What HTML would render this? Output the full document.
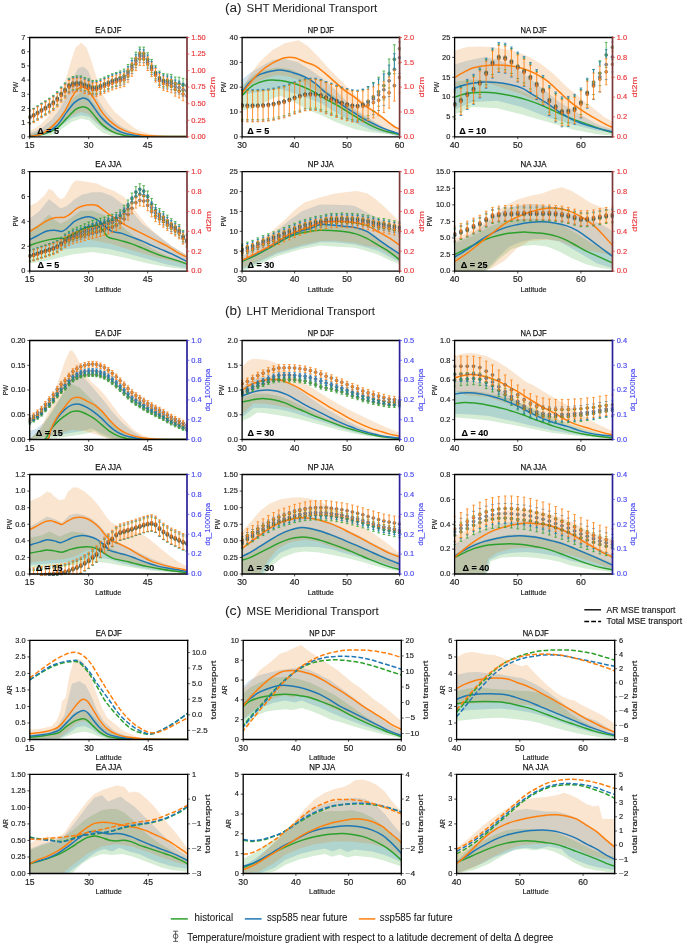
<!DOCTYPE html>
<html><head><meta charset="utf-8"><title>Meridional Transport</title><style>html,body{margin:0;padding:0;background:#fff;}svg{display:block;font-family:"Liberation Sans",sans-serif;will-change:transform;}</style></head><body>
<svg width="685" height="944" viewBox="0 0 685 944" font-family="Liberation Sans, sans-serif">
<rect width="685" height="944" fill="#fff"/>
<clipPath id="c0"><rect x="29.70" y="37.50" width="157.30" height="99.30"/></clipPath>
<g clip-path="url(#c0)">
<path d="M29.74,134.35L46.96,129.36L59.45,118.12L68.18,104.39L75.67,95.66L81.91,91.91L88.15,95.66L95.64,105.64L104.38,118.12L114.36,128.11L126.85,133.85L141.82,136.35L186.76,136.60L186.76,136.60L111.87,136.10L102.63,132.85L96.64,128.11L89.40,120.62L81.41,118.62L71.93,121.87L61.69,129.11L54.70,133.85L49.46,135.85L29.74,136.60Z" fill="#2ca02c" fill-opacity="0.20" stroke="none"/>
<path d="M29.74,133.10L41.97,128.11L51.96,119.37L59.45,109.39L65.69,96.91L71.93,79.43L78.17,68.20L83.16,66.45L88.15,70.69L93.15,83.18L97.39,98.65L106.13,111.88L116.86,123.37L122.10,126.86L131.84,131.85L146.82,135.35L186.76,136.60L186.76,136.60L116.86,134.85L104.38,129.86L96.64,123.37L89.40,116.88L81.41,115.13L71.93,118.12L61.69,125.11L46.96,134.35L29.74,136.60Z" fill="#1f77b4" fill-opacity="0.20" stroke="none"/>
<path d="M29.74,131.35L39.47,125.61L46.96,118.12L54.45,106.89L60.69,94.41L65.69,79.43L70.68,61.96L75.67,47.48L81.16,42.73L86.41,47.48L91.40,60.71L96.39,76.93L101.88,92.66L108.12,103.15L114.86,111.88L121.85,118.12L128.09,123.37L134.34,128.11L140.08,131.11L151.81,134.35L166.79,135.85L186.76,136.35L186.76,136.60L126.85,135.60L111.87,133.10L102.63,127.36L96.64,122.12L89.40,114.38L81.41,111.63L71.93,115.63L61.69,123.37L54.70,128.11L46.96,133.10L29.74,136.60Z" fill="#e67d14" fill-opacity="0.20" stroke="none"/>
<path d="M29.74,136.35C32.19,135.93 39.93,135.22 44.47,133.85C49.00,132.48 53.20,130.73 56.95,128.11C60.69,125.49 63.81,121.24 66.93,118.12C70.05,115.00 73.18,111.26 75.67,109.39C78.17,107.51 79.83,107.02 81.91,106.89C83.99,106.77 86.07,107.18 88.15,108.64C90.23,110.09 92.11,113.01 94.39,115.63C96.68,118.25 98.97,121.74 101.88,124.36C104.80,126.99 108.54,129.61 111.87,131.35C115.20,133.10 118.11,134.02 121.85,134.85C125.60,135.68 123.52,136.06 134.34,136.35C145.15,136.64 178.02,136.56 186.76,136.60" fill="none" stroke="#2ca02c" stroke-width="1.5" stroke-linejoin="round"/>
<path d="M29.74,136.35C32.19,135.81 39.93,134.89 44.47,133.10C49.00,131.31 53.20,129.15 56.95,125.61C60.69,122.08 64.02,115.71 66.93,111.88C69.85,108.06 71.93,104.94 74.42,102.65C76.92,100.36 79.62,98.61 81.91,98.15C84.20,97.70 86.07,98.24 88.15,99.90C90.23,101.56 92.11,105.10 94.39,108.14C96.68,111.18 98.97,115.00 101.88,118.12C104.80,121.24 108.54,124.49 111.87,126.86C115.20,129.23 118.11,130.94 121.85,132.35C125.60,133.77 130.18,134.68 134.34,135.35C138.50,136.01 138.08,136.14 146.82,136.35C155.55,136.56 180.10,136.56 186.76,136.60" fill="none" stroke="#1f77b4" stroke-width="1.5" stroke-linejoin="round"/>
<path d="M29.74,136.35C31.78,135.93 37.85,135.85 41.97,133.85C46.09,131.85 50.71,128.03 54.45,124.36C58.20,120.70 61.53,116.38 64.44,111.88C67.35,107.39 69.76,101.15 71.93,97.40C74.09,93.66 75.75,91.16 77.42,89.42C79.08,87.67 80.33,87.00 81.91,86.92C83.49,86.84 84.82,86.84 86.91,88.92C88.99,91.00 91.90,95.57 94.39,99.40C96.89,103.23 99.39,108.35 101.88,111.88C104.38,115.42 106.46,117.92 109.37,120.62C112.28,123.32 116.03,126.15 119.36,128.11C122.69,130.06 125.60,131.19 129.34,132.35C133.09,133.52 137.25,134.43 141.82,135.10C146.40,135.76 149.31,136.10 156.80,136.35C164.29,136.60 181.77,136.56 186.76,136.60" fill="none" stroke="#ff7f0e" stroke-width="1.5" stroke-linejoin="round"/>
</g>
<g clip-path="url(#c0x)">
<g fill="#2ca02c" fill-opacity="0.75" stroke="#444" stroke-width="0.70" stroke-opacity="0.70"><circle cx="29.70" cy="116.63" r="1.50"/><circle cx="33.63" cy="114.79" r="1.50"/><circle cx="37.56" cy="112.29" r="1.50"/><circle cx="41.50" cy="109.69" r="1.50"/><circle cx="45.43" cy="107.34" r="1.50"/><circle cx="49.36" cy="104.74" r="1.50"/><circle cx="53.30" cy="101.92" r="1.50"/><circle cx="57.23" cy="98.12" r="1.50"/><circle cx="61.16" cy="93.35" r="1.50"/><circle cx="65.09" cy="89.32" r="1.50"/><circle cx="69.03" cy="84.80" r="1.50"/><circle cx="72.96" cy="83.02" r="1.50"/><circle cx="76.89" cy="82.43" r="1.50"/><circle cx="80.82" cy="82.39" r="1.50"/><circle cx="84.75" cy="84.07" r="1.50"/><circle cx="88.69" cy="85.32" r="1.50"/><circle cx="92.62" cy="86.93" r="1.50"/><circle cx="96.55" cy="86.78" r="1.50"/><circle cx="100.49" cy="85.35" r="1.50"/><circle cx="104.42" cy="83.56" r="1.50"/><circle cx="108.35" cy="82.04" r="1.50"/><circle cx="112.28" cy="80.21" r="1.50"/><circle cx="116.22" cy="78.97" r="1.50"/><circle cx="120.15" cy="77.40" r="1.50"/><circle cx="124.08" cy="75.66" r="1.50"/><circle cx="128.01" cy="70.98" r="1.50"/><circle cx="131.94" cy="64.63" r="1.50"/><circle cx="135.88" cy="58.65" r="1.50"/><circle cx="139.81" cy="53.48" r="1.50"/><circle cx="143.74" cy="53.62" r="1.50"/><circle cx="147.68" cy="59.30" r="1.50"/><circle cx="151.61" cy="66.06" r="1.50"/><circle cx="155.54" cy="72.27" r="1.50"/><circle cx="159.47" cy="77.61" r="1.50"/><circle cx="163.41" cy="80.12" r="1.50"/><circle cx="167.34" cy="80.58" r="1.50"/><circle cx="171.27" cy="80.92" r="1.50"/><circle cx="175.20" cy="83.51" r="1.50"/><circle cx="179.13" cy="83.70" r="1.50"/><circle cx="183.07" cy="84.89" r="1.50"/><circle cx="187.00" cy="85.67" r="1.50"/></g>
<g fill="#1f77b4" fill-opacity="0.75" stroke="#444" stroke-width="0.70" stroke-opacity="0.70"><circle cx="29.70" cy="117.13" r="1.50"/><circle cx="33.63" cy="115.36" r="1.50"/><circle cx="37.56" cy="112.94" r="1.50"/><circle cx="41.50" cy="110.41" r="1.50"/><circle cx="45.43" cy="108.12" r="1.50"/><circle cx="49.36" cy="105.60" r="1.50"/><circle cx="53.30" cy="102.84" r="1.50"/><circle cx="57.23" cy="99.12" r="1.50"/><circle cx="61.16" cy="94.39" r="1.50"/><circle cx="65.09" cy="90.41" r="1.50"/><circle cx="69.03" cy="85.95" r="1.50"/><circle cx="72.96" cy="84.21" r="1.50"/><circle cx="76.89" cy="83.68" r="1.50"/><circle cx="80.82" cy="83.68" r="1.50"/><circle cx="84.75" cy="85.39" r="1.50"/><circle cx="88.69" cy="86.68" r="1.50"/><circle cx="92.62" cy="88.32" r="1.50"/><circle cx="96.55" cy="88.21" r="1.50"/><circle cx="100.49" cy="86.81" r="1.50"/><circle cx="104.42" cy="85.04" r="1.50"/><circle cx="108.35" cy="83.38" r="1.50"/><circle cx="112.28" cy="81.41" r="1.50"/><circle cx="116.22" cy="80.02" r="1.50"/><circle cx="120.15" cy="78.90" r="1.50"/><circle cx="124.08" cy="77.62" r="1.50"/><circle cx="128.01" cy="73.12" r="1.50"/><circle cx="131.94" cy="66.92" r="1.50"/><circle cx="135.88" cy="61.09" r="1.50"/><circle cx="139.81" cy="55.73" r="1.50"/><circle cx="143.74" cy="56.21" r="1.50"/><circle cx="147.68" cy="61.52" r="1.50"/><circle cx="151.61" cy="67.91" r="1.50"/><circle cx="155.54" cy="73.76" r="1.50"/><circle cx="159.47" cy="79.05" r="1.50"/><circle cx="163.41" cy="81.51" r="1.50"/><circle cx="167.34" cy="82.47" r="1.50"/><circle cx="171.27" cy="83.34" r="1.50"/><circle cx="175.20" cy="86.46" r="1.50"/><circle cx="179.13" cy="87.57" r="1.50"/><circle cx="183.07" cy="89.70" r="1.50"/><circle cx="187.00" cy="90.66" r="1.50"/></g>
<g fill="#ff7f0e" fill-opacity="0.75" stroke="#444" stroke-width="0.70" stroke-opacity="0.70"><circle cx="29.70" cy="117.62" r="1.50"/><circle cx="33.63" cy="115.93" r="1.50"/><circle cx="37.56" cy="113.58" r="1.50"/><circle cx="41.50" cy="111.12" r="1.50"/><circle cx="45.43" cy="108.91" r="1.50"/><circle cx="49.36" cy="106.46" r="1.50"/><circle cx="53.30" cy="103.77" r="1.50"/><circle cx="57.23" cy="100.12" r="1.50"/><circle cx="61.16" cy="95.44" r="1.50"/><circle cx="65.09" cy="91.51" r="1.50"/><circle cx="69.03" cy="87.10" r="1.50"/><circle cx="72.96" cy="85.41" r="1.50"/><circle cx="76.89" cy="84.92" r="1.50"/><circle cx="80.82" cy="84.96" r="1.50"/><circle cx="84.75" cy="86.71" r="1.50"/><circle cx="88.69" cy="88.03" r="1.50"/><circle cx="92.62" cy="89.71" r="1.50"/><circle cx="96.55" cy="89.64" r="1.50"/><circle cx="100.49" cy="88.28" r="1.50"/><circle cx="104.42" cy="86.55" r="1.50"/><circle cx="108.35" cy="85.04" r="1.50"/><circle cx="112.28" cy="83.21" r="1.50"/><circle cx="116.22" cy="81.97" r="1.50"/><circle cx="120.15" cy="80.99" r="1.50"/><circle cx="124.08" cy="79.86" r="1.50"/><circle cx="128.01" cy="75.55" r="1.50"/><circle cx="131.94" cy="69.54" r="1.50"/><circle cx="135.88" cy="63.89" r="1.50"/><circle cx="139.81" cy="58.72" r="1.50"/><circle cx="143.74" cy="58.83" r="1.50"/><circle cx="147.68" cy="63.76" r="1.50"/><circle cx="151.61" cy="69.76" r="1.50"/><circle cx="155.54" cy="75.28" r="1.50"/><circle cx="159.47" cy="80.86" r="1.50"/><circle cx="163.41" cy="83.60" r="1.50"/><circle cx="167.34" cy="84.86" r="1.50"/><circle cx="171.27" cy="86.02" r="1.50"/><circle cx="175.20" cy="89.44" r="1.50"/><circle cx="179.13" cy="91.21" r="1.50"/><circle cx="183.07" cy="94.04" r="1.50"/><circle cx="187.00" cy="95.66" r="1.50"/></g>
<path d="M29.70,110.14V110.88M33.63,108.30V109.19M37.56,105.80V106.84M41.50,103.20V104.38M45.43,100.85V102.17M49.36,98.25V99.71M53.30,95.43V97.03M57.23,91.63V93.38M61.16,86.86V88.70M65.09,82.83V84.77M69.03,78.31V80.36M72.96,76.53V78.67M76.89,75.94V78.18M80.82,75.90V78.22M84.75,77.58V79.97M88.69,78.83V81.29M92.62,80.44V82.97M96.55,80.29V82.90M100.49,78.86V81.54M104.42,77.07V79.81M108.35,75.55V78.30M112.28,73.72V76.47M116.22,72.48V75.23M120.15,70.91V74.25M124.08,69.17V73.12M128.01,64.49V68.81M131.94,58.14V62.80M135.88,52.16V57.15M139.81,46.99V51.98M143.74,47.13V52.09M147.68,52.81V57.02M151.61,59.57V63.02M155.54,65.78V68.54M159.47,71.12V74.12M163.41,73.63V76.86M167.34,74.09V78.12M171.27,74.43V79.28M175.20,77.02V82.70M179.13,77.21V84.47M183.07,78.39V87.30M187.00,79.18V88.92" stroke="#2ca02c" stroke-width="0.90" stroke-opacity="0.85" fill="none"/>
<path d="M28.40,110.14h2.6M28.40,123.12h2.6M32.33,108.30h2.6M32.33,121.28h2.6M36.27,105.80h2.6M36.27,118.78h2.6M40.20,103.20h2.6M40.20,116.18h2.6M44.13,100.85h2.6M44.13,113.83h2.6M48.06,98.25h2.6M48.06,111.23h2.6M52.00,95.43h2.6M52.00,108.41h2.6M55.93,91.63h2.6M55.93,104.61h2.6M59.86,86.86h2.6M59.86,99.84h2.6M63.79,82.83h2.6M63.79,95.81h2.6M67.73,78.31h2.6M67.73,91.29h2.6M71.66,76.53h2.6M71.66,89.51h2.6M75.59,75.94h2.6M75.59,88.92h2.6M79.52,75.90h2.6M79.52,88.88h2.6M83.45,77.58h2.6M83.45,90.56h2.6M87.39,78.83h2.6M87.39,91.81h2.6M91.32,80.44h2.6M91.32,93.42h2.6M95.25,80.29h2.6M95.25,93.27h2.6M99.19,78.86h2.6M99.19,91.84h2.6M103.12,77.07h2.6M103.12,90.05h2.6M107.05,75.55h2.6M107.05,88.53h2.6M110.98,73.72h2.6M110.98,86.70h2.6M114.92,72.48h2.6M114.92,85.46h2.6M118.85,70.91h2.6M118.85,83.89h2.6M122.78,69.17h2.6M122.78,82.15h2.6M126.71,64.49h2.6M126.71,77.47h2.6M130.64,58.14h2.6M130.64,71.12h2.6M134.58,52.16h2.6M134.58,65.14h2.6M138.51,46.99h2.6M138.51,59.97h2.6M142.44,47.13h2.6M142.44,60.11h2.6M146.38,52.81h2.6M146.38,65.79h2.6M150.31,59.57h2.6M150.31,72.55h2.6M154.24,65.78h2.6M154.24,78.76h2.6M158.17,71.12h2.6M158.17,84.10h2.6M162.10,73.63h2.6M162.10,86.61h2.6M166.04,74.09h2.6M166.04,87.07h2.6M169.97,74.43h2.6M169.97,87.41h2.6M173.90,77.02h2.6M173.90,90.00h2.6M177.83,77.21h2.6M177.83,90.19h2.6M181.77,78.39h2.6M181.77,91.38h2.6M185.70,79.18h2.6M185.70,92.16h2.6" stroke="#2ca02c" stroke-width="0.9" stroke-opacity="0.85" fill="none"/>
<path d="M29.70,110.64V110.88M33.63,108.87V109.19M37.56,106.44V106.84M41.50,103.92V104.38M45.43,101.63V102.17M49.36,99.11V99.71M53.30,96.35V97.03M57.23,92.63V93.38M61.16,87.90V88.70M65.09,83.92V84.77M69.03,79.46V80.36M72.96,77.72V78.67M76.89,77.19V78.18M80.82,77.19V78.22M84.75,78.90V79.97M88.69,80.19V81.29M92.62,81.83V82.97M96.55,81.72V82.90M100.49,80.32V81.54M104.42,78.55V79.81M108.35,76.89V78.30M112.28,74.92V76.47M116.22,73.53V75.23M120.15,72.40V74.25M124.08,71.13V73.12M128.01,66.63V68.81M131.94,60.43V62.80M135.88,54.60V57.15M139.81,49.24V51.98M143.74,49.72V52.09M147.68,55.03V57.02M151.61,61.42V63.02M155.54,67.27V68.54M159.47,72.56V74.12M163.41,75.01V76.86M167.34,75.98V78.12M171.27,76.85V79.28M175.20,79.97V82.70M179.13,81.08V84.47M183.07,83.21V87.30M187.00,84.17V88.92" stroke="#1f77b4" stroke-width="0.90" stroke-opacity="0.85" fill="none"/>
<path d="M28.40,110.64h2.6M28.40,123.62h2.6M32.33,108.87h2.6M32.33,121.85h2.6M36.27,106.44h2.6M36.27,119.43h2.6M40.20,103.92h2.6M40.20,116.90h2.6M44.13,101.63h2.6M44.13,114.61h2.6M48.06,99.11h2.6M48.06,112.09h2.6M52.00,96.35h2.6M52.00,109.34h2.6M55.93,92.63h2.6M55.93,105.61h2.6M59.86,87.90h2.6M59.86,100.88h2.6M63.79,83.92h2.6M63.79,96.91h2.6M67.73,79.46h2.6M67.73,92.44h2.6M71.66,77.72h2.6M71.66,90.71h2.6M75.59,77.19h2.6M75.59,90.17h2.6M79.52,77.19h2.6M79.52,90.17h2.6M83.45,78.90h2.6M83.45,91.88h2.6M87.39,80.19h2.6M87.39,93.17h2.6M91.32,81.83h2.6M91.32,94.81h2.6M95.25,81.72h2.6M95.25,94.70h2.6M99.19,80.32h2.6M99.19,93.30h2.6M103.12,78.55h2.6M103.12,91.54h2.6M107.05,76.89h2.6M107.05,89.87h2.6M110.98,74.92h2.6M110.98,87.90h2.6M114.92,73.53h2.6M114.92,86.51h2.6M118.85,72.40h2.6M118.85,85.39h2.6M122.78,71.13h2.6M122.78,84.11h2.6M126.71,66.63h2.6M126.71,79.61h2.6M130.64,60.43h2.6M130.64,73.41h2.6M134.58,54.60h2.6M134.58,67.58h2.6M138.51,49.24h2.6M138.51,62.22h2.6M142.44,49.72h2.6M142.44,62.70h2.6M146.38,55.03h2.6M146.38,68.01h2.6M150.31,61.42h2.6M150.31,74.40h2.6M154.24,67.27h2.6M154.24,80.25h2.6M158.17,72.56h2.6M158.17,85.54h2.6M162.10,75.01h2.6M162.10,88.00h2.6M166.04,75.98h2.6M166.04,88.96h2.6M169.97,76.85h2.6M169.97,89.84h2.6M173.90,79.97h2.6M173.90,92.95h2.6M177.83,81.08h2.6M177.83,94.06h2.6M181.77,83.21h2.6M181.77,96.19h2.6M185.70,84.17h2.6M185.70,97.15h2.6" stroke="#1f77b4" stroke-width="0.9" stroke-opacity="0.85" fill="none"/>
<path d="M29.70,110.88V124.36M33.63,109.19V122.67M37.56,106.84V120.32M41.50,104.38V117.86M45.43,102.17V115.65M49.36,99.71V113.20M53.30,97.03V110.51M57.23,93.38V106.86M61.16,88.70V102.18M65.09,84.77V98.25M69.03,80.36V93.84M72.96,78.67V92.15M76.89,78.18V91.66M80.82,78.22V91.70M84.75,79.97V93.45M88.69,81.29V94.77M92.62,82.97V96.45M96.55,82.90V96.38M100.49,81.54V95.02M104.42,79.81V93.29M108.35,78.30V91.78M112.28,76.47V89.95M116.22,75.23V88.71M120.15,74.25V87.73M124.08,73.12V86.60M128.01,68.81V82.29M131.94,62.80V76.28M135.88,57.15V70.63M139.81,51.98V65.46M143.74,52.09V65.57M147.68,57.02V70.50M151.61,63.02V76.50M155.54,68.54V82.02M159.47,74.12V87.60M163.41,76.86V90.34M167.34,78.12V91.60M171.27,79.28V92.77M175.20,82.70V96.18M179.13,84.47V97.95M183.07,87.30V100.78M187.00,88.92V102.40" stroke="#ff7f0e" stroke-width="1.00" stroke-opacity="0.85" fill="none"/>
<path d="M28.40,110.88h2.6M28.40,124.36h2.6M32.33,109.19h2.6M32.33,122.67h2.6M36.27,106.84h2.6M36.27,120.32h2.6M40.20,104.38h2.6M40.20,117.86h2.6M44.13,102.17h2.6M44.13,115.65h2.6M48.06,99.71h2.6M48.06,113.20h2.6M52.00,97.03h2.6M52.00,110.51h2.6M55.93,93.38h2.6M55.93,106.86h2.6M59.86,88.70h2.6M59.86,102.18h2.6M63.79,84.77h2.6M63.79,98.25h2.6M67.73,80.36h2.6M67.73,93.84h2.6M71.66,78.67h2.6M71.66,92.15h2.6M75.59,78.18h2.6M75.59,91.66h2.6M79.52,78.22h2.6M79.52,91.70h2.6M83.45,79.97h2.6M83.45,93.45h2.6M87.39,81.29h2.6M87.39,94.77h2.6M91.32,82.97h2.6M91.32,96.45h2.6M95.25,82.90h2.6M95.25,96.38h2.6M99.19,81.54h2.6M99.19,95.02h2.6M103.12,79.81h2.6M103.12,93.29h2.6M107.05,78.30h2.6M107.05,91.78h2.6M110.98,76.47h2.6M110.98,89.95h2.6M114.92,75.23h2.6M114.92,88.71h2.6M118.85,74.25h2.6M118.85,87.73h2.6M122.78,73.12h2.6M122.78,86.60h2.6M126.71,68.81h2.6M126.71,82.29h2.6M130.64,62.80h2.6M130.64,76.28h2.6M134.58,57.15h2.6M134.58,70.63h2.6M138.51,51.98h2.6M138.51,65.46h2.6M142.44,52.09h2.6M142.44,65.57h2.6M146.38,57.02h2.6M146.38,70.50h2.6M150.31,63.02h2.6M150.31,76.50h2.6M154.24,68.54h2.6M154.24,82.02h2.6M158.17,74.12h2.6M158.17,87.60h2.6M162.10,76.86h2.6M162.10,90.34h2.6M166.04,78.12h2.6M166.04,91.60h2.6M169.97,79.28h2.6M169.97,92.77h2.6M173.90,82.70h2.6M173.90,96.18h2.6M177.83,84.47h2.6M177.83,97.95h2.6M181.77,87.30h2.6M181.77,100.78h2.6M185.70,88.92h2.6M185.70,102.40h2.6" stroke="#ff7f0e" stroke-width="0.9" stroke-opacity="0.85" fill="none"/>
</g>
<clipPath id="c0x"><rect x="28.70" y="35.50" width="159.30" height="103.30"/></clipPath>
<path d="M29.70,37.50H187.00M29.70,37.50V136.80M29.70,136.80H187.00" stroke="#000" stroke-width="1.30" fill="none" stroke-linecap="square"/>
<path d="M187.00,37.50V136.80" stroke="#7a3838" stroke-width="1.70" fill="none" stroke-linecap="square"/>
<text x="29.70" y="148.00" font-size="8.20" fill="#222" text-anchor="middle" stroke="#222" stroke-width="0.16" textLength="9.67" lengthAdjust="spacingAndGlyphs">15</text>
<text x="88.69" y="148.00" font-size="8.20" fill="#222" text-anchor="middle" stroke="#222" stroke-width="0.16" textLength="9.67" lengthAdjust="spacingAndGlyphs">30</text>
<text x="147.68" y="148.00" font-size="8.20" fill="#222" text-anchor="middle" stroke="#222" stroke-width="0.16" textLength="9.67" lengthAdjust="spacingAndGlyphs">45</text>
<text x="25.50" y="139.10" font-size="6.50" fill="#222" text-anchor="end" stroke="#222" stroke-width="0.15" textLength="4.13" lengthAdjust="spacingAndGlyphs">0</text>
<text x="25.50" y="124.91" font-size="6.50" fill="#222" text-anchor="end" stroke="#222" stroke-width="0.15" textLength="4.13" lengthAdjust="spacingAndGlyphs">1</text>
<text x="25.50" y="110.73" font-size="6.50" fill="#222" text-anchor="end" stroke="#222" stroke-width="0.15" textLength="4.13" lengthAdjust="spacingAndGlyphs">2</text>
<text x="25.50" y="96.54" font-size="6.50" fill="#222" text-anchor="end" stroke="#222" stroke-width="0.15" textLength="4.13" lengthAdjust="spacingAndGlyphs">3</text>
<text x="25.50" y="82.36" font-size="6.50" fill="#222" text-anchor="end" stroke="#222" stroke-width="0.15" textLength="4.13" lengthAdjust="spacingAndGlyphs">4</text>
<text x="25.50" y="68.17" font-size="6.50" fill="#222" text-anchor="end" stroke="#222" stroke-width="0.15" textLength="4.13" lengthAdjust="spacingAndGlyphs">5</text>
<text x="25.50" y="53.99" font-size="6.50" fill="#222" text-anchor="end" stroke="#222" stroke-width="0.15" textLength="4.13" lengthAdjust="spacingAndGlyphs">6</text>
<text x="25.50" y="39.80" font-size="6.50" fill="#222" text-anchor="end" stroke="#222" stroke-width="0.15" textLength="4.13" lengthAdjust="spacingAndGlyphs">7</text>
<path d="M29.70,136.80v2.4M88.69,136.80v2.4M147.68,136.80v2.4M29.70,136.80h-2.4M29.70,122.61h-2.4M29.70,108.43h-2.4M29.70,94.24h-2.4M29.70,80.06h-2.4M29.70,65.87h-2.4M29.70,51.69h-2.4M29.70,37.50h-2.4" stroke="#000" stroke-width="0.7" fill="none"/>
<text x="191.20" y="139.10" font-size="6.50" fill="#e8383c" text-anchor="start" stroke="#e8383c" stroke-width="0.15" textLength="14.47" lengthAdjust="spacingAndGlyphs">0.00</text>
<text x="191.20" y="122.55" font-size="6.50" fill="#e8383c" text-anchor="start" stroke="#e8383c" stroke-width="0.15" textLength="14.47" lengthAdjust="spacingAndGlyphs">0.25</text>
<text x="191.20" y="106.00" font-size="6.50" fill="#e8383c" text-anchor="start" stroke="#e8383c" stroke-width="0.15" textLength="14.47" lengthAdjust="spacingAndGlyphs">0.50</text>
<text x="191.20" y="89.45" font-size="6.50" fill="#e8383c" text-anchor="start" stroke="#e8383c" stroke-width="0.15" textLength="14.47" lengthAdjust="spacingAndGlyphs">0.75</text>
<text x="191.20" y="72.90" font-size="6.50" fill="#e8383c" text-anchor="start" stroke="#e8383c" stroke-width="0.15" textLength="14.47" lengthAdjust="spacingAndGlyphs">1.00</text>
<text x="191.20" y="56.35" font-size="6.50" fill="#e8383c" text-anchor="start" stroke="#e8383c" stroke-width="0.15" textLength="14.47" lengthAdjust="spacingAndGlyphs">1.25</text>
<text x="191.20" y="39.80" font-size="6.50" fill="#e8383c" text-anchor="start" stroke="#e8383c" stroke-width="0.15" textLength="14.47" lengthAdjust="spacingAndGlyphs">1.50</text>
<path d="M187.00,136.80h2.4M187.00,120.25h2.4M187.00,103.70h2.4M187.00,87.15h2.4M187.00,70.60h2.4M187.00,54.05h2.4M187.00,37.50h2.4" stroke="#e8383c" stroke-width="0.7" fill="none"/>
<text x="108.35" y="33.10" font-size="9.40" fill="#111" text-anchor="middle" stroke="#111" stroke-width="0.25" textLength="26.00" lengthAdjust="spacingAndGlyphs">EA DJF</text>
<text x="17.87" y="87.15" font-size="6.60" fill="#222" text-anchor="middle" stroke="#222" stroke-width="0.15" transform="rotate(-90 17.87 87.15)" textLength="10.40" lengthAdjust="spacingAndGlyphs">PW</text>
<text x="215.27" y="87.15" font-size="7.90" fill="#e8383c" text-anchor="middle" stroke="#e8383c" stroke-width="0.16" transform="rotate(-90 215.27 87.15)" textLength="20.60" lengthAdjust="spacingAndGlyphs">dt2m</text>
<text x="37.20" y="133.60" font-size="9.40" fill="#000" text-anchor="start" stroke="#000" stroke-width="0.10" font-weight="bold" textLength="21.90" lengthAdjust="spacingAndGlyphs">Δ = 5</text>
<clipPath id="c1"><rect x="242.10" y="37.50" width="157.50" height="99.30"/></clipPath>
<g clip-path="url(#c1)">
<path d="M241.99,85.67L253.72,74.94L264.96,69.94L276.94,67.45L289.92,68.95L304.90,75.69L319.88,85.67L334.85,96.41L349.83,106.89L364.81,116.88L379.79,126.36L394.77,133.10L399.51,134.85L399.51,136.60L390.02,134.35L369.80,132.35L355.07,129.36L334.85,121.87L321.87,115.13L311.89,111.38L300.40,105.64L288.67,98.65L280.43,95.91L274.69,97.40L265.46,102.15L253.72,107.89L241.99,110.39Z" fill="#2ca02c" fill-opacity="0.20" stroke="none"/>
<path d="M241.99,79.43L249.98,73.19L259.96,66.95L272.45,59.96L284.93,58.96L297.41,61.96L309.89,69.45L322.37,78.18L334.85,89.42L347.34,101.90L359.82,111.88L374.80,121.87L389.77,130.61L399.51,134.35L399.51,136.60L384.78,133.10L369.80,129.36L352.33,121.87L334.85,111.88L321.87,103.40L300.40,95.16L280.43,88.92L259.46,91.66L241.99,95.16Z" fill="#1f77b4" fill-opacity="0.20" stroke="none"/>
<path d="M241.99,89.42L249.98,74.44L259.96,61.46L272.45,49.97L284.93,43.23L298.66,40.24L307.39,45.73L317.38,55.72L329.86,69.45L342.34,81.93L354.82,94.41L367.31,104.39L379.79,114.38L392.27,124.36L399.51,128.11L399.51,135.60L379.79,130.61L364.81,123.12L349.83,114.38L334.85,104.39L321.87,94.41L311.89,88.17L300.40,80.68L288.67,76.44L276.94,74.94L265.46,78.18L253.72,83.18L241.99,90.66Z" fill="#e67d14" fill-opacity="0.20" stroke="none"/>
<path d="M241.99,95.66C243.74,93.99 248.65,88.17 252.47,85.67C256.30,83.18 261.21,81.59 264.96,80.68C268.70,79.76 271.61,80.10 274.94,80.18C278.27,80.26 281.18,80.47 284.93,81.18C288.67,81.89 293.25,82.97 297.41,84.42C301.57,85.88 306.15,88.04 309.89,89.92C313.64,91.79 316.55,93.74 319.88,95.66C323.20,97.57 326.53,99.53 329.86,101.40C333.19,103.27 336.52,104.94 339.85,106.89C343.18,108.85 346.50,111.05 349.83,113.13C353.16,115.21 356.49,117.42 359.82,119.37C363.15,121.33 366.47,123.20 369.80,124.86C373.13,126.53 376.46,128.11 379.79,129.36C383.12,130.61 386.49,131.52 389.77,132.35C393.06,133.19 397.89,134.02 399.51,134.35" fill="none" stroke="#2ca02c" stroke-width="1.5" stroke-linejoin="round"/>
<path d="M241.99,91.91C243.32,90.25 246.98,84.84 249.98,81.93C252.97,79.01 256.22,76.27 259.96,74.44C263.71,72.61 268.70,71.65 272.45,70.94C276.19,70.24 279.10,69.94 282.43,70.19C285.76,70.44 288.67,71.32 292.42,72.44C296.16,73.56 301.15,75.15 304.90,76.93C308.64,78.72 311.55,80.68 314.88,83.18C318.21,85.67 321.54,89.21 324.87,91.91C328.20,94.62 331.53,96.91 334.85,99.40C338.18,101.90 341.51,104.60 344.84,106.89C348.17,109.18 351.50,111.05 354.82,113.13C358.15,115.21 361.48,117.50 364.81,119.37C368.14,121.24 371.47,122.78 374.80,124.36C378.12,125.95 381.45,127.53 384.78,128.86C388.11,130.19 392.31,131.52 394.77,132.35C397.22,133.19 398.72,133.60 399.51,133.85" fill="none" stroke="#1f77b4" stroke-width="1.5" stroke-linejoin="round"/>
<path d="M241.99,93.16C243.32,91.50 246.98,86.71 249.98,83.18C252.97,79.64 256.22,75.27 259.96,71.94C263.71,68.61 268.28,65.58 272.45,63.20C276.61,60.83 281.18,58.63 284.93,57.71C288.67,56.80 291.58,57.01 294.91,57.71C298.24,58.42 301.57,60.62 304.90,61.96C308.23,63.29 311.55,63.83 314.88,65.70C318.21,67.57 321.54,70.49 324.87,73.19C328.20,75.89 331.53,79.01 334.85,81.93C338.18,84.84 341.51,88.08 344.84,90.66C348.17,93.24 351.50,94.91 354.82,97.40C358.15,99.90 361.48,103.23 364.81,105.64C368.14,108.06 371.47,109.59 374.80,111.88C378.12,114.17 381.45,116.88 384.78,119.37C388.11,121.87 392.31,125.28 394.77,126.86C397.22,128.44 398.72,128.53 399.51,128.86" fill="none" stroke="#ff7f0e" stroke-width="1.5" stroke-linejoin="round"/>
</g>
<g clip-path="url(#c1x)">
<g fill="#2ca02c" fill-opacity="0.75" stroke="#444" stroke-width="0.70" stroke-opacity="0.70"><circle cx="242.10" cy="104.90" r="1.50"/><circle cx="247.35" cy="105.15" r="1.50"/><circle cx="252.60" cy="105.14" r="1.50"/><circle cx="257.85" cy="105.14" r="1.50"/><circle cx="263.10" cy="104.88" r="1.50"/><circle cx="268.35" cy="104.38" r="1.50"/><circle cx="273.60" cy="103.62" r="1.50"/><circle cx="278.85" cy="102.36" r="1.50"/><circle cx="284.10" cy="101.10" r="1.50"/><circle cx="289.35" cy="99.34" r="1.50"/><circle cx="294.60" cy="97.34" r="1.50"/><circle cx="299.85" cy="95.60" r="1.50"/><circle cx="305.10" cy="94.12" r="1.50"/><circle cx="310.35" cy="93.65" r="1.50"/><circle cx="315.60" cy="93.69" r="1.50"/><circle cx="320.85" cy="94.98" r="1.50"/><circle cx="326.10" cy="96.99" r="1.50"/><circle cx="331.35" cy="98.74" r="1.50"/><circle cx="336.60" cy="100.74" r="1.50"/><circle cx="341.85" cy="102.48" r="1.50"/><circle cx="347.10" cy="103.96" r="1.50"/><circle cx="352.35" cy="105.19" r="1.50"/><circle cx="357.60" cy="105.63" r="1.50"/><circle cx="362.85" cy="104.14" r="1.50"/><circle cx="368.10" cy="101.13" r="1.50"/><circle cx="373.35" cy="96.87" r="1.50"/><circle cx="378.60" cy="91.71" r="1.50"/><circle cx="383.85" cy="85.48" r="1.50"/><circle cx="389.10" cy="73.49" r="1.50"/><circle cx="394.35" cy="59.27" r="1.50"/><circle cx="399.60" cy="48.73" r="1.50"/></g>
<g fill="#1f77b4" fill-opacity="0.75" stroke="#444" stroke-width="0.70" stroke-opacity="0.70"><circle cx="242.10" cy="105.15" r="1.50"/><circle cx="247.35" cy="105.40" r="1.50"/><circle cx="252.60" cy="105.39" r="1.50"/><circle cx="257.85" cy="105.39" r="1.50"/><circle cx="263.10" cy="105.13" r="1.50"/><circle cx="268.35" cy="104.63" r="1.50"/><circle cx="273.60" cy="103.86" r="1.50"/><circle cx="278.85" cy="102.61" r="1.50"/><circle cx="284.10" cy="101.35" r="1.50"/><circle cx="289.35" cy="99.59" r="1.50"/><circle cx="294.60" cy="97.59" r="1.50"/><circle cx="299.85" cy="95.85" r="1.50"/><circle cx="305.10" cy="94.37" r="1.50"/><circle cx="310.35" cy="93.90" r="1.50"/><circle cx="315.60" cy="93.94" r="1.50"/><circle cx="320.85" cy="95.23" r="1.50"/><circle cx="326.10" cy="97.24" r="1.50"/><circle cx="331.35" cy="98.99" r="1.50"/><circle cx="336.60" cy="100.99" r="1.50"/><circle cx="341.85" cy="102.73" r="1.50"/><circle cx="347.10" cy="104.21" r="1.50"/><circle cx="352.35" cy="105.44" r="1.50"/><circle cx="357.60" cy="105.88" r="1.50"/><circle cx="362.85" cy="104.79" r="1.50"/><circle cx="368.10" cy="102.48" r="1.50"/><circle cx="373.35" cy="98.93" r="1.50"/><circle cx="378.60" cy="94.77" r="1.50"/><circle cx="383.85" cy="89.66" r="1.50"/><circle cx="389.10" cy="80.80" r="1.50"/><circle cx="394.35" cy="69.43" r="1.50"/><circle cx="399.60" cy="57.71" r="1.50"/></g>
<g fill="#ff7f0e" fill-opacity="0.75" stroke="#444" stroke-width="0.70" stroke-opacity="0.70"><circle cx="242.10" cy="106.15" r="1.50"/><circle cx="247.35" cy="106.39" r="1.50"/><circle cx="252.60" cy="106.39" r="1.50"/><circle cx="257.85" cy="106.39" r="1.50"/><circle cx="263.10" cy="106.13" r="1.50"/><circle cx="268.35" cy="105.62" r="1.50"/><circle cx="273.60" cy="104.86" r="1.50"/><circle cx="278.85" cy="103.61" r="1.50"/><circle cx="284.10" cy="102.35" r="1.50"/><circle cx="289.35" cy="100.59" r="1.50"/><circle cx="294.60" cy="98.59" r="1.50"/><circle cx="299.85" cy="96.84" r="1.50"/><circle cx="305.10" cy="95.37" r="1.50"/><circle cx="310.35" cy="94.90" r="1.50"/><circle cx="315.60" cy="94.94" r="1.50"/><circle cx="320.85" cy="96.23" r="1.50"/><circle cx="326.10" cy="98.24" r="1.50"/><circle cx="331.35" cy="99.99" r="1.50"/><circle cx="336.60" cy="101.99" r="1.50"/><circle cx="341.85" cy="103.72" r="1.50"/><circle cx="347.10" cy="105.21" r="1.50"/><circle cx="352.35" cy="106.44" r="1.50"/><circle cx="357.60" cy="106.88" r="1.50"/><circle cx="362.85" cy="106.36" r="1.50"/><circle cx="368.10" cy="105.04" r="1.50"/><circle cx="373.35" cy="102.53" r="1.50"/><circle cx="378.60" cy="100.24" r="1.50"/><circle cx="383.85" cy="97.16" r="1.50"/><circle cx="389.10" cy="92.68" r="1.50"/><circle cx="394.35" cy="85.63" r="1.50"/><circle cx="399.60" cy="77.43" r="1.50"/></g>
<path d="M242.10,90.42V90.67M247.35,90.67V90.92M252.60,90.66V90.91M257.85,90.66V90.91M263.10,90.40V90.65M268.35,89.90V90.15M273.60,89.14V89.39M278.85,87.88V88.13M284.10,86.62V86.87M289.35,84.86V85.11M294.60,82.86V83.11M299.85,81.12V81.37M305.10,79.64V79.89M310.35,79.17V79.42M315.60,79.21V79.46M320.85,80.50V80.75M326.10,82.51V82.76M331.35,84.26V84.51M336.60,86.26V86.51M341.85,88.00V88.25M347.10,89.49V89.73M352.35,90.71V90.96M357.60,91.15V91.40M362.85,89.66V90.88M368.10,86.66V89.56M373.35,82.40V87.05M378.60,77.23V84.77M383.85,71.00V81.69M389.10,59.01V77.20M394.35,44.79V70.16M399.60,36.50V61.96" stroke="#2ca02c" stroke-width="0.90" stroke-opacity="0.85" fill="none"/>
<path d="M240.80,90.42h2.6M240.80,119.38h2.6M246.05,90.67h2.6M246.05,119.62h2.6M251.30,90.66h2.6M251.30,119.62h2.6M256.55,90.66h2.6M256.55,119.62h2.6M261.80,90.40h2.6M261.80,119.36h2.6M267.05,89.90h2.6M267.05,118.86h2.6M272.30,89.14h2.6M272.30,118.09h2.6M277.55,87.88h2.6M277.55,116.84h2.6M282.80,86.62h2.6M282.80,115.58h2.6M288.05,84.86h2.6M288.05,113.82h2.6M293.30,82.86h2.6M293.30,111.82h2.6M298.55,81.12h2.6M298.55,110.08h2.6M303.80,79.64h2.6M303.80,108.60h2.6M309.05,79.17h2.6M309.05,108.13h2.6M314.30,79.21h2.6M314.30,108.17h2.6M319.55,80.50h2.6M319.55,109.46h2.6M324.80,82.51h2.6M324.80,111.47h2.6M330.05,84.26h2.6M330.05,113.22h2.6M335.30,86.26h2.6M335.30,115.22h2.6M340.55,88.00h2.6M340.55,116.95h2.6M345.80,89.49h2.6M345.80,118.44h2.6M351.05,90.71h2.6M351.05,119.67h2.6M356.30,91.15h2.6M356.30,120.11h2.6M361.55,89.66h2.6M361.55,118.62h2.6M366.80,86.66h2.6M366.80,115.61h2.6M372.05,82.40h2.6M372.05,111.35h2.6M377.30,77.23h2.6M377.30,106.19h2.6M382.55,71.00h2.6M382.55,99.96h2.6M387.80,59.01h2.6M387.80,87.97h2.6M393.05,44.79h2.6M393.05,73.75h2.6M398.30,63.20h2.6" stroke="#2ca02c" stroke-width="0.9" stroke-opacity="0.85" fill="none"/>
<path d="M242.10,89.42V90.67M247.35,89.67V90.92M252.60,89.67V90.91M257.85,89.66V90.91M263.10,89.41V90.65M268.35,88.90V90.15M273.60,88.14V89.39M278.85,86.88V88.13M284.10,85.62V86.87M289.35,83.86V85.11M294.60,81.86V83.11M299.85,80.12V81.37M305.10,78.64V79.89M310.35,78.17V79.42M315.60,78.21V79.46M320.85,79.50V80.75M326.10,81.51V82.76M331.35,83.26V84.51M336.60,85.26V86.51M341.85,87.00V88.25M347.10,88.49V89.73M352.35,89.71V90.96M357.60,90.16V91.40M362.85,89.06V90.88M368.10,86.75V89.56M373.35,83.20V87.05M378.60,79.04V84.77M383.85,73.93V81.69M389.10,65.07V77.20M394.35,53.70V70.16M399.60,41.99V61.96" stroke="#1f77b4" stroke-width="0.90" stroke-opacity="0.85" fill="none"/>
<path d="M240.80,89.42h2.6M240.80,120.88h2.6M246.05,89.67h2.6M246.05,121.12h2.6M251.30,89.67h2.6M251.30,121.12h2.6M256.55,89.66h2.6M256.55,121.12h2.6M261.80,89.41h2.6M261.80,120.86h2.6M267.05,88.90h2.6M267.05,120.35h2.6M272.30,88.14h2.6M272.30,119.59h2.6M277.55,86.88h2.6M277.55,118.33h2.6M282.80,85.62h2.6M282.80,117.08h2.6M288.05,83.86h2.6M288.05,115.31h2.6M293.30,81.86h2.6M293.30,113.31h2.6M298.55,80.12h2.6M298.55,111.57h2.6M303.80,78.64h2.6M303.80,110.10h2.6M309.05,78.17h2.6M309.05,109.63h2.6M314.30,78.21h2.6M314.30,109.66h2.6M319.55,79.50h2.6M319.55,110.96h2.6M324.80,81.51h2.6M324.80,112.96h2.6M330.05,83.26h2.6M330.05,114.72h2.6M335.30,85.26h2.6M335.30,116.71h2.6M340.55,87.00h2.6M340.55,118.45h2.6M345.80,88.49h2.6M345.80,119.94h2.6M351.05,89.71h2.6M351.05,121.16h2.6M356.30,90.16h2.6M356.30,121.61h2.6M361.55,89.06h2.6M361.55,120.51h2.6M366.80,86.75h2.6M366.80,118.21h2.6M372.05,83.20h2.6M372.05,114.66h2.6M377.30,79.04h2.6M377.30,110.49h2.6M382.55,73.93h2.6M382.55,105.39h2.6M387.80,65.07h2.6M387.80,96.53h2.6M393.05,53.70h2.6M393.05,85.16h2.6M398.30,41.99h2.6M398.30,73.44h2.6" stroke="#1f77b4" stroke-width="0.9" stroke-opacity="0.85" fill="none"/>
<path d="M242.10,90.67V121.62M247.35,90.92V121.87M252.60,90.91V121.87M257.85,90.91V121.87M263.10,90.65V121.61M268.35,90.15V121.10M273.60,89.39V120.34M278.85,88.13V119.08M284.10,86.87V117.83M289.35,85.11V116.06M294.60,83.11V114.06M299.85,81.37V112.32M305.10,79.89V110.85M310.35,79.42V110.38M315.60,79.46V110.41M320.85,80.75V111.70M326.10,82.76V113.71M331.35,84.51V115.46M336.60,86.51V117.46M341.85,88.25V119.20M347.10,89.73V120.69M352.35,90.96V121.91M357.60,91.40V122.36M362.85,90.88V121.84M368.10,89.56V120.52M373.35,87.05V118.01M378.60,84.77V115.72M383.85,81.69V112.64M389.10,77.20V108.16M394.35,70.16V101.11M399.60,61.96V92.91" stroke="#ff7f0e" stroke-width="1.00" stroke-opacity="0.85" fill="none"/>
<path d="M240.80,90.67h2.6M240.80,121.62h2.6M246.05,90.92h2.6M246.05,121.87h2.6M251.30,90.91h2.6M251.30,121.87h2.6M256.55,90.91h2.6M256.55,121.87h2.6M261.80,90.65h2.6M261.80,121.61h2.6M267.05,90.15h2.6M267.05,121.10h2.6M272.30,89.39h2.6M272.30,120.34h2.6M277.55,88.13h2.6M277.55,119.08h2.6M282.80,86.87h2.6M282.80,117.83h2.6M288.05,85.11h2.6M288.05,116.06h2.6M293.30,83.11h2.6M293.30,114.06h2.6M298.55,81.37h2.6M298.55,112.32h2.6M303.80,79.89h2.6M303.80,110.85h2.6M309.05,79.42h2.6M309.05,110.38h2.6M314.30,79.46h2.6M314.30,110.41h2.6M319.55,80.75h2.6M319.55,111.70h2.6M324.80,82.76h2.6M324.80,113.71h2.6M330.05,84.51h2.6M330.05,115.46h2.6M335.30,86.51h2.6M335.30,117.46h2.6M340.55,88.25h2.6M340.55,119.20h2.6M345.80,89.73h2.6M345.80,120.69h2.6M351.05,90.96h2.6M351.05,121.91h2.6M356.30,91.40h2.6M356.30,122.36h2.6M361.55,90.88h2.6M361.55,121.84h2.6M366.80,89.56h2.6M366.80,120.52h2.6M372.05,87.05h2.6M372.05,118.01h2.6M377.30,84.77h2.6M377.30,115.72h2.6M382.55,81.69h2.6M382.55,112.64h2.6M387.80,77.20h2.6M387.80,108.16h2.6M393.05,70.16h2.6M393.05,101.11h2.6M398.30,61.96h2.6M398.30,92.91h2.6" stroke="#ff7f0e" stroke-width="0.9" stroke-opacity="0.85" fill="none"/>
</g>
<clipPath id="c1x"><rect x="241.10" y="35.50" width="159.50" height="103.30"/></clipPath>
<path d="M242.10,37.50H399.60M242.10,37.50V136.80M242.10,136.80H399.60" stroke="#000" stroke-width="1.30" fill="none" stroke-linecap="square"/>
<path d="M399.60,37.50V136.80" stroke="#7a3838" stroke-width="1.70" fill="none" stroke-linecap="square"/>
<text x="242.10" y="148.00" font-size="8.20" fill="#222" text-anchor="middle" stroke="#222" stroke-width="0.16" textLength="9.67" lengthAdjust="spacingAndGlyphs">30</text>
<text x="294.60" y="148.00" font-size="8.20" fill="#222" text-anchor="middle" stroke="#222" stroke-width="0.16" textLength="9.67" lengthAdjust="spacingAndGlyphs">40</text>
<text x="347.10" y="148.00" font-size="8.20" fill="#222" text-anchor="middle" stroke="#222" stroke-width="0.16" textLength="9.67" lengthAdjust="spacingAndGlyphs">50</text>
<text x="399.60" y="148.00" font-size="8.20" fill="#222" text-anchor="middle" stroke="#222" stroke-width="0.16" textLength="9.67" lengthAdjust="spacingAndGlyphs">60</text>
<text x="237.90" y="139.10" font-size="6.50" fill="#222" text-anchor="end" stroke="#222" stroke-width="0.15" textLength="4.13" lengthAdjust="spacingAndGlyphs">0</text>
<text x="237.90" y="114.28" font-size="6.50" fill="#222" text-anchor="end" stroke="#222" stroke-width="0.15" textLength="8.27" lengthAdjust="spacingAndGlyphs">10</text>
<text x="237.90" y="89.45" font-size="6.50" fill="#222" text-anchor="end" stroke="#222" stroke-width="0.15" textLength="8.27" lengthAdjust="spacingAndGlyphs">20</text>
<text x="237.90" y="64.62" font-size="6.50" fill="#222" text-anchor="end" stroke="#222" stroke-width="0.15" textLength="8.27" lengthAdjust="spacingAndGlyphs">30</text>
<text x="237.90" y="39.80" font-size="6.50" fill="#222" text-anchor="end" stroke="#222" stroke-width="0.15" textLength="8.27" lengthAdjust="spacingAndGlyphs">40</text>
<path d="M242.10,136.80v2.4M294.60,136.80v2.4M347.10,136.80v2.4M399.60,136.80v2.4M242.10,136.80h-2.4M242.10,111.98h-2.4M242.10,87.15h-2.4M242.10,62.33h-2.4M242.10,37.50h-2.4" stroke="#000" stroke-width="0.7" fill="none"/>
<text x="403.80" y="139.10" font-size="6.50" fill="#e8383c" text-anchor="start" stroke="#e8383c" stroke-width="0.15" textLength="10.34" lengthAdjust="spacingAndGlyphs">0.0</text>
<text x="403.80" y="114.28" font-size="6.50" fill="#e8383c" text-anchor="start" stroke="#e8383c" stroke-width="0.15" textLength="10.34" lengthAdjust="spacingAndGlyphs">0.5</text>
<text x="403.80" y="89.45" font-size="6.50" fill="#e8383c" text-anchor="start" stroke="#e8383c" stroke-width="0.15" textLength="10.34" lengthAdjust="spacingAndGlyphs">1.0</text>
<text x="403.80" y="64.62" font-size="6.50" fill="#e8383c" text-anchor="start" stroke="#e8383c" stroke-width="0.15" textLength="10.34" lengthAdjust="spacingAndGlyphs">1.5</text>
<text x="403.80" y="39.80" font-size="6.50" fill="#e8383c" text-anchor="start" stroke="#e8383c" stroke-width="0.15" textLength="10.34" lengthAdjust="spacingAndGlyphs">2.0</text>
<path d="M399.60,136.80h2.4M399.60,111.98h2.4M399.60,87.15h2.4M399.60,62.33h2.4M399.60,37.50h2.4" stroke="#e8383c" stroke-width="0.7" fill="none"/>
<text x="320.85" y="33.10" font-size="9.40" fill="#111" text-anchor="middle" stroke="#111" stroke-width="0.25" textLength="26.00" lengthAdjust="spacingAndGlyphs">NP DJF</text>
<text x="226.13" y="87.15" font-size="6.60" fill="#222" text-anchor="middle" stroke="#222" stroke-width="0.15" transform="rotate(-90 226.13 87.15)" textLength="10.40" lengthAdjust="spacingAndGlyphs">PW</text>
<text x="423.73" y="87.15" font-size="7.90" fill="#e8383c" text-anchor="middle" stroke="#e8383c" stroke-width="0.16" transform="rotate(-90 423.73 87.15)" textLength="20.60" lengthAdjust="spacingAndGlyphs">dt2m</text>
<text x="247.30" y="133.60" font-size="9.40" fill="#000" text-anchor="start" stroke="#000" stroke-width="0.10" font-weight="bold" textLength="21.90" lengthAdjust="spacingAndGlyphs">Δ = 5</text>
<clipPath id="c2"><rect x="454.60" y="37.50" width="157.90" height="99.30"/></clipPath>
<g clip-path="url(#c2)">
<path d="M454.49,81.93L471.96,79.43L491.93,80.68L511.91,85.67L529.38,94.41L546.85,104.39L561.83,111.88L576.81,119.37L596.78,126.86L612.51,130.61L612.51,135.60L596.78,134.35L571.82,129.36L546.85,121.87L521.89,114.38L496.93,108.14L471.96,106.89L454.49,114.38Z" fill="#2ca02c" fill-opacity="0.20" stroke="none"/>
<path d="M454.49,64.45L466.97,60.71L484.45,56.96L496.93,59.46L509.41,64.45L521.89,71.94L534.37,81.93L546.85,91.91L559.34,101.90L571.82,109.39L584.30,116.88L596.78,124.36L612.51,129.36L612.51,133.10L596.78,130.61L571.82,124.36L546.85,116.88L521.89,106.89L496.93,100.65L471.96,101.90L454.49,109.39Z" fill="#1f77b4" fill-opacity="0.20" stroke="none"/>
<path d="M454.49,50.72L466.97,46.98L479.45,46.48L491.93,46.98L504.42,48.98L516.90,51.97L529.38,56.96L541.86,64.45L554.34,74.44L566.82,86.92L579.31,96.91L591.79,106.89L604.27,116.88L612.51,121.87L612.51,131.85L596.78,126.86L559.34,111.88L521.89,94.41L484.45,81.93L454.49,89.42Z" fill="#e67d14" fill-opacity="0.20" stroke="none"/>
<path d="M454.49,97.40C456.15,96.82 460.73,94.74 464.47,93.91C468.22,93.08 472.80,92.66 476.96,92.41C481.12,92.16 485.28,92.16 489.44,92.41C493.60,92.66 497.76,93.24 501.92,93.91C506.08,94.58 510.24,95.41 514.40,96.41C518.56,97.40 522.72,98.57 526.88,99.90C531.04,101.23 535.20,102.73 539.36,104.39C543.53,106.06 547.69,108.01 551.85,109.89C556.01,111.76 560.17,113.84 564.33,115.63C568.49,117.42 572.65,119.08 576.81,120.62C580.97,122.16 585.13,123.41 589.29,124.86C593.45,126.32 597.90,128.07 601.77,129.36C605.64,130.65 610.72,132.06 612.51,132.60" fill="none" stroke="#2ca02c" stroke-width="1.5" stroke-linejoin="round"/>
<path d="M454.49,88.17C455.74,87.75 459.07,86.50 461.98,85.67C464.89,84.84 468.22,83.80 471.96,83.18C475.71,82.55 480.28,82.05 484.45,81.93C488.61,81.80 492.77,82.01 496.93,82.43C501.09,82.84 505.25,83.47 509.41,84.42C513.57,85.38 517.73,86.30 521.89,88.17C526.05,90.04 530.21,93.16 534.37,95.66C538.53,98.15 542.69,100.44 546.85,103.15C551.01,105.85 555.18,109.18 559.34,111.88C563.50,114.59 567.66,117.29 571.82,119.37C575.98,121.45 580.14,122.91 584.30,124.36C588.46,125.82 592.08,126.86 596.78,128.11C601.48,129.36 609.89,131.23 612.51,131.85" fill="none" stroke="#1f77b4" stroke-width="1.5" stroke-linejoin="round"/>
<path d="M454.49,77.68C455.74,76.93 459.07,74.77 461.98,73.19C464.89,71.61 468.22,69.45 471.96,68.20C475.71,66.95 480.28,66.24 484.45,65.70C488.61,65.16 492.77,64.95 496.93,64.95C501.09,64.95 505.25,65.16 509.41,65.70C513.57,66.24 517.73,66.95 521.89,68.20C526.05,69.45 530.21,71.11 534.37,73.19C538.53,75.27 542.69,77.56 546.85,80.68C551.01,83.80 555.18,88.17 559.34,91.91C563.50,95.66 567.66,99.82 571.82,103.15C575.98,106.47 580.14,109.18 584.30,111.88C588.46,114.59 593.04,117.21 596.78,119.37C600.53,121.54 604.15,123.53 606.77,124.86C609.39,126.20 611.55,126.94 612.51,127.36" fill="none" stroke="#ff7f0e" stroke-width="1.5" stroke-linejoin="round"/>
</g>
<g clip-path="url(#c2x)">
<g fill="#2ca02c" fill-opacity="0.75" stroke="#444" stroke-width="0.70" stroke-opacity="0.70"><circle cx="454.60" cy="103.33" r="1.50"/><circle cx="460.92" cy="99.50" r="1.50"/><circle cx="467.23" cy="93.40" r="1.50"/><circle cx="473.55" cy="88.34" r="1.50"/><circle cx="479.86" cy="81.97" r="1.50"/><circle cx="486.18" cy="72.21" r="1.50"/><circle cx="492.50" cy="62.13" r="1.50"/><circle cx="498.81" cy="56.41" r="1.50"/><circle cx="505.13" cy="57.20" r="1.50"/><circle cx="511.44" cy="60.98" r="1.50"/><circle cx="517.76" cy="66.03" r="1.50"/><circle cx="524.08" cy="70.39" r="1.50"/><circle cx="530.39" cy="76.45" r="1.50"/><circle cx="536.71" cy="83.52" r="1.50"/><circle cx="543.02" cy="89.56" r="1.50"/><circle cx="549.34" cy="99.64" r="1.50"/><circle cx="555.66" cy="105.95" r="1.50"/><circle cx="561.97" cy="110.84" r="1.50"/><circle cx="568.29" cy="110.39" r="1.50"/><circle cx="574.60" cy="108.36" r="1.50"/><circle cx="580.92" cy="102.00" r="1.50"/><circle cx="587.24" cy="92.16" r="1.50"/><circle cx="593.55" cy="82.10" r="1.50"/><circle cx="599.87" cy="73.21" r="1.50"/><circle cx="606.18" cy="54.93" r="1.50"/><circle cx="612.50" cy="47.24" r="1.50"/></g>
<g fill="#1f77b4" fill-opacity="0.75" stroke="#444" stroke-width="0.70" stroke-opacity="0.70"><circle cx="454.60" cy="104.33" r="1.50"/><circle cx="460.92" cy="100.50" r="1.50"/><circle cx="467.23" cy="94.40" r="1.50"/><circle cx="473.55" cy="89.34" r="1.50"/><circle cx="479.86" cy="82.97" r="1.50"/><circle cx="486.18" cy="73.21" r="1.50"/><circle cx="492.50" cy="63.13" r="1.50"/><circle cx="498.81" cy="57.41" r="1.50"/><circle cx="505.13" cy="58.20" r="1.50"/><circle cx="511.44" cy="61.98" r="1.50"/><circle cx="517.76" cy="67.03" r="1.50"/><circle cx="524.08" cy="71.39" r="1.50"/><circle cx="530.39" cy="77.45" r="1.50"/><circle cx="536.71" cy="84.52" r="1.50"/><circle cx="543.02" cy="90.56" r="1.50"/><circle cx="549.34" cy="100.64" r="1.50"/><circle cx="555.66" cy="106.95" r="1.50"/><circle cx="561.97" cy="111.84" r="1.50"/><circle cx="568.29" cy="111.39" r="1.50"/><circle cx="574.60" cy="109.36" r="1.50"/><circle cx="580.92" cy="103.00" r="1.50"/><circle cx="587.24" cy="93.25" r="1.50"/><circle cx="593.55" cy="84.40" r="1.50"/><circle cx="599.87" cy="76.79" r="1.50"/><circle cx="606.18" cy="64.58" r="1.50"/><circle cx="612.50" cy="56.97" r="1.50"/></g>
<g fill="#ff7f0e" fill-opacity="0.75" stroke="#444" stroke-width="0.70" stroke-opacity="0.70"><circle cx="454.60" cy="105.33" r="1.50"/><circle cx="460.92" cy="101.50" r="1.50"/><circle cx="467.23" cy="95.40" r="1.50"/><circle cx="473.55" cy="90.34" r="1.50"/><circle cx="479.86" cy="83.97" r="1.50"/><circle cx="486.18" cy="74.21" r="1.50"/><circle cx="492.50" cy="64.12" r="1.50"/><circle cx="498.81" cy="58.41" r="1.50"/><circle cx="505.13" cy="59.20" r="1.50"/><circle cx="511.44" cy="62.98" r="1.50"/><circle cx="517.76" cy="68.03" r="1.50"/><circle cx="524.08" cy="72.39" r="1.50"/><circle cx="530.39" cy="78.45" r="1.50"/><circle cx="536.71" cy="85.51" r="1.50"/><circle cx="543.02" cy="91.55" r="1.50"/><circle cx="549.34" cy="101.63" r="1.50"/><circle cx="555.66" cy="107.95" r="1.50"/><circle cx="561.97" cy="112.84" r="1.50"/><circle cx="568.29" cy="112.39" r="1.50"/><circle cx="574.60" cy="110.36" r="1.50"/><circle cx="580.92" cy="104.00" r="1.50"/><circle cx="587.24" cy="94.29" r="1.50"/><circle cx="593.55" cy="86.05" r="1.50"/><circle cx="599.87" cy="79.11" r="1.50"/><circle cx="606.18" cy="71.76" r="1.50"/><circle cx="612.50" cy="64.21" r="1.50"/></g>
<path d="M454.60,90.85V92.35M460.92,87.02V88.52M467.23,80.92V82.42M473.55,75.86V77.36M479.86,69.49V70.98M486.18,59.73V61.23M492.50,49.65V51.14M498.81,43.93V45.43M505.13,44.72V46.22M511.44,48.50V50.00M517.76,53.55V55.05M524.08,57.91V59.41M530.39,63.97V65.47M536.71,71.03V72.53M543.02,77.08V78.57M549.34,87.16V88.65M555.66,93.47V94.97M561.97,98.36V99.86M568.29,97.91V99.41M574.60,95.88V97.38M580.92,89.52V91.01M587.24,79.68V81.31M593.55,69.62V73.07M599.87,60.73V66.13M606.18,42.45V58.78M612.50,36.50V51.23" stroke="#2ca02c" stroke-width="0.90" stroke-opacity="0.85" fill="none"/>
<path d="M453.30,90.85h2.6M453.30,115.81h2.6M459.62,87.02h2.6M459.62,111.98h2.6M465.93,80.92h2.6M465.93,105.88h2.6M472.25,75.86h2.6M472.25,100.82h2.6M478.56,69.49h2.6M478.56,94.45h2.6M484.88,59.73h2.6M484.88,84.69h2.6M491.20,49.65h2.6M491.20,74.61h2.6M497.51,43.93h2.6M497.51,68.89h2.6M503.83,44.72h2.6M503.83,69.68h2.6M510.14,48.50h2.6M510.14,73.47h2.6M516.46,53.55h2.6M516.46,78.52h2.6M522.78,57.91h2.6M522.78,82.88h2.6M529.09,63.97h2.6M529.09,88.93h2.6M535.41,71.03h2.6M535.41,96.00h2.6M541.72,77.08h2.6M541.72,102.04h2.6M548.04,87.16h2.6M548.04,112.12h2.6M554.36,93.47h2.6M554.36,118.43h2.6M560.67,98.36h2.6M560.67,123.33h2.6M566.99,97.91h2.6M566.99,122.87h2.6M573.30,95.88h2.6M573.30,120.84h2.6M579.62,89.52h2.6M579.62,114.48h2.6M585.94,79.68h2.6M585.94,104.65h2.6M592.25,69.62h2.6M592.25,94.59h2.6M598.57,60.73h2.6M598.57,85.69h2.6M604.88,42.45h2.6M604.88,67.41h2.6M611.20,59.72h2.6" stroke="#2ca02c" stroke-width="0.9" stroke-opacity="0.85" fill="none"/>
<path d="M454.60,89.35V92.35M454.60,118.31V119.31M460.92,85.52V88.52M460.92,114.48V115.48M467.23,79.42V82.42M467.23,108.38V109.38M473.55,74.36V77.36M473.55,103.32V104.32M479.86,67.99V70.98M479.86,96.95V97.94M486.18,58.23V61.23M486.18,87.19V88.19M492.50,48.15V51.14M492.50,77.11V78.10M498.81,42.43V45.43M498.81,71.39V72.39M505.13,43.22V46.22M505.13,72.18V73.18M511.44,47.00V50.00M511.44,75.96V76.96M517.76,52.05V55.05M517.76,81.01V82.01M524.08,56.41V59.41M524.08,85.37V86.37M530.39,62.47V65.47M530.39,91.43V92.43M536.71,69.54V72.53M536.71,98.49V99.49M543.02,75.58V78.57M543.02,104.54V105.53M549.34,85.66V88.65M549.34,114.62V115.61M555.66,91.97V94.97M555.66,120.93V121.93M561.97,96.86V99.86M561.97,125.82V126.82M568.29,96.41V99.41M568.29,125.37V126.37M574.60,94.38V97.38M574.60,123.34V124.34M580.92,88.02V91.01M580.92,116.98V117.98M587.24,78.27V81.31M587.24,107.27V108.23M593.55,69.42V73.07M593.55,99.03V99.38M599.87,61.81V66.13M606.18,49.61V58.78M612.50,42.00V51.23" stroke="#1f77b4" stroke-width="0.90" stroke-opacity="0.85" fill="none"/>
<path d="M453.30,89.35h2.6M453.30,119.31h2.6M459.62,85.52h2.6M459.62,115.48h2.6M465.93,79.42h2.6M465.93,109.38h2.6M472.25,74.36h2.6M472.25,104.32h2.6M478.56,67.99h2.6M478.56,97.94h2.6M484.88,58.23h2.6M484.88,88.19h2.6M491.20,48.15h2.6M491.20,78.10h2.6M497.51,42.43h2.6M497.51,72.39h2.6M503.83,43.22h2.6M503.83,73.18h2.6M510.14,47.00h2.6M510.14,76.96h2.6M516.46,52.05h2.6M516.46,82.01h2.6M522.78,56.41h2.6M522.78,86.37h2.6M529.09,62.47h2.6M529.09,92.43h2.6M535.41,69.54h2.6M535.41,99.49h2.6M541.72,75.58h2.6M541.72,105.53h2.6M548.04,85.66h2.6M548.04,115.61h2.6M554.36,91.97h2.6M554.36,121.93h2.6M560.67,96.86h2.6M560.67,126.82h2.6M566.99,96.41h2.6M566.99,126.37h2.6M573.30,94.38h2.6M573.30,124.34h2.6M579.62,88.02h2.6M579.62,117.98h2.6M585.94,78.27h2.6M585.94,108.23h2.6M592.25,69.42h2.6M592.25,99.38h2.6M598.57,61.81h2.6M598.57,91.77h2.6M604.88,49.61h2.6M604.88,79.56h2.6M611.20,42.00h2.6M611.20,71.95h2.6" stroke="#1f77b4" stroke-width="0.9" stroke-opacity="0.85" fill="none"/>
<path d="M454.60,92.35V118.31M460.92,88.52V114.48M467.23,82.42V108.38M473.55,77.36V103.32M479.86,70.98V96.95M486.18,61.23V87.19M492.50,51.14V77.11M498.81,45.43V71.39M505.13,46.22V72.18M511.44,50.00V75.96M517.76,55.05V81.01M524.08,59.41V85.37M530.39,65.47V91.43M536.71,72.53V98.49M543.02,78.57V104.54M549.34,88.65V114.62M555.66,94.97V120.93M561.97,99.86V125.82M568.29,99.41V125.37M574.60,97.38V123.34M580.92,91.01V116.98M587.24,81.31V107.27M593.55,73.07V99.03M599.87,66.13V92.09M606.18,58.78V84.74M612.50,51.23V77.19" stroke="#ff7f0e" stroke-width="1.00" stroke-opacity="0.85" fill="none"/>
<path d="M453.30,92.35h2.6M453.30,118.31h2.6M459.62,88.52h2.6M459.62,114.48h2.6M465.93,82.42h2.6M465.93,108.38h2.6M472.25,77.36h2.6M472.25,103.32h2.6M478.56,70.98h2.6M478.56,96.95h2.6M484.88,61.23h2.6M484.88,87.19h2.6M491.20,51.14h2.6M491.20,77.11h2.6M497.51,45.43h2.6M497.51,71.39h2.6M503.83,46.22h2.6M503.83,72.18h2.6M510.14,50.00h2.6M510.14,75.96h2.6M516.46,55.05h2.6M516.46,81.01h2.6M522.78,59.41h2.6M522.78,85.37h2.6M529.09,65.47h2.6M529.09,91.43h2.6M535.41,72.53h2.6M535.41,98.49h2.6M541.72,78.57h2.6M541.72,104.54h2.6M548.04,88.65h2.6M548.04,114.62h2.6M554.36,94.97h2.6M554.36,120.93h2.6M560.67,99.86h2.6M560.67,125.82h2.6M566.99,99.41h2.6M566.99,125.37h2.6M573.30,97.38h2.6M573.30,123.34h2.6M579.62,91.01h2.6M579.62,116.98h2.6M585.94,81.31h2.6M585.94,107.27h2.6M592.25,73.07h2.6M592.25,99.03h2.6M598.57,66.13h2.6M598.57,92.09h2.6M604.88,58.78h2.6M604.88,84.74h2.6M611.20,51.23h2.6M611.20,77.19h2.6" stroke="#ff7f0e" stroke-width="0.9" stroke-opacity="0.85" fill="none"/>
</g>
<clipPath id="c2x"><rect x="453.60" y="35.50" width="159.90" height="103.30"/></clipPath>
<path d="M454.60,37.50H612.50M454.60,37.50V136.80M454.60,136.80H612.50" stroke="#000" stroke-width="1.30" fill="none" stroke-linecap="square"/>
<path d="M612.50,37.50V136.80" stroke="#7a3838" stroke-width="1.70" fill="none" stroke-linecap="square"/>
<text x="454.60" y="148.00" font-size="8.20" fill="#222" text-anchor="middle" stroke="#222" stroke-width="0.16" textLength="9.67" lengthAdjust="spacingAndGlyphs">40</text>
<text x="517.76" y="148.00" font-size="8.20" fill="#222" text-anchor="middle" stroke="#222" stroke-width="0.16" textLength="9.67" lengthAdjust="spacingAndGlyphs">50</text>
<text x="580.92" y="148.00" font-size="8.20" fill="#222" text-anchor="middle" stroke="#222" stroke-width="0.16" textLength="9.67" lengthAdjust="spacingAndGlyphs">60</text>
<text x="450.40" y="139.10" font-size="6.50" fill="#222" text-anchor="end" stroke="#222" stroke-width="0.15" textLength="4.13" lengthAdjust="spacingAndGlyphs">0</text>
<text x="450.40" y="119.24" font-size="6.50" fill="#222" text-anchor="end" stroke="#222" stroke-width="0.15" textLength="4.13" lengthAdjust="spacingAndGlyphs">5</text>
<text x="450.40" y="99.38" font-size="6.50" fill="#222" text-anchor="end" stroke="#222" stroke-width="0.15" textLength="8.27" lengthAdjust="spacingAndGlyphs">10</text>
<text x="450.40" y="79.52" font-size="6.50" fill="#222" text-anchor="end" stroke="#222" stroke-width="0.15" textLength="8.27" lengthAdjust="spacingAndGlyphs">15</text>
<text x="450.40" y="59.66" font-size="6.50" fill="#222" text-anchor="end" stroke="#222" stroke-width="0.15" textLength="8.27" lengthAdjust="spacingAndGlyphs">20</text>
<text x="450.40" y="39.80" font-size="6.50" fill="#222" text-anchor="end" stroke="#222" stroke-width="0.15" textLength="8.27" lengthAdjust="spacingAndGlyphs">25</text>
<path d="M454.60,136.80v2.4M517.76,136.80v2.4M580.92,136.80v2.4M454.60,136.80h-2.4M454.60,116.94h-2.4M454.60,97.08h-2.4M454.60,77.22h-2.4M454.60,57.36h-2.4M454.60,37.50h-2.4" stroke="#000" stroke-width="0.7" fill="none"/>
<text x="616.70" y="139.10" font-size="6.50" fill="#e8383c" text-anchor="start" stroke="#e8383c" stroke-width="0.15" textLength="10.34" lengthAdjust="spacingAndGlyphs">0.0</text>
<text x="616.70" y="119.24" font-size="6.50" fill="#e8383c" text-anchor="start" stroke="#e8383c" stroke-width="0.15" textLength="10.34" lengthAdjust="spacingAndGlyphs">0.2</text>
<text x="616.70" y="99.38" font-size="6.50" fill="#e8383c" text-anchor="start" stroke="#e8383c" stroke-width="0.15" textLength="10.34" lengthAdjust="spacingAndGlyphs">0.4</text>
<text x="616.70" y="79.52" font-size="6.50" fill="#e8383c" text-anchor="start" stroke="#e8383c" stroke-width="0.15" textLength="10.34" lengthAdjust="spacingAndGlyphs">0.6</text>
<text x="616.70" y="59.66" font-size="6.50" fill="#e8383c" text-anchor="start" stroke="#e8383c" stroke-width="0.15" textLength="10.34" lengthAdjust="spacingAndGlyphs">0.8</text>
<text x="616.70" y="39.80" font-size="6.50" fill="#e8383c" text-anchor="start" stroke="#e8383c" stroke-width="0.15" textLength="10.34" lengthAdjust="spacingAndGlyphs">1.0</text>
<path d="M612.50,136.80h2.4M612.50,116.94h2.4M612.50,97.08h2.4M612.50,77.22h2.4M612.50,57.36h2.4M612.50,37.50h2.4" stroke="#e8383c" stroke-width="0.7" fill="none"/>
<text x="533.55" y="33.10" font-size="9.40" fill="#111" text-anchor="middle" stroke="#111" stroke-width="0.25" textLength="26.00" lengthAdjust="spacingAndGlyphs">NA DJF</text>
<text x="438.63" y="87.15" font-size="6.60" fill="#222" text-anchor="middle" stroke="#222" stroke-width="0.15" transform="rotate(-90 438.63 87.15)" textLength="10.40" lengthAdjust="spacingAndGlyphs">PW</text>
<text x="636.64" y="87.15" font-size="7.90" fill="#e8383c" text-anchor="middle" stroke="#e8383c" stroke-width="0.16" transform="rotate(-90 636.64 87.15)" textLength="20.60" lengthAdjust="spacingAndGlyphs">dt2m</text>
<text x="459.30" y="133.60" font-size="9.40" fill="#000" text-anchor="start" stroke="#000" stroke-width="0.10" font-weight="bold" textLength="26.90" lengthAdjust="spacingAndGlyphs">Δ = 10</text>
<clipPath id="c3"><rect x="29.70" y="171.70" width="157.30" height="99.40"/></clipPath>
<g clip-path="url(#c3)">
<path d="M29.74,229.66L39.47,223.92L48.96,214.43L54.45,219.67L60.69,223.67L69.43,218.92L80.66,210.93L91.90,210.44L106.88,215.93L121.85,225.91L136.83,238.39L151.81,248.38L166.79,255.87L186.76,263.36L186.76,269.60L166.79,267.10L146.82,263.36L126.85,258.36L109.37,254.62L91.90,252.12L81.91,253.37L71.93,254.62L61.94,257.12L46.96,260.86L29.74,263.36Z" fill="#2ca02c" fill-opacity="0.20" stroke="none"/>
<path d="M29.74,218.42L39.47,210.93L48.96,199.20L54.45,203.45L60.69,208.44L66.93,205.94L74.67,199.20L81.91,194.71L92.15,192.21L101.88,192.21L111.87,195.96L121.85,203.45L131.84,210.93L141.82,223.42L151.81,230.91L161.80,238.39L171.78,245.88L181.77,252.12L186.76,255.87L186.76,268.35L166.79,264.61L146.82,258.86L126.85,253.37L109.37,248.88L96.89,247.13L86.41,247.13L76.92,247.88L61.94,249.63L46.96,252.12L29.74,253.37Z" fill="#1f77b4" fill-opacity="0.20" stroke="none"/>
<path d="M29.74,205.94L36.98,202.20L44.47,195.46L48.96,188.72L53.20,190.96L56.95,195.96L60.69,199.20L64.44,197.20L68.18,190.96L71.93,183.97L75.67,180.48L81.91,180.98L89.40,182.23L96.89,183.47L104.38,187.22L114.36,190.96L124.35,197.20L131.84,205.94L139.33,215.93L146.82,224.66L154.31,232.15L161.80,238.39L171.78,245.88L181.77,252.12L186.76,254.62L186.76,264.61L159.30,258.36L134.34,250.88L109.37,243.39L86.41,238.89L59.45,243.39L29.74,248.38Z" fill="#e67d14" fill-opacity="0.20" stroke="none"/>
<path d="M29.74,245.38C31.36,244.84 36.19,243.10 39.47,242.14C42.76,241.18 46.55,240.27 49.46,239.64C52.37,239.02 54.45,238.60 56.95,238.39C59.45,238.19 61.94,239.02 64.44,238.39C66.93,237.77 69.43,235.98 71.93,234.65C74.42,233.32 76.92,231.65 79.42,230.41C81.91,229.16 84.41,227.91 86.91,227.16C89.40,226.41 92.31,226.00 94.39,225.91C96.47,225.83 97.72,225.62 99.39,226.66C101.05,227.70 102.92,230.41 104.38,232.15C105.84,233.90 106.46,236.02 108.12,237.15C109.79,238.27 112.08,238.27 114.36,238.89C116.65,239.52 118.94,240.06 121.85,240.89C124.77,241.72 128.51,242.72 131.84,243.89C135.17,245.05 138.50,246.51 141.82,247.88C145.15,249.25 148.48,250.79 151.81,252.12C155.14,253.46 158.47,254.75 161.80,255.87C165.12,256.99 168.45,257.82 171.78,258.86C175.11,259.90 179.27,261.24 181.77,262.11C184.26,262.98 185.93,263.77 186.76,264.11" fill="none" stroke="#2ca02c" stroke-width="1.5" stroke-linejoin="round"/>
<path d="M29.74,239.64C31.36,238.81 36.60,236.11 39.47,234.65C42.35,233.19 44.47,231.65 46.96,230.91C49.46,230.16 51.96,230.07 54.45,230.16C56.95,230.24 59.86,231.70 61.94,231.40C64.02,231.11 64.85,230.07 66.93,228.41C69.01,226.74 71.93,223.17 74.42,221.42C76.92,219.67 79.42,218.71 81.91,217.92C84.41,217.13 86.91,216.38 89.40,216.68C91.90,216.97 94.39,218.13 96.89,219.67C99.39,221.21 101.88,223.96 104.38,225.91C106.88,227.87 108.96,230.16 111.87,231.40C114.78,232.65 118.53,232.44 121.85,233.40C125.18,234.36 128.51,235.90 131.84,237.15C135.17,238.39 138.50,239.52 141.82,240.89C145.15,242.26 148.48,243.93 151.81,245.38C155.14,246.84 158.47,248.21 161.80,249.63C165.12,251.04 168.45,252.33 171.78,253.87C175.11,255.41 179.27,257.62 181.77,258.86C184.26,260.11 185.93,260.94 186.76,261.36" fill="none" stroke="#1f77b4" stroke-width="1.5" stroke-linejoin="round"/>
<path d="M29.74,231.40C30.95,230.70 34.52,228.70 36.98,227.16C39.43,225.62 41.97,223.62 44.47,222.17C46.96,220.71 49.46,219.21 51.96,218.42C54.45,217.63 57.36,217.63 59.45,217.42C61.53,217.22 62.77,217.63 64.44,217.18C66.10,216.72 67.35,216.14 69.43,214.68C71.51,213.22 74.42,209.98 76.92,208.44C79.42,206.90 81.91,206.07 84.41,205.44C86.91,204.82 89.82,204.69 91.90,204.69C93.98,204.69 95.23,204.74 96.89,205.44C98.55,206.15 99.80,207.40 101.88,208.94C103.96,210.48 106.88,212.89 109.37,214.68C111.87,216.47 113.95,217.80 116.86,219.67C119.77,221.54 123.52,224.04 126.85,225.91C130.18,227.78 133.50,229.24 136.83,230.91C140.16,232.57 143.49,234.23 146.82,235.90C150.15,237.56 153.47,239.23 156.80,240.89C160.13,242.55 163.46,244.01 166.79,245.88C170.12,247.76 173.45,250.25 176.77,252.12C180.10,254.00 185.09,256.28 186.76,257.12" fill="none" stroke="#ff7f0e" stroke-width="1.5" stroke-linejoin="round"/>
</g>
<g clip-path="url(#c3x)">
<g fill="#2ca02c" fill-opacity="0.75" stroke="#444" stroke-width="0.70" stroke-opacity="0.70"><circle cx="29.70" cy="255.62" r="1.50"/><circle cx="33.63" cy="254.54" r="1.50"/><circle cx="37.56" cy="253.21" r="1.50"/><circle cx="41.50" cy="251.80" r="1.50"/><circle cx="45.43" cy="250.46" r="1.50"/><circle cx="49.36" cy="249.12" r="1.50"/><circle cx="53.30" cy="247.70" r="1.50"/><circle cx="57.23" cy="245.86" r="1.50"/><circle cx="61.16" cy="242.79" r="1.50"/><circle cx="65.09" cy="239.47" r="1.50"/><circle cx="69.03" cy="236.75" r="1.50"/><circle cx="72.96" cy="234.43" r="1.50"/><circle cx="76.89" cy="232.58" r="1.50"/><circle cx="80.82" cy="231.17" r="1.50"/><circle cx="84.75" cy="229.32" r="1.50"/><circle cx="88.69" cy="227.48" r="1.50"/><circle cx="92.62" cy="225.85" r="1.50"/><circle cx="96.55" cy="224.80" r="1.50"/><circle cx="100.49" cy="223.74" r="1.50"/><circle cx="104.42" cy="222.69" r="1.50"/><circle cx="108.35" cy="221.05" r="1.50"/><circle cx="112.28" cy="219.75" r="1.50"/><circle cx="116.22" cy="217.94" r="1.50"/><circle cx="120.15" cy="215.39" r="1.50"/><circle cx="124.08" cy="210.68" r="1.50"/><circle cx="128.01" cy="205.44" r="1.50"/><circle cx="131.94" cy="198.51" r="1.50"/><circle cx="135.88" cy="192.13" r="1.50"/><circle cx="139.81" cy="189.24" r="1.50"/><circle cx="143.74" cy="191.13" r="1.50"/><circle cx="147.68" cy="196.51" r="1.50"/><circle cx="151.61" cy="203.92" r="1.50"/><circle cx="155.54" cy="209.97" r="1.50"/><circle cx="159.47" cy="214.07" r="1.50"/><circle cx="163.41" cy="217.07" r="1.50"/><circle cx="167.34" cy="220.65" r="1.50"/><circle cx="171.27" cy="224.17" r="1.50"/><circle cx="175.20" cy="226.97" r="1.50"/><circle cx="179.13" cy="230.12" r="1.50"/><circle cx="183.07" cy="235.90" r="1.50"/><circle cx="187.00" cy="239.64" r="1.50"/></g>
<g fill="#1f77b4" fill-opacity="0.75" stroke="#444" stroke-width="0.70" stroke-opacity="0.70"><circle cx="29.70" cy="255.87" r="1.50"/><circle cx="33.63" cy="254.86" r="1.50"/><circle cx="37.56" cy="253.60" r="1.50"/><circle cx="41.50" cy="252.26" r="1.50"/><circle cx="45.43" cy="250.99" r="1.50"/><circle cx="49.36" cy="249.73" r="1.50"/><circle cx="53.30" cy="248.38" r="1.50"/><circle cx="57.23" cy="246.61" r="1.50"/><circle cx="61.16" cy="243.82" r="1.50"/><circle cx="65.09" cy="240.78" r="1.50"/><circle cx="69.03" cy="238.34" r="1.50"/><circle cx="72.96" cy="236.29" r="1.50"/><circle cx="76.89" cy="234.73" r="1.50"/><circle cx="80.82" cy="233.60" r="1.50"/><circle cx="84.75" cy="232.02" r="1.50"/><circle cx="88.69" cy="230.46" r="1.50"/><circle cx="92.62" cy="229.09" r="1.50"/><circle cx="96.55" cy="227.90" r="1.50"/><circle cx="100.49" cy="226.71" r="1.50"/><circle cx="104.42" cy="225.51" r="1.50"/><circle cx="108.35" cy="223.74" r="1.50"/><circle cx="112.28" cy="222.30" r="1.50"/><circle cx="116.22" cy="220.35" r="1.50"/><circle cx="120.15" cy="217.67" r="1.50"/><circle cx="124.08" cy="213.51" r="1.50"/><circle cx="128.01" cy="208.82" r="1.50"/><circle cx="131.94" cy="202.44" r="1.50"/><circle cx="135.88" cy="196.61" r="1.50"/><circle cx="139.81" cy="194.20" r="1.50"/><circle cx="143.74" cy="195.60" r="1.50"/><circle cx="147.68" cy="200.47" r="1.50"/><circle cx="151.61" cy="207.39" r="1.50"/><circle cx="155.54" cy="212.95" r="1.50"/><circle cx="159.47" cy="216.56" r="1.50"/><circle cx="163.41" cy="219.38" r="1.50"/><circle cx="167.34" cy="222.78" r="1.50"/><circle cx="171.27" cy="226.13" r="1.50"/><circle cx="175.20" cy="228.74" r="1.50"/><circle cx="179.13" cy="231.71" r="1.50"/><circle cx="183.07" cy="237.32" r="1.50"/><circle cx="187.00" cy="240.89" r="1.50"/></g>
<g fill="#ff7f0e" fill-opacity="0.75" stroke="#444" stroke-width="0.70" stroke-opacity="0.70"><circle cx="29.70" cy="256.37" r="1.50"/><circle cx="33.63" cy="255.40" r="1.50"/><circle cx="37.56" cy="254.17" r="1.50"/><circle cx="41.50" cy="252.86" r="1.50"/><circle cx="45.43" cy="251.64" r="1.50"/><circle cx="49.36" cy="250.41" r="1.50"/><circle cx="53.30" cy="249.09" r="1.50"/><circle cx="57.23" cy="247.37" r="1.50"/><circle cx="61.16" cy="244.91" r="1.50"/><circle cx="65.09" cy="242.20" r="1.50"/><circle cx="69.03" cy="240.10" r="1.50"/><circle cx="72.96" cy="238.38" r="1.50"/><circle cx="76.89" cy="237.15" r="1.50"/><circle cx="80.82" cy="236.36" r="1.50"/><circle cx="84.75" cy="235.12" r="1.50"/><circle cx="88.69" cy="233.89" r="1.50"/><circle cx="92.62" cy="232.84" r="1.50"/><circle cx="96.55" cy="231.86" r="1.50"/><circle cx="100.49" cy="230.88" r="1.50"/><circle cx="104.42" cy="229.89" r="1.50"/><circle cx="108.35" cy="228.33" r="1.50"/><circle cx="112.28" cy="227.10" r="1.50"/><circle cx="116.22" cy="225.36" r="1.50"/><circle cx="120.15" cy="222.88" r="1.50"/><circle cx="124.08" cy="218.93" r="1.50"/><circle cx="128.01" cy="214.45" r="1.50"/><circle cx="131.94" cy="208.28" r="1.50"/><circle cx="135.88" cy="202.65" r="1.50"/><circle cx="139.81" cy="200.40" r="1.50"/><circle cx="143.74" cy="201.05" r="1.50"/><circle cx="147.68" cy="205.18" r="1.50"/><circle cx="151.61" cy="211.35" r="1.50"/><circle cx="155.54" cy="216.16" r="1.50"/><circle cx="159.47" cy="219.04" r="1.50"/><circle cx="163.41" cy="221.69" r="1.50"/><circle cx="167.34" cy="224.91" r="1.50"/><circle cx="171.27" cy="228.08" r="1.50"/><circle cx="175.20" cy="230.52" r="1.50"/><circle cx="179.13" cy="233.31" r="1.50"/><circle cx="183.07" cy="238.73" r="1.50"/><circle cx="187.00" cy="242.14" r="1.50"/></g>
<path d="M29.70,250.13V250.88M33.63,249.05V249.91M37.56,247.72V248.68M41.50,246.30V247.37M45.43,244.97V246.14M49.36,243.63V244.92M53.30,242.21V243.60M57.23,240.37V241.87M61.16,237.30V239.41M65.09,233.98V236.70M69.03,231.26V234.60M72.96,228.93V232.89M76.89,227.09V231.66M80.82,225.68V230.86M84.75,223.83V229.63M88.69,221.99V228.40M92.62,220.36V227.35M96.55,219.31V226.37M100.49,218.25V225.39M104.42,217.20V224.40M108.35,215.56V222.84M112.28,214.26V221.61M116.22,212.45V219.87M120.15,209.89V217.39M124.08,205.18V213.44M128.01,199.95V208.96M131.94,193.02V202.78M135.88,186.64V197.16M139.81,183.74V194.73M143.74,185.64V195.55M147.68,191.01V199.69M151.61,198.43V205.86M155.54,204.48V210.66M159.47,208.58V213.55M163.41,211.58V216.20M167.34,215.16V219.42M171.27,218.68V222.59M175.20,221.48V225.03M179.13,224.63V227.82M183.07,230.41V233.24M187.00,234.15V236.65" stroke="#2ca02c" stroke-width="0.90" stroke-opacity="0.85" fill="none"/>
<path d="M28.40,250.13h2.6M28.40,261.11h2.6M32.33,249.05h2.6M32.33,260.03h2.6M36.27,247.72h2.6M36.27,258.70h2.6M40.20,246.30h2.6M40.20,257.29h2.6M44.13,244.97h2.6M44.13,255.95h2.6M48.06,243.63h2.6M48.06,254.62h2.6M52.00,242.21h2.6M52.00,253.19h2.6M55.93,240.37h2.6M55.93,251.36h2.6M59.86,237.30h2.6M59.86,248.28h2.6M63.79,233.98h2.6M63.79,244.96h2.6M67.73,231.26h2.6M67.73,242.25h2.6M71.66,228.93h2.6M71.66,239.92h2.6M75.59,227.09h2.6M75.59,238.08h2.6M79.52,225.68h2.6M79.52,236.66h2.6M83.45,223.83h2.6M83.45,234.81h2.6M87.39,221.99h2.6M87.39,232.97h2.6M91.32,220.36h2.6M91.32,231.34h2.6M95.25,219.31h2.6M95.25,230.29h2.6M99.19,218.25h2.6M99.19,229.24h2.6M103.12,217.20h2.6M103.12,228.18h2.6M107.05,215.56h2.6M107.05,226.55h2.6M110.98,214.26h2.6M110.98,225.24h2.6M114.92,212.45h2.6M114.92,223.43h2.6M118.85,209.89h2.6M118.85,220.88h2.6M122.78,205.18h2.6M122.78,216.17h2.6M126.71,199.95h2.6M126.71,210.93h2.6M130.64,193.02h2.6M130.64,204.00h2.6M134.58,186.64h2.6M134.58,197.62h2.6M138.51,183.74h2.6M138.51,194.73h2.6M142.44,185.64h2.6M142.44,196.62h2.6M146.38,191.01h2.6M146.38,202.00h2.6M150.31,198.43h2.6M150.31,209.41h2.6M154.24,204.48h2.6M154.24,215.47h2.6M158.17,208.58h2.6M158.17,219.56h2.6M162.10,211.58h2.6M162.10,222.56h2.6M166.04,215.16h2.6M166.04,226.14h2.6M169.97,218.68h2.6M169.97,229.67h2.6M173.90,221.48h2.6M173.90,232.46h2.6M177.83,224.63h2.6M177.83,235.61h2.6M181.77,230.41h2.6M181.77,241.39h2.6M185.70,234.15h2.6M185.70,245.13h2.6" stroke="#2ca02c" stroke-width="0.9" stroke-opacity="0.85" fill="none"/>
<path d="M29.70,250.38V250.88M33.63,249.37V249.91M37.56,248.11V248.68M41.50,246.77V247.37M45.43,245.50V246.14M49.36,244.24V244.92M53.30,242.89V243.60M57.23,241.12V241.87M61.16,238.33V239.41M65.09,235.28V236.70M69.03,232.85V234.60M72.96,230.80V232.89M76.89,229.24V231.66M80.82,228.10V230.86M84.75,226.53V229.63M88.69,224.97V228.40M92.62,223.60V227.35M96.55,222.41V226.37M100.49,221.22V225.39M104.42,220.02V224.40M108.35,218.25V222.84M112.28,216.81V221.61M116.22,214.86V219.87M120.15,212.18V217.39M124.08,208.02V213.44M128.01,203.33V208.96M131.94,196.95V202.78M135.88,191.12V197.16M139.81,188.71V194.90M143.74,190.10V195.55M147.68,194.98V199.69M151.61,201.90V205.86M155.54,207.45V210.66M159.47,211.06V213.55M163.41,213.89V216.20M167.34,217.29V219.42M171.27,220.63V222.59M175.20,223.25V225.03M179.13,226.22V227.82M183.07,231.82V233.24M187.00,235.40V236.65" stroke="#1f77b4" stroke-width="0.90" stroke-opacity="0.85" fill="none"/>
<path d="M28.40,250.38h2.6M28.40,261.36h2.6M32.33,249.37h2.6M32.33,260.35h2.6M36.27,248.11h2.6M36.27,259.10h2.6M40.20,246.77h2.6M40.20,257.75h2.6M44.13,245.50h2.6M44.13,256.49h2.6M48.06,244.24h2.6M48.06,255.22h2.6M52.00,242.89h2.6M52.00,253.87h2.6M55.93,241.12h2.6M55.93,252.11h2.6M59.86,238.33h2.6M59.86,249.31h2.6M63.79,235.28h2.6M63.79,246.27h2.6M67.73,232.85h2.6M67.73,243.83h2.6M71.66,230.80h2.6M71.66,241.78h2.6M75.59,229.24h2.6M75.59,240.22h2.6M79.52,228.10h2.6M79.52,239.09h2.6M83.45,226.53h2.6M83.45,237.52h2.6M87.39,224.97h2.6M87.39,235.95h2.6M91.32,223.60h2.6M91.32,234.58h2.6M95.25,222.41h2.6M95.25,233.39h2.6M99.19,221.22h2.6M99.19,232.20h2.6M103.12,220.02h2.6M103.12,231.01h2.6M107.05,218.25h2.6M107.05,229.23h2.6M110.98,216.81h2.6M110.98,227.79h2.6M114.92,214.86h2.6M114.92,225.85h2.6M118.85,212.18h2.6M118.85,223.16h2.6M122.78,208.02h2.6M122.78,219.00h2.6M126.71,203.33h2.6M126.71,214.31h2.6M130.64,196.95h2.6M130.64,207.93h2.6M134.58,191.12h2.6M134.58,202.10h2.6M138.51,188.71h2.6M138.51,199.69h2.6M142.44,190.10h2.6M142.44,201.09h2.6M146.38,194.98h2.6M146.38,205.97h2.6M150.31,201.90h2.6M150.31,212.88h2.6M154.24,207.45h2.6M154.24,218.44h2.6M158.17,211.06h2.6M158.17,222.05h2.6M162.10,213.89h2.6M162.10,224.87h2.6M166.04,217.29h2.6M166.04,228.27h2.6M169.97,220.63h2.6M169.97,231.62h2.6M173.90,223.25h2.6M173.90,234.24h2.6M177.83,226.22h2.6M177.83,237.21h2.6M181.77,231.82h2.6M181.77,242.81h2.6M185.70,235.40h2.6M185.70,246.38h2.6" stroke="#1f77b4" stroke-width="0.9" stroke-opacity="0.85" fill="none"/>
<path d="M29.70,250.88V261.86M33.63,249.91V260.89M37.56,248.68V259.67M41.50,247.37V258.36M45.43,246.14V257.13M49.36,244.92V255.90M53.30,243.60V254.59M57.23,241.87V252.86M61.16,239.41V250.40M65.09,236.70V247.69M69.03,234.60V245.59M72.96,232.89V243.87M76.89,231.66V242.65M80.82,230.86V241.85M84.75,229.63V240.61M88.69,228.40V239.38M92.62,227.35V238.34M96.55,226.37V237.36M100.49,225.39V236.37M104.42,224.40V235.39M108.35,222.84V233.82M112.28,221.61V232.59M116.22,219.87V230.85M120.15,217.39V228.38M124.08,213.44V224.42M128.01,208.96V219.94M131.94,202.78V213.77M135.88,197.16V208.14M139.81,194.90V205.89M143.74,195.55V206.54M147.68,199.69V210.67M151.61,205.86V216.84M155.54,210.66V221.65M159.47,213.55V224.54M163.41,216.20V227.18M167.34,219.42V230.40M171.27,222.59V233.57M175.20,225.03V236.01M179.13,227.82V238.80M183.07,233.24V244.22M187.00,236.65V247.63" stroke="#ff7f0e" stroke-width="1.00" stroke-opacity="0.85" fill="none"/>
<path d="M28.40,250.88h2.6M28.40,261.86h2.6M32.33,249.91h2.6M32.33,260.89h2.6M36.27,248.68h2.6M36.27,259.67h2.6M40.20,247.37h2.6M40.20,258.36h2.6M44.13,246.14h2.6M44.13,257.13h2.6M48.06,244.92h2.6M48.06,255.90h2.6M52.00,243.60h2.6M52.00,254.59h2.6M55.93,241.87h2.6M55.93,252.86h2.6M59.86,239.41h2.6M59.86,250.40h2.6M63.79,236.70h2.6M63.79,247.69h2.6M67.73,234.60h2.6M67.73,245.59h2.6M71.66,232.89h2.6M71.66,243.87h2.6M75.59,231.66h2.6M75.59,242.65h2.6M79.52,230.86h2.6M79.52,241.85h2.6M83.45,229.63h2.6M83.45,240.61h2.6M87.39,228.40h2.6M87.39,239.38h2.6M91.32,227.35h2.6M91.32,238.34h2.6M95.25,226.37h2.6M95.25,237.36h2.6M99.19,225.39h2.6M99.19,236.37h2.6M103.12,224.40h2.6M103.12,235.39h2.6M107.05,222.84h2.6M107.05,233.82h2.6M110.98,221.61h2.6M110.98,232.59h2.6M114.92,219.87h2.6M114.92,230.85h2.6M118.85,217.39h2.6M118.85,228.38h2.6M122.78,213.44h2.6M122.78,224.42h2.6M126.71,208.96h2.6M126.71,219.94h2.6M130.64,202.78h2.6M130.64,213.77h2.6M134.58,197.16h2.6M134.58,208.14h2.6M138.51,194.90h2.6M138.51,205.89h2.6M142.44,195.55h2.6M142.44,206.54h2.6M146.38,199.69h2.6M146.38,210.67h2.6M150.31,205.86h2.6M150.31,216.84h2.6M154.24,210.66h2.6M154.24,221.65h2.6M158.17,213.55h2.6M158.17,224.54h2.6M162.10,216.20h2.6M162.10,227.18h2.6M166.04,219.42h2.6M166.04,230.40h2.6M169.97,222.59h2.6M169.97,233.57h2.6M173.90,225.03h2.6M173.90,236.01h2.6M177.83,227.82h2.6M177.83,238.80h2.6M181.77,233.24h2.6M181.77,244.22h2.6M185.70,236.65h2.6M185.70,247.63h2.6" stroke="#ff7f0e" stroke-width="0.9" stroke-opacity="0.85" fill="none"/>
</g>
<clipPath id="c3x"><rect x="28.70" y="169.70" width="159.30" height="103.40"/></clipPath>
<path d="M29.70,171.70H187.00M29.70,171.70V271.10M29.70,271.10H187.00" stroke="#000" stroke-width="1.30" fill="none" stroke-linecap="square"/>
<path d="M187.00,171.70V271.10" stroke="#7a3838" stroke-width="1.70" fill="none" stroke-linecap="square"/>
<text x="29.70" y="282.30" font-size="8.20" fill="#222" text-anchor="middle" stroke="#222" stroke-width="0.16" textLength="9.67" lengthAdjust="spacingAndGlyphs">15</text>
<text x="88.69" y="282.30" font-size="8.20" fill="#222" text-anchor="middle" stroke="#222" stroke-width="0.16" textLength="9.67" lengthAdjust="spacingAndGlyphs">30</text>
<text x="147.68" y="282.30" font-size="8.20" fill="#222" text-anchor="middle" stroke="#222" stroke-width="0.16" textLength="9.67" lengthAdjust="spacingAndGlyphs">45</text>
<text x="25.50" y="273.40" font-size="6.50" fill="#222" text-anchor="end" stroke="#222" stroke-width="0.15" textLength="4.13" lengthAdjust="spacingAndGlyphs">0</text>
<text x="25.50" y="248.55" font-size="6.50" fill="#222" text-anchor="end" stroke="#222" stroke-width="0.15" textLength="4.13" lengthAdjust="spacingAndGlyphs">2</text>
<text x="25.50" y="223.70" font-size="6.50" fill="#222" text-anchor="end" stroke="#222" stroke-width="0.15" textLength="4.13" lengthAdjust="spacingAndGlyphs">4</text>
<text x="25.50" y="198.85" font-size="6.50" fill="#222" text-anchor="end" stroke="#222" stroke-width="0.15" textLength="4.13" lengthAdjust="spacingAndGlyphs">6</text>
<text x="25.50" y="174.00" font-size="6.50" fill="#222" text-anchor="end" stroke="#222" stroke-width="0.15" textLength="4.13" lengthAdjust="spacingAndGlyphs">8</text>
<path d="M29.70,271.10v2.4M88.69,271.10v2.4M147.68,271.10v2.4M29.70,271.10h-2.4M29.70,246.25h-2.4M29.70,221.40h-2.4M29.70,196.55h-2.4M29.70,171.70h-2.4" stroke="#000" stroke-width="0.7" fill="none"/>
<text x="191.20" y="273.40" font-size="6.50" fill="#e8383c" text-anchor="start" stroke="#e8383c" stroke-width="0.15" textLength="10.34" lengthAdjust="spacingAndGlyphs">0.0</text>
<text x="191.20" y="253.52" font-size="6.50" fill="#e8383c" text-anchor="start" stroke="#e8383c" stroke-width="0.15" textLength="10.34" lengthAdjust="spacingAndGlyphs">0.2</text>
<text x="191.20" y="233.64" font-size="6.50" fill="#e8383c" text-anchor="start" stroke="#e8383c" stroke-width="0.15" textLength="10.34" lengthAdjust="spacingAndGlyphs">0.4</text>
<text x="191.20" y="213.76" font-size="6.50" fill="#e8383c" text-anchor="start" stroke="#e8383c" stroke-width="0.15" textLength="10.34" lengthAdjust="spacingAndGlyphs">0.6</text>
<text x="191.20" y="193.88" font-size="6.50" fill="#e8383c" text-anchor="start" stroke="#e8383c" stroke-width="0.15" textLength="10.34" lengthAdjust="spacingAndGlyphs">0.8</text>
<text x="191.20" y="174.00" font-size="6.50" fill="#e8383c" text-anchor="start" stroke="#e8383c" stroke-width="0.15" textLength="10.34" lengthAdjust="spacingAndGlyphs">1.0</text>
<path d="M187.00,271.10h2.4M187.00,251.22h2.4M187.00,231.34h2.4M187.00,211.46h2.4M187.00,191.58h2.4M187.00,171.70h2.4" stroke="#e8383c" stroke-width="0.7" fill="none"/>
<text x="108.35" y="167.30" font-size="9.40" fill="#111" text-anchor="middle" stroke="#111" stroke-width="0.25" textLength="26.00" lengthAdjust="spacingAndGlyphs">EA JJA</text>
<text x="17.87" y="221.40" font-size="6.60" fill="#222" text-anchor="middle" stroke="#222" stroke-width="0.15" transform="rotate(-90 17.87 221.40)" textLength="10.40" lengthAdjust="spacingAndGlyphs">PW</text>
<text x="211.13" y="221.40" font-size="7.90" fill="#e8383c" text-anchor="middle" stroke="#e8383c" stroke-width="0.16" transform="rotate(-90 211.13 221.40)" textLength="20.60" lengthAdjust="spacingAndGlyphs">dt2m</text>
<text x="108.35" y="291.60" font-size="6.50" fill="#222" text-anchor="middle" stroke="#222" stroke-width="0.15" textLength="26.30" lengthAdjust="spacingAndGlyphs">Latitude</text>
<text x="37.50" y="267.90" font-size="9.40" fill="#000" text-anchor="start" stroke="#000" stroke-width="0.10" font-weight="bold" textLength="21.90" lengthAdjust="spacingAndGlyphs">Δ = 5</text>
<clipPath id="c4"><rect x="242.10" y="171.70" width="157.50" height="99.40"/></clipPath>
<g clip-path="url(#c4)">
<path d="M241.99,259.61L253.72,254.62L265.46,248.38L276.94,241.89L288.67,235.40L300.40,230.41L312.14,226.66L319.88,223.92L331.61,224.16L343.34,225.41L355.07,226.91L366.81,230.41L378.54,238.89L390.02,247.13L399.51,253.37L399.51,264.11L390.02,260.61L378.54,254.87L366.81,250.88L355.07,247.63L334.85,246.38L319.88,245.38L300.40,249.13L276.94,256.37L253.72,267.10L241.99,271.10Z" fill="#2ca02c" fill-opacity="0.20" stroke="none"/>
<path d="M241.99,257.12L259.96,243.39L274.94,232.15L289.92,219.67L302.40,210.93L319.88,204.44L334.85,204.69L349.83,205.19L354.82,205.94L366.81,212.18L378.54,218.42L390.02,226.66L399.51,232.40L399.51,262.11L390.02,257.37L378.54,250.88L366.81,247.38L355.07,244.39L334.85,242.14L319.88,242.14L300.40,246.88L276.94,253.87L253.72,264.61L241.99,269.60Z" fill="#1f77b4" fill-opacity="0.20" stroke="none"/>
<path d="M241.99,255.87L259.96,240.89L274.94,228.41L284.93,219.67L294.91,209.69L304.90,202.20L319.88,197.45L334.85,193.46L349.83,191.71L354.82,190.96L359.82,191.46L367.31,193.46L374.80,198.45L382.28,204.69L390.02,212.18L396.01,217.92L399.51,222.17L399.51,259.61L390.02,254.87L378.54,247.63L366.81,245.88L355.07,242.89L334.85,240.64L319.88,240.89L300.40,245.38L276.94,252.37L253.72,263.36L241.99,268.35Z" fill="#e67d14" fill-opacity="0.20" stroke="none"/>
<path d="M241.99,261.36C243.95,260.53 249.81,258.24 253.72,256.37C257.63,254.50 261.59,252.25 265.46,250.13C269.32,248.01 273.07,245.80 276.94,243.64C280.81,241.47 284.76,238.89 288.67,237.15C292.58,235.40 296.49,234.19 300.40,233.15C304.32,232.11 308.89,231.40 312.14,230.91C315.38,230.41 316.63,230.24 319.88,230.16C323.12,230.07 327.70,230.20 331.61,230.41C335.52,230.61 339.43,230.86 343.34,231.40C347.25,231.95 351.16,232.49 355.07,233.65C358.99,234.82 362.90,236.44 366.81,238.39C370.72,240.35 374.67,243.05 378.54,245.38C382.41,247.71 386.53,249.96 390.02,252.37C393.52,254.79 397.93,258.61 399.51,259.86" fill="none" stroke="#2ca02c" stroke-width="1.5" stroke-linejoin="round"/>
<path d="M241.99,260.36C243.95,259.53 249.81,257.24 253.72,255.37C257.63,253.50 261.59,251.25 265.46,249.13C269.32,247.01 273.07,244.80 276.94,242.64C280.81,240.47 284.76,238.02 288.67,236.15C292.58,234.28 296.49,232.78 300.40,231.40C304.32,230.03 308.89,229.07 312.14,227.91C315.38,226.74 316.63,224.91 319.88,224.41C323.12,223.92 327.70,224.62 331.61,224.91C335.52,225.21 339.43,225.75 343.34,226.16C347.25,226.58 351.16,226.54 355.07,227.41C358.99,228.28 362.90,229.37 366.81,231.40C370.72,233.44 374.67,236.94 378.54,239.64C382.41,242.35 386.53,245.26 390.02,247.63C393.52,250.00 397.93,252.83 399.51,253.87" fill="none" stroke="#1f77b4" stroke-width="1.5" stroke-linejoin="round"/>
<path d="M241.99,260.36C243.95,259.41 249.81,256.62 253.72,254.62C257.63,252.62 261.59,250.50 265.46,248.38C269.32,246.26 273.07,244.14 276.94,241.89C280.81,239.64 284.76,236.85 288.67,234.90C292.58,232.94 296.49,231.61 300.40,230.16C304.32,228.70 308.89,227.49 312.14,226.16C315.38,224.83 316.63,222.96 319.88,222.17C323.12,221.38 327.70,221.54 331.61,221.42C335.52,221.29 339.43,221.21 343.34,221.42C347.25,221.63 351.16,221.96 355.07,222.67C358.99,223.37 362.90,224.12 366.81,225.66C370.72,227.20 374.67,229.78 378.54,231.90C382.41,234.03 386.53,236.19 390.02,238.39C393.52,240.60 397.93,244.01 399.51,245.13" fill="none" stroke="#ff7f0e" stroke-width="1.5" stroke-linejoin="round"/>
</g>
<g clip-path="url(#c4x)">
<g fill="#2ca02c" fill-opacity="0.75" stroke="#444" stroke-width="0.70" stroke-opacity="0.70"><circle cx="242.10" cy="249.09" r="1.50"/><circle cx="247.35" cy="247.09" r="1.50"/><circle cx="252.60" cy="245.33" r="1.50"/><circle cx="257.85" cy="242.83" r="1.50"/><circle cx="263.10" cy="240.59" r="1.50"/><circle cx="268.35" cy="238.84" r="1.50"/><circle cx="273.60" cy="236.84" r="1.50"/><circle cx="278.85" cy="235.08" r="1.50"/><circle cx="284.10" cy="232.58" r="1.50"/><circle cx="289.35" cy="230.58" r="1.50"/><circle cx="294.60" cy="228.33" r="1.50"/><circle cx="299.85" cy="226.09" r="1.50"/><circle cx="305.10" cy="224.35" r="1.50"/><circle cx="310.35" cy="222.86" r="1.50"/><circle cx="315.60" cy="221.38" r="1.50"/><circle cx="320.85" cy="220.72" r="1.50"/><circle cx="326.10" cy="219.23" r="1.50"/><circle cx="331.35" cy="218.44" r="1.50"/><circle cx="336.60" cy="218.43" r="1.50"/><circle cx="341.85" cy="217.93" r="1.50"/><circle cx="347.10" cy="218.41" r="1.50"/><circle cx="352.35" cy="218.41" r="1.50"/><circle cx="357.60" cy="218.87" r="1.50"/><circle cx="362.85" cy="219.60" r="1.50"/><circle cx="368.10" cy="220.57" r="1.50"/><circle cx="373.35" cy="221.81" r="1.50"/><circle cx="378.60" cy="223.09" r="1.50"/><circle cx="383.85" cy="223.60" r="1.50"/><circle cx="389.10" cy="224.82" r="1.50"/><circle cx="394.35" cy="225.83" r="1.50"/><circle cx="399.60" cy="226.91" r="1.50"/></g>
<g fill="#1f77b4" fill-opacity="0.75" stroke="#444" stroke-width="0.70" stroke-opacity="0.70"><circle cx="242.10" cy="250.58" r="1.50"/><circle cx="247.35" cy="248.59" r="1.50"/><circle cx="252.60" cy="246.83" r="1.50"/><circle cx="257.85" cy="244.33" r="1.50"/><circle cx="263.10" cy="242.09" r="1.50"/><circle cx="268.35" cy="240.34" r="1.50"/><circle cx="273.60" cy="238.34" r="1.50"/><circle cx="278.85" cy="236.58" r="1.50"/><circle cx="284.10" cy="234.08" r="1.50"/><circle cx="289.35" cy="232.08" r="1.50"/><circle cx="294.60" cy="229.83" r="1.50"/><circle cx="299.85" cy="227.59" r="1.50"/><circle cx="305.10" cy="225.85" r="1.50"/><circle cx="310.35" cy="224.35" r="1.50"/><circle cx="315.60" cy="222.87" r="1.50"/><circle cx="320.85" cy="222.22" r="1.50"/><circle cx="326.10" cy="220.73" r="1.50"/><circle cx="331.35" cy="219.94" r="1.50"/><circle cx="336.60" cy="219.93" r="1.50"/><circle cx="341.85" cy="219.42" r="1.50"/><circle cx="347.10" cy="219.91" r="1.50"/><circle cx="352.35" cy="219.91" r="1.50"/><circle cx="357.60" cy="220.37" r="1.50"/><circle cx="362.85" cy="221.09" r="1.50"/><circle cx="368.10" cy="222.07" r="1.50"/><circle cx="373.35" cy="223.31" r="1.50"/><circle cx="378.60" cy="224.59" r="1.50"/><circle cx="383.85" cy="225.10" r="1.50"/><circle cx="389.10" cy="226.32" r="1.50"/><circle cx="394.35" cy="227.33" r="1.50"/><circle cx="399.60" cy="228.41" r="1.50"/></g>
<g fill="#ff7f0e" fill-opacity="0.75" stroke="#444" stroke-width="0.70" stroke-opacity="0.70"><circle cx="242.10" cy="252.83" r="1.50"/><circle cx="247.35" cy="250.83" r="1.50"/><circle cx="252.60" cy="249.08" r="1.50"/><circle cx="257.85" cy="246.57" r="1.50"/><circle cx="263.10" cy="244.33" r="1.50"/><circle cx="268.35" cy="242.58" r="1.50"/><circle cx="273.60" cy="240.59" r="1.50"/><circle cx="278.85" cy="238.83" r="1.50"/><circle cx="284.10" cy="236.32" r="1.50"/><circle cx="289.35" cy="234.33" r="1.50"/><circle cx="294.60" cy="232.07" r="1.50"/><circle cx="299.85" cy="229.83" r="1.50"/><circle cx="305.10" cy="228.10" r="1.50"/><circle cx="310.35" cy="226.60" r="1.50"/><circle cx="315.60" cy="225.12" r="1.50"/><circle cx="320.85" cy="224.47" r="1.50"/><circle cx="326.10" cy="222.98" r="1.50"/><circle cx="331.35" cy="222.19" r="1.50"/><circle cx="336.60" cy="222.18" r="1.50"/><circle cx="341.85" cy="221.67" r="1.50"/><circle cx="347.10" cy="222.15" r="1.50"/><circle cx="352.35" cy="222.16" r="1.50"/><circle cx="357.60" cy="222.61" r="1.50"/><circle cx="362.85" cy="223.34" r="1.50"/><circle cx="368.10" cy="224.32" r="1.50"/><circle cx="373.35" cy="225.56" r="1.50"/><circle cx="378.60" cy="226.83" r="1.50"/><circle cx="383.85" cy="227.35" r="1.50"/><circle cx="389.10" cy="228.56" r="1.50"/><circle cx="394.35" cy="229.58" r="1.50"/><circle cx="399.60" cy="230.66" r="1.50"/></g>
<path d="M242.10,244.09V247.34M247.35,242.10V245.34M252.60,240.34V243.59M257.85,237.83V241.08M263.10,235.59V238.84M268.35,233.85V237.09M273.60,231.85V235.09M278.85,230.09V233.33M284.10,227.59V230.83M289.35,225.59V228.84M294.60,223.34V226.58M299.85,221.10V224.34M305.10,219.36V222.60M310.35,217.86V221.11M315.60,216.38V219.63M320.85,215.73V218.98M326.10,214.24V217.48M331.35,213.45V216.70M336.60,213.44V216.69M341.85,212.93V216.18M347.10,213.42V216.66M352.35,213.42V216.67M357.60,213.88V217.12M362.85,214.60V217.85M368.10,215.58V218.83M373.35,216.82V220.06M378.60,218.10V221.34M383.85,218.61V221.85M389.10,219.83V223.07M394.35,220.84V224.08M399.60,221.92V225.16" stroke="#2ca02c" stroke-width="0.90" stroke-opacity="0.85" fill="none"/>
<path d="M240.80,244.09h2.6M240.80,254.08h2.6M246.05,242.10h2.6M246.05,252.08h2.6M251.30,240.34h2.6M251.30,250.33h2.6M256.55,237.83h2.6M256.55,247.82h2.6M261.80,235.59h2.6M261.80,245.58h2.6M267.05,233.85h2.6M267.05,243.83h2.6M272.30,231.85h2.6M272.30,241.83h2.6M277.55,230.09h2.6M277.55,240.07h2.6M282.80,227.59h2.6M282.80,237.57h2.6M288.05,225.59h2.6M288.05,235.58h2.6M293.30,223.34h2.6M293.30,233.32h2.6M298.55,221.10h2.6M298.55,231.08h2.6M303.80,219.36h2.6M303.80,229.35h2.6M309.05,217.86h2.6M309.05,227.85h2.6M314.30,216.38h2.6M314.30,226.37h2.6M319.55,215.73h2.6M319.55,225.72h2.6M324.80,214.24h2.6M324.80,224.23h2.6M330.05,213.45h2.6M330.05,223.44h2.6M335.30,213.44h2.6M335.30,223.43h2.6M340.55,212.93h2.6M340.55,222.92h2.6M345.80,213.42h2.6M345.80,223.40h2.6M351.05,213.42h2.6M351.05,223.41h2.6M356.30,213.88h2.6M356.30,223.86h2.6M361.55,214.60h2.6M361.55,224.59h2.6M366.80,215.58h2.6M366.80,225.57h2.6M372.05,216.82h2.6M372.05,226.80h2.6M377.30,218.10h2.6M377.30,228.08h2.6M382.55,218.61h2.6M382.55,228.59h2.6M387.80,219.83h2.6M387.80,229.81h2.6M393.05,220.84h2.6M393.05,230.82h2.6M398.30,221.92h2.6M398.30,231.90h2.6" stroke="#2ca02c" stroke-width="0.9" stroke-opacity="0.85" fill="none"/>
<path d="M242.10,245.59V247.34M247.35,243.59V245.34M252.60,241.84V243.59M257.85,239.33V241.08M263.10,237.09V238.84M268.35,235.35V237.09M273.60,233.35V235.09M278.85,231.59V233.33M284.10,229.08V230.83M289.35,227.09V228.84M294.60,224.83V226.58M299.85,222.59V224.34M305.10,220.86V222.60M310.35,219.36V221.11M315.60,217.88V219.63M320.85,217.23V218.98M326.10,215.74V217.48M331.35,214.95V216.70M336.60,214.94V216.69M341.85,214.43V216.18M347.10,214.92V216.66M352.35,214.92V216.67M357.60,215.37V217.12M362.85,216.10V217.85M368.10,217.08V218.83M373.35,218.32V220.06M378.60,219.59V221.34M383.85,220.11V221.85M389.10,221.32V223.07M394.35,222.34V224.08M399.60,223.42V225.16" stroke="#1f77b4" stroke-width="0.90" stroke-opacity="0.85" fill="none"/>
<path d="M240.80,245.59h2.6M240.80,255.58h2.6M246.05,243.59h2.6M246.05,253.58h2.6M251.30,241.84h2.6M251.30,251.82h2.6M256.55,239.33h2.6M256.55,249.32h2.6M261.80,237.09h2.6M261.80,247.08h2.6M267.05,235.35h2.6M267.05,245.33h2.6M272.30,233.35h2.6M272.30,243.33h2.6M277.55,231.59h2.6M277.55,241.57h2.6M282.80,229.08h2.6M282.80,239.07h2.6M288.05,227.09h2.6M288.05,237.07h2.6M293.30,224.83h2.6M293.30,234.82h2.6M298.55,222.59h2.6M298.55,232.58h2.6M303.80,220.86h2.6M303.80,230.84h2.6M309.05,219.36h2.6M309.05,229.35h2.6M314.30,217.88h2.6M314.30,227.87h2.6M319.55,217.23h2.6M319.55,227.21h2.6M324.80,215.74h2.6M324.80,225.72h2.6M330.05,214.95h2.6M330.05,224.93h2.6M335.30,214.94h2.6M335.30,224.92h2.6M340.55,214.43h2.6M340.55,224.42h2.6M345.80,214.92h2.6M345.80,224.90h2.6M351.05,214.92h2.6M351.05,224.90h2.6M356.30,215.37h2.6M356.30,225.36h2.6M361.55,216.10h2.6M361.55,226.09h2.6M366.80,217.08h2.6M366.80,227.06h2.6M372.05,218.32h2.6M372.05,228.30h2.6M377.30,219.59h2.6M377.30,229.58h2.6M382.55,220.11h2.6M382.55,230.09h2.6M387.80,221.32h2.6M387.80,231.31h2.6M393.05,222.34h2.6M393.05,232.32h2.6M398.30,223.42h2.6M398.30,233.40h2.6" stroke="#1f77b4" stroke-width="0.9" stroke-opacity="0.85" fill="none"/>
<path d="M242.10,247.34V258.32M247.35,245.34V256.33M252.60,243.59V254.57M257.85,241.08V252.06M263.10,238.84V249.82M268.35,237.09V248.08M273.60,235.09V246.08M278.85,233.33V244.32M284.10,230.83V241.82M289.35,228.84V239.82M294.60,226.58V237.56M299.85,224.34V235.32M305.10,222.60V233.59M310.35,221.11V232.09M315.60,219.63V230.61M320.85,218.98V229.96M326.10,217.48V228.47M331.35,216.70V227.68M336.60,216.69V227.67M341.85,216.18V227.16M347.10,216.66V227.65M352.35,216.67V227.65M357.60,217.12V228.10M362.85,217.85V228.83M368.10,218.83V229.81M373.35,220.06V231.05M378.60,221.34V232.32M383.85,221.85V232.84M389.10,223.07V234.06M394.35,224.08V235.07M399.60,225.16V236.15" stroke="#ff7f0e" stroke-width="1.00" stroke-opacity="0.85" fill="none"/>
<path d="M240.80,247.34h2.6M240.80,258.32h2.6M246.05,245.34h2.6M246.05,256.33h2.6M251.30,243.59h2.6M251.30,254.57h2.6M256.55,241.08h2.6M256.55,252.06h2.6M261.80,238.84h2.6M261.80,249.82h2.6M267.05,237.09h2.6M267.05,248.08h2.6M272.30,235.09h2.6M272.30,246.08h2.6M277.55,233.33h2.6M277.55,244.32h2.6M282.80,230.83h2.6M282.80,241.82h2.6M288.05,228.84h2.6M288.05,239.82h2.6M293.30,226.58h2.6M293.30,237.56h2.6M298.55,224.34h2.6M298.55,235.32h2.6M303.80,222.60h2.6M303.80,233.59h2.6M309.05,221.11h2.6M309.05,232.09h2.6M314.30,219.63h2.6M314.30,230.61h2.6M319.55,218.98h2.6M319.55,229.96h2.6M324.80,217.48h2.6M324.80,228.47h2.6M330.05,216.70h2.6M330.05,227.68h2.6M335.30,216.69h2.6M335.30,227.67h2.6M340.55,216.18h2.6M340.55,227.16h2.6M345.80,216.66h2.6M345.80,227.65h2.6M351.05,216.67h2.6M351.05,227.65h2.6M356.30,217.12h2.6M356.30,228.10h2.6M361.55,217.85h2.6M361.55,228.83h2.6M366.80,218.83h2.6M366.80,229.81h2.6M372.05,220.06h2.6M372.05,231.05h2.6M377.30,221.34h2.6M377.30,232.32h2.6M382.55,221.85h2.6M382.55,232.84h2.6M387.80,223.07h2.6M387.80,234.06h2.6M393.05,224.08h2.6M393.05,235.07h2.6M398.30,225.16h2.6M398.30,236.15h2.6" stroke="#ff7f0e" stroke-width="0.9" stroke-opacity="0.85" fill="none"/>
</g>
<clipPath id="c4x"><rect x="241.10" y="169.70" width="159.50" height="103.40"/></clipPath>
<path d="M242.10,171.70H399.60M242.10,171.70V271.10M242.10,271.10H399.60" stroke="#000" stroke-width="1.30" fill="none" stroke-linecap="square"/>
<path d="M399.60,171.70V271.10" stroke="#7a3838" stroke-width="1.70" fill="none" stroke-linecap="square"/>
<text x="242.10" y="282.30" font-size="8.20" fill="#222" text-anchor="middle" stroke="#222" stroke-width="0.16" textLength="9.67" lengthAdjust="spacingAndGlyphs">30</text>
<text x="294.60" y="282.30" font-size="8.20" fill="#222" text-anchor="middle" stroke="#222" stroke-width="0.16" textLength="9.67" lengthAdjust="spacingAndGlyphs">40</text>
<text x="347.10" y="282.30" font-size="8.20" fill="#222" text-anchor="middle" stroke="#222" stroke-width="0.16" textLength="9.67" lengthAdjust="spacingAndGlyphs">50</text>
<text x="399.60" y="282.30" font-size="8.20" fill="#222" text-anchor="middle" stroke="#222" stroke-width="0.16" textLength="9.67" lengthAdjust="spacingAndGlyphs">60</text>
<text x="237.90" y="273.40" font-size="6.50" fill="#222" text-anchor="end" stroke="#222" stroke-width="0.15" textLength="4.13" lengthAdjust="spacingAndGlyphs">0</text>
<text x="237.90" y="253.52" font-size="6.50" fill="#222" text-anchor="end" stroke="#222" stroke-width="0.15" textLength="4.13" lengthAdjust="spacingAndGlyphs">5</text>
<text x="237.90" y="233.64" font-size="6.50" fill="#222" text-anchor="end" stroke="#222" stroke-width="0.15" textLength="8.27" lengthAdjust="spacingAndGlyphs">10</text>
<text x="237.90" y="213.76" font-size="6.50" fill="#222" text-anchor="end" stroke="#222" stroke-width="0.15" textLength="8.27" lengthAdjust="spacingAndGlyphs">15</text>
<text x="237.90" y="193.88" font-size="6.50" fill="#222" text-anchor="end" stroke="#222" stroke-width="0.15" textLength="8.27" lengthAdjust="spacingAndGlyphs">20</text>
<text x="237.90" y="174.00" font-size="6.50" fill="#222" text-anchor="end" stroke="#222" stroke-width="0.15" textLength="8.27" lengthAdjust="spacingAndGlyphs">25</text>
<path d="M242.10,271.10v2.4M294.60,271.10v2.4M347.10,271.10v2.4M399.60,271.10v2.4M242.10,271.10h-2.4M242.10,251.22h-2.4M242.10,231.34h-2.4M242.10,211.46h-2.4M242.10,191.58h-2.4M242.10,171.70h-2.4" stroke="#000" stroke-width="0.7" fill="none"/>
<text x="403.80" y="273.40" font-size="6.50" fill="#e8383c" text-anchor="start" stroke="#e8383c" stroke-width="0.15" textLength="10.34" lengthAdjust="spacingAndGlyphs">0.0</text>
<text x="403.80" y="253.52" font-size="6.50" fill="#e8383c" text-anchor="start" stroke="#e8383c" stroke-width="0.15" textLength="10.34" lengthAdjust="spacingAndGlyphs">0.2</text>
<text x="403.80" y="233.64" font-size="6.50" fill="#e8383c" text-anchor="start" stroke="#e8383c" stroke-width="0.15" textLength="10.34" lengthAdjust="spacingAndGlyphs">0.4</text>
<text x="403.80" y="213.76" font-size="6.50" fill="#e8383c" text-anchor="start" stroke="#e8383c" stroke-width="0.15" textLength="10.34" lengthAdjust="spacingAndGlyphs">0.6</text>
<text x="403.80" y="193.88" font-size="6.50" fill="#e8383c" text-anchor="start" stroke="#e8383c" stroke-width="0.15" textLength="10.34" lengthAdjust="spacingAndGlyphs">0.8</text>
<text x="403.80" y="174.00" font-size="6.50" fill="#e8383c" text-anchor="start" stroke="#e8383c" stroke-width="0.15" textLength="10.34" lengthAdjust="spacingAndGlyphs">1.0</text>
<path d="M399.60,271.10h2.4M399.60,251.22h2.4M399.60,231.34h2.4M399.60,211.46h2.4M399.60,191.58h2.4M399.60,171.70h2.4" stroke="#e8383c" stroke-width="0.7" fill="none"/>
<text x="320.85" y="167.30" font-size="9.40" fill="#111" text-anchor="middle" stroke="#111" stroke-width="0.25" textLength="26.00" lengthAdjust="spacingAndGlyphs">NP JJA</text>
<text x="226.13" y="221.40" font-size="6.60" fill="#222" text-anchor="middle" stroke="#222" stroke-width="0.15" transform="rotate(-90 226.13 221.40)" textLength="10.40" lengthAdjust="spacingAndGlyphs">PW</text>
<text x="423.73" y="221.40" font-size="7.90" fill="#e8383c" text-anchor="middle" stroke="#e8383c" stroke-width="0.16" transform="rotate(-90 423.73 221.40)" textLength="20.60" lengthAdjust="spacingAndGlyphs">dt2m</text>
<text x="320.85" y="291.60" font-size="6.50" fill="#222" text-anchor="middle" stroke="#222" stroke-width="0.15" textLength="26.30" lengthAdjust="spacingAndGlyphs">Latitude</text>
<text x="247.50" y="267.90" font-size="9.40" fill="#000" text-anchor="start" stroke="#000" stroke-width="0.10" font-weight="bold" textLength="26.90" lengthAdjust="spacingAndGlyphs">Δ = 30</text>
<clipPath id="c5"><rect x="454.60" y="171.70" width="157.90" height="99.40"/></clipPath>
<g clip-path="url(#c5)">
<path d="M454.49,243.39L471.96,236.40L491.93,225.41L509.41,219.67L529.38,218.42L546.85,219.67L561.83,224.66L576.81,233.40L591.79,243.39L612.51,253.37L612.51,269.60L601.77,268.35L586.80,264.61L571.82,258.36L559.34,251.38L546.85,246.38L534.37,244.88L521.89,245.88L511.91,248.88L499.42,258.86L486.94,271.10L454.49,271.10Z" fill="#2ca02c" fill-opacity="0.20" stroke="none"/>
<path d="M454.49,241.64L466.97,236.40L479.45,228.41L491.93,218.42L504.42,209.69L516.90,205.44L529.38,203.94L541.86,204.69L554.34,207.19L566.82,212.18L579.31,215.93L591.79,219.67L604.27,225.91L612.51,230.91L612.51,268.35L596.78,263.36L584.30,255.87L571.82,248.38L559.34,241.39L546.85,238.89L534.37,238.89L521.89,241.39L509.41,246.38L496.93,258.86L484.45,271.10L454.49,271.10Z" fill="#1f77b4" fill-opacity="0.20" stroke="none"/>
<path d="M454.49,238.39L466.97,232.90L479.45,225.41L491.93,215.93L504.42,205.94L516.90,199.70L529.38,195.96L541.86,193.46L551.85,189.72L561.83,187.22L571.82,190.96L581.80,197.20L591.79,203.45L601.77,207.19L612.51,209.69L612.51,255.87L596.78,252.12L584.30,249.63L571.82,245.88L559.34,240.89L546.85,239.64L529.38,240.89L516.90,248.38L504.42,260.86L491.93,268.35L479.45,271.10L454.49,271.10Z" fill="#e67d14" fill-opacity="0.20" stroke="none"/>
<path d="M454.49,254.62C456.57,253.58 462.81,250.46 466.97,248.38C471.13,246.30 475.29,244.01 479.45,242.14C483.61,240.27 487.77,238.52 491.93,237.15C496.09,235.77 500.26,234.69 504.42,233.90C508.58,233.11 513.15,232.69 516.90,232.40C520.64,232.11 523.55,232.07 526.88,232.15C530.21,232.24 533.54,232.61 536.87,232.90C540.20,233.19 543.53,233.32 546.85,233.90C550.18,234.48 553.51,235.32 556.84,236.40C560.17,237.48 563.50,238.81 566.82,240.39C570.15,241.97 573.48,244.05 576.81,245.88C580.14,247.71 583.47,249.71 586.80,251.38C590.12,253.04 593.45,254.37 596.78,255.87C600.11,257.37 604.15,259.20 606.77,260.36C609.39,261.53 611.55,262.44 612.51,262.86" fill="none" stroke="#2ca02c" stroke-width="1.5" stroke-linejoin="round"/>
<path d="M454.49,257.12C456.57,255.87 462.81,252.33 466.97,249.63C471.13,246.92 475.29,243.59 479.45,240.89C483.61,238.19 487.77,235.56 491.93,233.40C496.09,231.24 500.26,229.37 504.42,227.91C508.58,226.45 512.74,225.58 516.90,224.66C521.06,223.75 525.22,222.92 529.38,222.42C533.54,221.92 537.70,221.59 541.86,221.67C546.02,221.75 550.18,222.21 554.34,222.92C558.50,223.62 563.08,224.66 566.82,225.91C570.57,227.16 573.48,228.53 576.81,230.41C580.14,232.28 583.47,234.77 586.80,237.15C590.12,239.52 593.45,242.14 596.78,244.64C600.11,247.13 604.15,250.17 606.77,252.12C609.39,254.08 611.55,255.66 612.51,256.37" fill="none" stroke="#1f77b4" stroke-width="1.5" stroke-linejoin="round"/>
<path d="M454.49,261.61C456.57,260.24 462.81,256.41 466.97,253.37C471.13,250.34 475.29,246.72 479.45,243.39C483.61,240.06 487.77,236.65 491.93,233.40C496.09,230.16 500.26,226.62 504.42,223.92C508.58,221.21 512.74,219.13 516.90,217.18C521.06,215.22 525.22,213.56 529.38,212.18C533.54,210.81 538.12,209.64 541.86,208.94C545.61,208.23 548.52,207.94 551.85,207.94C555.18,207.94 558.50,208.23 561.83,208.94C565.16,209.64 568.49,210.81 571.82,212.18C575.15,213.56 578.47,215.22 581.80,217.18C585.13,219.13 588.46,221.21 591.79,223.92C595.12,226.62 598.32,229.82 601.77,233.40C605.23,236.98 610.72,243.39 612.51,245.38" fill="none" stroke="#ff7f0e" stroke-width="1.5" stroke-linejoin="round"/>
</g>
<g clip-path="url(#c5x)">
<g fill="#2ca02c" fill-opacity="0.75" stroke="#444" stroke-width="0.70" stroke-opacity="0.70"><circle cx="454.60" cy="235.60" r="1.50"/><circle cx="460.92" cy="233.08" r="1.50"/><circle cx="467.23" cy="230.65" r="1.50"/><circle cx="473.55" cy="227.62" r="1.50"/><circle cx="479.86" cy="224.82" r="1.50"/><circle cx="486.18" cy="220.68" r="1.50"/><circle cx="492.50" cy="216.90" r="1.50"/><circle cx="498.81" cy="215.66" r="1.50"/><circle cx="505.13" cy="214.93" r="1.50"/><circle cx="511.44" cy="214.93" r="1.50"/><circle cx="517.76" cy="214.42" r="1.50"/><circle cx="524.08" cy="214.43" r="1.50"/><circle cx="530.39" cy="214.43" r="1.50"/><circle cx="536.71" cy="214.43" r="1.50"/><circle cx="543.02" cy="214.43" r="1.50"/><circle cx="549.34" cy="214.43" r="1.50"/><circle cx="555.66" cy="214.93" r="1.50"/><circle cx="561.97" cy="215.66" r="1.50"/><circle cx="568.29" cy="216.92" r="1.50"/><circle cx="574.60" cy="218.68" r="1.50"/><circle cx="580.92" cy="220.18" r="1.50"/><circle cx="587.24" cy="220.17" r="1.50"/><circle cx="593.55" cy="219.42" r="1.50"/><circle cx="599.87" cy="218.16" r="1.50"/><circle cx="606.18" cy="216.94" r="1.50"/><circle cx="612.50" cy="216.43" r="1.50"/></g>
<g fill="#1f77b4" fill-opacity="0.75" stroke="#444" stroke-width="0.70" stroke-opacity="0.70"><circle cx="454.60" cy="234.61" r="1.50"/><circle cx="460.92" cy="232.08" r="1.50"/><circle cx="467.23" cy="229.65" r="1.50"/><circle cx="473.55" cy="226.62" r="1.50"/><circle cx="479.86" cy="223.83" r="1.50"/><circle cx="486.18" cy="219.68" r="1.50"/><circle cx="492.50" cy="215.90" r="1.50"/><circle cx="498.81" cy="214.66" r="1.50"/><circle cx="505.13" cy="213.93" r="1.50"/><circle cx="511.44" cy="213.93" r="1.50"/><circle cx="517.76" cy="213.43" r="1.50"/><circle cx="524.08" cy="213.43" r="1.50"/><circle cx="530.39" cy="213.43" r="1.50"/><circle cx="536.71" cy="213.43" r="1.50"/><circle cx="543.02" cy="213.43" r="1.50"/><circle cx="549.34" cy="213.43" r="1.50"/><circle cx="555.66" cy="213.94" r="1.50"/><circle cx="561.97" cy="214.66" r="1.50"/><circle cx="568.29" cy="215.92" r="1.50"/><circle cx="574.60" cy="217.69" r="1.50"/><circle cx="580.92" cy="219.19" r="1.50"/><circle cx="587.24" cy="219.18" r="1.50"/><circle cx="593.55" cy="218.42" r="1.50"/><circle cx="599.87" cy="217.16" r="1.50"/><circle cx="606.18" cy="215.94" r="1.50"/><circle cx="612.50" cy="215.43" r="1.50"/></g>
<g fill="#ff7f0e" fill-opacity="0.75" stroke="#444" stroke-width="0.70" stroke-opacity="0.70"><circle cx="454.60" cy="233.61" r="1.50"/><circle cx="460.92" cy="231.08" r="1.50"/><circle cx="467.23" cy="228.65" r="1.50"/><circle cx="473.55" cy="225.62" r="1.50"/><circle cx="479.86" cy="222.83" r="1.50"/><circle cx="486.18" cy="218.68" r="1.50"/><circle cx="492.50" cy="214.90" r="1.50"/><circle cx="498.81" cy="213.66" r="1.50"/><circle cx="505.13" cy="212.93" r="1.50"/><circle cx="511.44" cy="212.93" r="1.50"/><circle cx="517.76" cy="212.43" r="1.50"/><circle cx="524.08" cy="212.43" r="1.50"/><circle cx="530.39" cy="212.43" r="1.50"/><circle cx="536.71" cy="212.43" r="1.50"/><circle cx="543.02" cy="212.43" r="1.50"/><circle cx="549.34" cy="212.43" r="1.50"/><circle cx="555.66" cy="212.94" r="1.50"/><circle cx="561.97" cy="213.66" r="1.50"/><circle cx="568.29" cy="214.92" r="1.50"/><circle cx="574.60" cy="216.69" r="1.50"/><circle cx="580.92" cy="218.19" r="1.50"/><circle cx="587.24" cy="218.18" r="1.50"/><circle cx="593.55" cy="217.42" r="1.50"/><circle cx="599.87" cy="216.16" r="1.50"/><circle cx="606.18" cy="214.94" r="1.50"/><circle cx="612.50" cy="214.43" r="1.50"/></g>
<path d="M454.60,241.10V242.09M460.92,238.57V239.57M467.23,236.14V237.14M473.55,233.11V234.11M479.86,230.32V231.31M486.18,226.17V227.17M492.50,222.39V223.39M498.81,221.15V222.15M505.13,220.42V221.42M511.44,220.42V221.42M517.76,219.92V220.92M524.08,219.92V220.92M530.39,219.92V220.92M536.71,219.92V220.92M543.02,219.92V220.92M549.34,219.92V220.92M555.66,220.43V221.43M561.97,221.15V222.15M568.29,222.41V223.41M574.60,224.18V225.17M580.92,225.68V226.67M587.24,225.67V226.66M593.55,224.91V225.91M599.87,223.65V224.65M606.18,222.43V223.43M612.50,221.92V222.92" stroke="#2ca02c" stroke-width="0.90" stroke-opacity="0.85" fill="none"/>
<path d="M453.30,229.11h2.6M453.30,242.09h2.6M459.62,226.59h2.6M459.62,239.57h2.6M465.93,224.16h2.6M465.93,237.14h2.6M472.25,221.13h2.6M472.25,234.11h2.6M478.56,218.33h2.6M478.56,231.31h2.6M484.88,214.19h2.6M484.88,227.17h2.6M491.20,210.41h2.6M491.20,223.39h2.6M497.51,209.17h2.6M497.51,222.15h2.6M503.83,208.44h2.6M503.83,221.42h2.6M510.14,208.44h2.6M510.14,221.42h2.6M516.46,207.93h2.6M516.46,220.92h2.6M522.78,207.94h2.6M522.78,220.92h2.6M529.09,207.94h2.6M529.09,220.92h2.6M535.41,207.94h2.6M535.41,220.92h2.6M541.72,207.94h2.6M541.72,220.92h2.6M548.04,207.94h2.6M548.04,220.92h2.6M554.36,208.44h2.6M554.36,221.43h2.6M560.67,209.17h2.6M560.67,222.15h2.6M566.99,210.43h2.6M566.99,223.41h2.6M573.30,212.19h2.6M573.30,225.17h2.6M579.62,213.69h2.6M579.62,226.67h2.6M585.94,213.68h2.6M585.94,226.66h2.6M592.25,212.93h2.6M592.25,225.91h2.6M598.57,211.67h2.6M598.57,224.65h2.6M604.88,210.45h2.6M604.88,223.43h2.6M611.20,209.94h2.6M611.20,222.92h2.6" stroke="#2ca02c" stroke-width="0.9" stroke-opacity="0.85" fill="none"/>
<path d="M453.30,228.11h2.6M453.30,241.10h2.6M459.62,225.59h2.6M459.62,238.57h2.6M465.93,223.16h2.6M465.93,236.14h2.6M472.25,220.13h2.6M472.25,233.11h2.6M478.56,217.34h2.6M478.56,230.32h2.6M484.88,213.19h2.6M484.88,226.17h2.6M491.20,209.41h2.6M491.20,222.39h2.6M497.51,208.17h2.6M497.51,221.15h2.6M503.83,207.44h2.6M503.83,220.42h2.6M510.14,207.44h2.6M510.14,220.42h2.6M516.46,206.94h2.6M516.46,219.92h2.6M522.78,206.94h2.6M522.78,219.92h2.6M529.09,206.94h2.6M529.09,219.92h2.6M535.41,206.94h2.6M535.41,219.92h2.6M541.72,206.94h2.6M541.72,219.92h2.6M548.04,206.94h2.6M548.04,219.92h2.6M554.36,207.45h2.6M554.36,220.43h2.6M560.67,208.17h2.6M560.67,221.15h2.6M566.99,209.43h2.6M566.99,222.41h2.6M573.30,211.19h2.6M573.30,224.18h2.6M579.62,212.69h2.6M579.62,225.68h2.6M585.94,212.69h2.6M585.94,225.67h2.6M592.25,211.93h2.6M592.25,224.91h2.6M598.57,210.67h2.6M598.57,223.65h2.6M604.88,209.45h2.6M604.88,222.43h2.6M611.20,208.94h2.6M611.20,221.92h2.6" stroke="#1f77b4" stroke-width="0.9" stroke-opacity="0.85" fill="none"/>
<path d="M454.60,226.12V241.10M460.92,223.59V238.57M467.23,221.16V236.14M473.55,218.13V233.11M479.86,215.34V230.32M486.18,211.19V226.17M492.50,207.41V222.39M498.81,206.17V221.15M505.13,205.44V220.42M511.44,205.44V220.42M517.76,204.94V219.92M524.08,204.94V219.92M530.39,204.94V219.92M536.71,204.94V219.92M543.02,204.94V219.92M549.34,204.94V219.92M555.66,205.45V220.43M561.97,206.17V221.15M568.29,207.43V222.41M574.60,209.20V224.18M580.92,210.70V225.68M587.24,210.69V225.67M593.55,209.93V224.91M599.87,208.67V223.65M606.18,207.45V222.43M612.50,206.94V221.92" stroke="#ff7f0e" stroke-width="1.00" stroke-opacity="0.85" fill="none"/>
<path d="M453.30,226.12h2.6M453.30,241.10h2.6M459.62,223.59h2.6M459.62,238.57h2.6M465.93,221.16h2.6M465.93,236.14h2.6M472.25,218.13h2.6M472.25,233.11h2.6M478.56,215.34h2.6M478.56,230.32h2.6M484.88,211.19h2.6M484.88,226.17h2.6M491.20,207.41h2.6M491.20,222.39h2.6M497.51,206.17h2.6M497.51,221.15h2.6M503.83,205.44h2.6M503.83,220.42h2.6M510.14,205.44h2.6M510.14,220.42h2.6M516.46,204.94h2.6M516.46,219.92h2.6M522.78,204.94h2.6M522.78,219.92h2.6M529.09,204.94h2.6M529.09,219.92h2.6M535.41,204.94h2.6M535.41,219.92h2.6M541.72,204.94h2.6M541.72,219.92h2.6M548.04,204.94h2.6M548.04,219.92h2.6M554.36,205.45h2.6M554.36,220.43h2.6M560.67,206.17h2.6M560.67,221.15h2.6M566.99,207.43h2.6M566.99,222.41h2.6M573.30,209.20h2.6M573.30,224.18h2.6M579.62,210.70h2.6M579.62,225.68h2.6M585.94,210.69h2.6M585.94,225.67h2.6M592.25,209.93h2.6M592.25,224.91h2.6M598.57,208.67h2.6M598.57,223.65h2.6M604.88,207.45h2.6M604.88,222.43h2.6M611.20,206.94h2.6M611.20,221.92h2.6" stroke="#ff7f0e" stroke-width="0.9" stroke-opacity="0.85" fill="none"/>
</g>
<clipPath id="c5x"><rect x="453.60" y="169.70" width="159.90" height="103.40"/></clipPath>
<path d="M454.60,171.70H612.50M454.60,171.70V271.10M454.60,271.10H612.50" stroke="#000" stroke-width="1.30" fill="none" stroke-linecap="square"/>
<path d="M612.50,171.70V271.10" stroke="#7a3838" stroke-width="1.70" fill="none" stroke-linecap="square"/>
<text x="454.60" y="282.30" font-size="8.20" fill="#222" text-anchor="middle" stroke="#222" stroke-width="0.16" textLength="9.67" lengthAdjust="spacingAndGlyphs">40</text>
<text x="517.76" y="282.30" font-size="8.20" fill="#222" text-anchor="middle" stroke="#222" stroke-width="0.16" textLength="9.67" lengthAdjust="spacingAndGlyphs">50</text>
<text x="580.92" y="282.30" font-size="8.20" fill="#222" text-anchor="middle" stroke="#222" stroke-width="0.16" textLength="9.67" lengthAdjust="spacingAndGlyphs">60</text>
<text x="450.40" y="273.40" font-size="6.50" fill="#222" text-anchor="end" stroke="#222" stroke-width="0.15" textLength="10.34" lengthAdjust="spacingAndGlyphs">0.0</text>
<text x="450.40" y="256.83" font-size="6.50" fill="#222" text-anchor="end" stroke="#222" stroke-width="0.15" textLength="10.34" lengthAdjust="spacingAndGlyphs">2.5</text>
<text x="450.40" y="240.27" font-size="6.50" fill="#222" text-anchor="end" stroke="#222" stroke-width="0.15" textLength="10.34" lengthAdjust="spacingAndGlyphs">5.0</text>
<text x="450.40" y="223.70" font-size="6.50" fill="#222" text-anchor="end" stroke="#222" stroke-width="0.15" textLength="10.34" lengthAdjust="spacingAndGlyphs">7.5</text>
<text x="450.40" y="207.13" font-size="6.50" fill="#222" text-anchor="end" stroke="#222" stroke-width="0.15" textLength="14.47" lengthAdjust="spacingAndGlyphs">10.0</text>
<text x="450.40" y="190.57" font-size="6.50" fill="#222" text-anchor="end" stroke="#222" stroke-width="0.15" textLength="14.47" lengthAdjust="spacingAndGlyphs">12.5</text>
<text x="450.40" y="174.00" font-size="6.50" fill="#222" text-anchor="end" stroke="#222" stroke-width="0.15" textLength="14.47" lengthAdjust="spacingAndGlyphs">15.0</text>
<path d="M454.60,271.10v2.4M517.76,271.10v2.4M580.92,271.10v2.4M454.60,271.10h-2.4M454.60,254.53h-2.4M454.60,237.97h-2.4M454.60,221.40h-2.4M454.60,204.83h-2.4M454.60,188.27h-2.4M454.60,171.70h-2.4" stroke="#000" stroke-width="0.7" fill="none"/>
<text x="616.70" y="273.40" font-size="6.50" fill="#e8383c" text-anchor="start" stroke="#e8383c" stroke-width="0.15" textLength="10.34" lengthAdjust="spacingAndGlyphs">0.0</text>
<text x="616.70" y="253.52" font-size="6.50" fill="#e8383c" text-anchor="start" stroke="#e8383c" stroke-width="0.15" textLength="10.34" lengthAdjust="spacingAndGlyphs">0.2</text>
<text x="616.70" y="233.64" font-size="6.50" fill="#e8383c" text-anchor="start" stroke="#e8383c" stroke-width="0.15" textLength="10.34" lengthAdjust="spacingAndGlyphs">0.4</text>
<text x="616.70" y="213.76" font-size="6.50" fill="#e8383c" text-anchor="start" stroke="#e8383c" stroke-width="0.15" textLength="10.34" lengthAdjust="spacingAndGlyphs">0.6</text>
<text x="616.70" y="193.88" font-size="6.50" fill="#e8383c" text-anchor="start" stroke="#e8383c" stroke-width="0.15" textLength="10.34" lengthAdjust="spacingAndGlyphs">0.8</text>
<text x="616.70" y="174.00" font-size="6.50" fill="#e8383c" text-anchor="start" stroke="#e8383c" stroke-width="0.15" textLength="10.34" lengthAdjust="spacingAndGlyphs">1.0</text>
<path d="M612.50,271.10h2.4M612.50,251.22h2.4M612.50,231.34h2.4M612.50,211.46h2.4M612.50,191.58h2.4M612.50,171.70h2.4" stroke="#e8383c" stroke-width="0.7" fill="none"/>
<text x="533.55" y="167.30" font-size="9.40" fill="#111" text-anchor="middle" stroke="#111" stroke-width="0.25" textLength="26.00" lengthAdjust="spacingAndGlyphs">NA JJA</text>
<text x="432.43" y="221.40" font-size="6.60" fill="#222" text-anchor="middle" stroke="#222" stroke-width="0.15" transform="rotate(-90 432.43 221.40)" textLength="10.40" lengthAdjust="spacingAndGlyphs">PW</text>
<text x="636.64" y="221.40" font-size="7.90" fill="#e8383c" text-anchor="middle" stroke="#e8383c" stroke-width="0.16" transform="rotate(-90 636.64 221.40)" textLength="20.60" lengthAdjust="spacingAndGlyphs">dt2m</text>
<text x="533.55" y="291.60" font-size="6.50" fill="#222" text-anchor="middle" stroke="#222" stroke-width="0.15" textLength="26.30" lengthAdjust="spacingAndGlyphs">Latitude</text>
<text x="460.70" y="267.90" font-size="9.40" fill="#000" text-anchor="start" stroke="#000" stroke-width="0.10" font-weight="bold" textLength="26.90" lengthAdjust="spacingAndGlyphs">Δ = 25</text>
<clipPath id="c6"><rect x="29.70" y="340.50" width="157.30" height="99.00"/></clipPath>
<g clip-path="url(#c6)">
<path d="M29.74,439.35L41.97,427.36L51.96,409.89L61.94,394.91L70.68,383.68L79.42,387.42L86.91,394.91L96.89,404.90L106.88,417.38L116.86,428.61L126.85,434.85L139.33,438.60L186.76,439.60L186.76,439.60L111.87,439.35L101.88,436.10L94.39,431.11L86.91,433.61L71.93,436.10L51.96,438.60L29.74,439.60Z" fill="#2ca02c" fill-opacity="0.20" stroke="none"/>
<path d="M29.74,431.11L36.98,428.61L44.47,422.37L51.96,412.39L61.94,394.91L71.93,377.94L78.17,374.44L83.16,376.94L89.40,383.68L96.89,392.42L104.38,401.15L111.87,411.14L121.85,422.37L131.84,431.11L141.82,436.85L156.80,439.35L186.76,439.60L186.76,439.60L126.85,439.60L111.87,437.85L101.88,433.61L91.90,428.61L81.91,431.11L66.93,433.61L46.96,437.35L29.74,439.60Z" fill="#1f77b4" fill-opacity="0.20" stroke="none"/>
<path d="M29.74,439.35L39.47,429.86L49.46,409.89L56.95,384.93L64.44,362.46L69.43,351.23L71.93,349.98L75.67,354.97L81.91,367.45L86.91,376.19L91.90,382.43L96.89,386.67L104.38,394.41L111.87,404.40L119.36,414.38L126.85,422.87L134.34,430.61L144.32,436.10L156.80,438.60L186.76,439.60L186.76,439.60L111.87,439.35L96.89,434.85L84.41,431.11L71.93,429.86L51.96,436.10L29.74,439.60Z" fill="#e67d14" fill-opacity="0.20" stroke="none"/>
<path d="M29.74,439.60C32.19,439.60 41.18,441.01 44.47,439.60C47.75,438.18 47.38,433.98 49.46,431.11C51.54,428.24 54.45,424.87 56.95,422.37C59.45,419.88 61.94,417.92 64.44,416.13C66.93,414.34 69.43,412.47 71.93,411.64C74.42,410.81 76.92,410.68 79.42,411.14C81.91,411.60 84.41,413.14 86.91,414.38C89.40,415.63 91.90,416.88 94.39,418.63C96.89,420.38 99.39,422.79 101.88,424.87C104.38,426.95 106.88,429.36 109.37,431.11C111.87,432.86 114.36,434.23 116.86,435.35C119.36,436.48 121.44,437.18 124.35,437.85C127.26,438.52 123.93,439.06 134.34,439.35C144.74,439.64 178.02,439.56 186.76,439.60" fill="none" stroke="#2ca02c" stroke-width="1.5" stroke-linejoin="round"/>
<path d="M29.74,439.60C32.61,439.60 43.47,441.22 46.96,439.60C50.46,437.97 49.04,433.36 50.71,429.86C52.37,426.37 54.66,421.96 56.95,418.63C59.24,415.30 61.94,412.18 64.44,409.89C66.93,407.60 69.43,405.85 71.93,404.90C74.42,403.94 76.92,403.73 79.42,404.15C81.91,404.56 84.41,406.02 86.91,407.39C89.40,408.77 91.90,410.51 94.39,412.39C96.89,414.26 99.39,416.34 101.88,418.63C104.38,420.92 106.88,423.91 109.37,426.12C111.87,428.32 114.36,430.32 116.86,431.86C119.36,433.40 121.44,434.35 124.35,435.35C127.26,436.35 130.59,437.18 134.34,437.85C138.08,438.52 138.08,439.06 146.82,439.35C155.55,439.64 180.10,439.56 186.76,439.60" fill="none" stroke="#1f77b4" stroke-width="1.5" stroke-linejoin="round"/>
<path d="M29.74,439.60C32.61,439.60 43.47,441.22 46.96,439.60C50.46,437.97 49.04,433.56 50.71,429.86C52.37,426.16 54.66,421.12 56.95,417.38C59.24,413.64 61.94,410.51 64.44,407.39C66.93,404.27 69.43,400.32 71.93,398.66C74.42,396.99 76.92,396.99 79.42,397.41C81.91,397.82 84.41,399.91 86.91,401.15C89.40,402.40 91.90,403.23 94.39,404.90C96.89,406.56 99.39,408.64 101.88,411.14C104.38,413.64 106.88,417.17 109.37,419.88C111.87,422.58 114.36,425.28 116.86,427.36C119.36,429.45 121.85,431.03 124.35,432.36C126.85,433.69 128.93,434.44 131.84,435.35C134.75,436.27 137.66,437.18 141.82,437.85C145.99,438.52 149.31,439.06 156.80,439.35C164.29,439.64 181.77,439.56 186.76,439.60" fill="none" stroke="#ff7f0e" stroke-width="1.5" stroke-linejoin="round"/>
</g>
<g clip-path="url(#c6x)">
<g fill="#2ca02c" fill-opacity="0.75" stroke="#444" stroke-width="0.70" stroke-opacity="0.70"><circle cx="29.70" cy="422.37" r="1.50"/><circle cx="33.63" cy="419.98" r="1.50"/><circle cx="37.56" cy="417.30" r="1.50"/><circle cx="41.50" cy="414.10" r="1.50"/><circle cx="45.43" cy="409.75" r="1.50"/><circle cx="49.36" cy="405.45" r="1.50"/><circle cx="53.30" cy="401.09" r="1.50"/><circle cx="57.23" cy="395.87" r="1.50"/><circle cx="61.16" cy="391.47" r="1.50"/><circle cx="65.09" cy="388.14" r="1.50"/><circle cx="69.03" cy="383.86" r="1.50"/><circle cx="72.96" cy="379.91" r="1.50"/><circle cx="76.89" cy="377.58" r="1.50"/><circle cx="80.82" cy="375.92" r="1.50"/><circle cx="84.75" cy="374.96" r="1.50"/><circle cx="88.69" cy="374.51" r="1.50"/><circle cx="92.62" cy="374.57" r="1.50"/><circle cx="96.55" cy="374.80" r="1.50"/><circle cx="100.49" cy="375.81" r="1.50"/><circle cx="104.42" cy="377.23" r="1.50"/><circle cx="108.35" cy="379.65" r="1.50"/><circle cx="112.28" cy="382.61" r="1.50"/><circle cx="116.22" cy="385.91" r="1.50"/><circle cx="120.15" cy="389.55" r="1.50"/><circle cx="124.08" cy="393.28" r="1.50"/><circle cx="128.01" cy="397.01" r="1.50"/><circle cx="131.94" cy="400.67" r="1.50"/><circle cx="135.88" cy="403.43" r="1.50"/><circle cx="139.81" cy="405.81" r="1.50"/><circle cx="143.74" cy="408.25" r="1.50"/><circle cx="147.68" cy="410.67" r="1.50"/><circle cx="151.61" cy="412.56" r="1.50"/><circle cx="155.54" cy="414.71" r="1.50"/><circle cx="159.47" cy="416.53" r="1.50"/><circle cx="163.41" cy="418.48" r="1.50"/><circle cx="167.34" cy="420.84" r="1.50"/><circle cx="171.27" cy="422.98" r="1.50"/><circle cx="175.20" cy="424.77" r="1.50"/><circle cx="179.13" cy="426.49" r="1.50"/><circle cx="183.07" cy="428.23" r="1.50"/><circle cx="187.00" cy="429.86" r="1.50"/></g>
<g fill="#1f77b4" fill-opacity="0.75" stroke="#444" stroke-width="0.70" stroke-opacity="0.70"><circle cx="29.70" cy="420.62" r="1.50"/><circle cx="33.63" cy="418.11" r="1.50"/><circle cx="37.56" cy="415.30" r="1.50"/><circle cx="41.50" cy="411.98" r="1.50"/><circle cx="45.43" cy="407.50" r="1.50"/><circle cx="49.36" cy="403.07" r="1.50"/><circle cx="53.30" cy="398.59" r="1.50"/><circle cx="57.23" cy="393.24" r="1.50"/><circle cx="61.16" cy="388.71" r="1.50"/><circle cx="65.09" cy="385.26" r="1.50"/><circle cx="69.03" cy="380.85" r="1.50"/><circle cx="72.96" cy="376.77" r="1.50"/><circle cx="76.89" cy="374.31" r="1.50"/><circle cx="80.82" cy="372.54" r="1.50"/><circle cx="84.75" cy="371.44" r="1.50"/><circle cx="88.69" cy="370.87" r="1.50"/><circle cx="92.62" cy="370.83" r="1.50"/><circle cx="96.55" cy="371.11" r="1.50"/><circle cx="100.49" cy="372.18" r="1.50"/><circle cx="104.42" cy="373.65" r="1.50"/><circle cx="108.35" cy="376.12" r="1.50"/><circle cx="112.28" cy="379.13" r="1.50"/><circle cx="116.22" cy="382.48" r="1.50"/><circle cx="120.15" cy="386.18" r="1.50"/><circle cx="124.08" cy="389.96" r="1.50"/><circle cx="128.01" cy="393.74" r="1.50"/><circle cx="131.94" cy="397.46" r="1.50"/><circle cx="135.88" cy="400.27" r="1.50"/><circle cx="139.81" cy="402.70" r="1.50"/><circle cx="143.74" cy="405.18" r="1.50"/><circle cx="147.68" cy="407.66" r="1.50"/><circle cx="151.61" cy="409.60" r="1.50"/><circle cx="155.54" cy="411.81" r="1.50"/><circle cx="159.47" cy="413.67" r="1.50"/><circle cx="163.41" cy="415.68" r="1.50"/><circle cx="167.34" cy="418.09" r="1.50"/><circle cx="171.27" cy="420.28" r="1.50"/><circle cx="175.20" cy="422.12" r="1.50"/><circle cx="179.13" cy="423.89" r="1.50"/><circle cx="183.07" cy="425.68" r="1.50"/><circle cx="187.00" cy="427.36" r="1.50"/></g>
<g fill="#ff7f0e" fill-opacity="0.75" stroke="#444" stroke-width="0.70" stroke-opacity="0.70"><circle cx="29.70" cy="418.63" r="1.50"/><circle cx="33.63" cy="415.82" r="1.50"/><circle cx="37.56" cy="412.71" r="1.50"/><circle cx="41.50" cy="409.08" r="1.50"/><circle cx="45.43" cy="404.31" r="1.50"/><circle cx="49.36" cy="399.58" r="1.50"/><circle cx="53.30" cy="394.79" r="1.50"/><circle cx="57.23" cy="389.15" r="1.50"/><circle cx="61.16" cy="384.31" r="1.50"/><circle cx="65.09" cy="380.57" r="1.50"/><circle cx="69.03" cy="375.86" r="1.50"/><circle cx="72.96" cy="371.48" r="1.50"/><circle cx="76.89" cy="368.72" r="1.50"/><circle cx="80.82" cy="366.64" r="1.50"/><circle cx="84.75" cy="365.25" r="1.50"/><circle cx="88.69" cy="364.38" r="1.50"/><circle cx="92.62" cy="364.12" r="1.50"/><circle cx="96.55" cy="364.58" r="1.50"/><circle cx="100.49" cy="365.83" r="1.50"/><circle cx="104.42" cy="367.47" r="1.50"/><circle cx="108.35" cy="370.12" r="1.50"/><circle cx="112.28" cy="373.30" r="1.50"/><circle cx="116.22" cy="376.83" r="1.50"/><circle cx="120.15" cy="380.70" r="1.50"/><circle cx="124.08" cy="384.66" r="1.50"/><circle cx="128.01" cy="388.62" r="1.50"/><circle cx="131.94" cy="392.51" r="1.50"/><circle cx="135.88" cy="395.49" r="1.50"/><circle cx="139.81" cy="398.10" r="1.50"/><circle cx="143.74" cy="400.76" r="1.50"/><circle cx="147.68" cy="403.41" r="1.50"/><circle cx="151.61" cy="405.53" r="1.50"/><circle cx="155.54" cy="407.91" r="1.50"/><circle cx="159.47" cy="409.96" r="1.50"/><circle cx="163.41" cy="412.14" r="1.50"/><circle cx="167.34" cy="414.73" r="1.50"/><circle cx="171.27" cy="417.09" r="1.50"/><circle cx="175.20" cy="419.11" r="1.50"/><circle cx="179.13" cy="421.06" r="1.50"/><circle cx="183.07" cy="423.02" r="1.50"/><circle cx="187.00" cy="424.87" r="1.50"/></g>
<path d="M29.70,421.37V424.37M33.63,418.56V421.98M37.56,415.45V419.30M41.50,412.11V416.10M45.43,407.76V411.75M49.36,403.45V407.45M53.30,399.10V403.09M57.23,393.87V397.87M61.16,389.47V393.46M65.09,386.15V390.14M69.03,381.86V385.86M72.96,377.91V381.91M76.89,375.58V379.57M80.82,373.93V377.92M84.75,372.96V376.96M88.69,372.52V376.51M92.62,372.57V376.56M96.55,372.80V376.79M100.49,373.82V377.81M104.42,375.23V379.23M108.35,377.65V381.64M112.28,380.61V384.60M116.22,383.91V387.90M120.15,387.56V391.55M124.08,391.28V395.28M128.01,395.01V399.01M131.94,398.68V402.67M135.88,401.44V405.43M139.81,403.82V407.81M143.74,406.25V410.24M147.68,408.67V412.67M151.61,410.56V414.56M155.54,412.72V416.71M159.47,414.53V418.53M163.41,416.49V420.48M167.34,418.85V422.84M171.27,420.99V424.98M175.20,422.77V426.77M179.13,424.49V428.49M183.07,426.23V430.23M187.00,427.86V431.86" stroke="#2ca02c" stroke-width="0.90" stroke-opacity="0.85" fill="none"/>
<path d="M28.40,420.38h2.6M28.40,424.37h2.6M32.33,417.99h2.6M32.33,421.98h2.6M36.27,415.30h2.6M36.27,419.30h2.6M40.20,412.11h2.6M40.20,416.10h2.6M44.13,407.76h2.6M44.13,411.75h2.6M48.06,403.45h2.6M48.06,407.45h2.6M52.00,399.10h2.6M52.00,403.09h2.6M55.93,393.87h2.6M55.93,397.87h2.6M59.86,389.47h2.6M59.86,393.46h2.6M63.79,386.15h2.6M63.79,390.14h2.6M67.73,381.86h2.6M67.73,385.86h2.6M71.66,377.91h2.6M71.66,381.91h2.6M75.59,375.58h2.6M75.59,379.57h2.6M79.52,373.93h2.6M79.52,377.92h2.6M83.45,372.96h2.6M83.45,376.96h2.6M87.39,372.52h2.6M87.39,376.51h2.6M91.32,372.57h2.6M91.32,376.56h2.6M95.25,372.80h2.6M95.25,376.79h2.6M99.19,373.82h2.6M99.19,377.81h2.6M103.12,375.23h2.6M103.12,379.23h2.6M107.05,377.65h2.6M107.05,381.64h2.6M110.98,380.61h2.6M110.98,384.60h2.6M114.92,383.91h2.6M114.92,387.90h2.6M118.85,387.56h2.6M118.85,391.55h2.6M122.78,391.28h2.6M122.78,395.28h2.6M126.71,395.01h2.6M126.71,399.01h2.6M130.64,398.68h2.6M130.64,402.67h2.6M134.58,401.44h2.6M134.58,405.43h2.6M138.51,403.82h2.6M138.51,407.81h2.6M142.44,406.25h2.6M142.44,410.24h2.6M146.38,408.67h2.6M146.38,412.67h2.6M150.31,410.56h2.6M150.31,414.56h2.6M154.24,412.72h2.6M154.24,416.71h2.6M158.17,414.53h2.6M158.17,418.53h2.6M162.10,416.49h2.6M162.10,420.48h2.6M166.04,418.85h2.6M166.04,422.84h2.6M169.97,420.99h2.6M169.97,424.98h2.6M173.90,422.77h2.6M173.90,426.77h2.6M177.83,424.49h2.6M177.83,428.49h2.6M181.77,426.23h2.6M181.77,430.23h2.6M185.70,427.86h2.6M185.70,431.86h2.6" stroke="#2ca02c" stroke-width="0.9" stroke-opacity="0.85" fill="none"/>
<path d="M29.70,421.37V422.87M33.63,418.56V420.36M37.56,415.45V417.55M41.50,411.83V414.23M45.43,407.05V409.75M49.36,402.33V405.32M53.30,397.54V400.84M57.23,391.89V395.49M61.16,387.06V390.96M65.09,383.31V387.51M69.03,378.60V383.10M72.96,374.53V379.02M76.89,372.07V376.56M80.82,370.29V374.78M84.75,369.20V373.69M88.69,368.63V373.12M92.62,368.59V373.08M96.55,368.87V373.36M100.49,369.94V374.43M104.42,371.41V375.90M108.35,373.87V378.37M112.28,376.88V381.38M116.22,380.23V384.73M120.15,383.93V388.43M124.08,387.71V392.20M128.01,391.49V395.99M131.94,395.25V399.70M135.88,398.24V402.51M139.81,400.85V404.95M143.74,403.51V407.43M147.68,406.16V409.90M151.61,408.28V411.85M155.54,410.66V414.05M159.47,412.70V415.92M163.41,414.88V417.93M167.34,417.47V420.34M171.27,419.84V422.53M175.20,421.85V424.37M179.13,423.80V426.14M183.07,425.77V427.93M187.00,427.61V429.61" stroke="#1f77b4" stroke-width="0.90" stroke-opacity="0.85" fill="none"/>
<path d="M28.40,418.38h2.6M28.40,422.87h2.6M32.33,415.86h2.6M32.33,420.36h2.6M36.27,413.05h2.6M36.27,417.55h2.6M40.20,409.73h2.6M40.20,414.23h2.6M44.13,405.25h2.6M44.13,409.75h2.6M48.06,400.83h2.6M48.06,405.32h2.6M52.00,396.34h2.6M52.00,400.84h2.6M55.93,390.99h2.6M55.93,395.49h2.6M59.86,386.46h2.6M59.86,390.96h2.6M63.79,383.01h2.6M63.79,387.51h2.6M67.73,378.60h2.6M67.73,383.10h2.6M71.66,374.53h2.6M71.66,379.02h2.6M75.59,372.07h2.6M75.59,376.56h2.6M79.52,370.29h2.6M79.52,374.78h2.6M83.45,369.20h2.6M83.45,373.69h2.6M87.39,368.63h2.6M87.39,373.12h2.6M91.32,368.59h2.6M91.32,373.08h2.6M95.25,368.87h2.6M95.25,373.36h2.6M99.19,369.94h2.6M99.19,374.43h2.6M103.12,371.41h2.6M103.12,375.90h2.6M107.05,373.87h2.6M107.05,378.37h2.6M110.98,376.88h2.6M110.98,381.38h2.6M114.92,380.23h2.6M114.92,384.73h2.6M118.85,383.93h2.6M118.85,388.43h2.6M122.78,387.71h2.6M122.78,392.20h2.6M126.71,391.49h2.6M126.71,395.99h2.6M130.64,395.21h2.6M130.64,399.70h2.6M134.58,398.02h2.6M134.58,402.51h2.6M138.51,400.45h2.6M138.51,404.95h2.6M142.44,402.94h2.6M142.44,407.43h2.6M146.38,405.41h2.6M146.38,409.90h2.6M150.31,407.35h2.6M150.31,411.85h2.6M154.24,409.56h2.6M154.24,414.05h2.6M158.17,411.43h2.6M158.17,415.92h2.6M162.10,413.43h2.6M162.10,417.93h2.6M166.04,415.85h2.6M166.04,420.34h2.6M169.97,418.04h2.6M169.97,422.53h2.6M173.90,419.87h2.6M173.90,424.37h2.6M177.83,421.65h2.6M177.83,426.14h2.6M181.77,423.44h2.6M181.77,427.93h2.6M185.70,425.12h2.6M185.70,429.61h2.6" stroke="#1f77b4" stroke-width="0.9" stroke-opacity="0.85" fill="none"/>
<path d="M29.70,415.88V421.37M33.63,413.07V418.56M37.56,409.96V415.45M41.50,406.34V411.83M45.43,401.56V407.05M49.36,396.83V402.33M53.30,392.05V397.54M57.23,386.40V391.89M61.16,381.57V387.06M65.09,377.82V383.31M69.03,373.11V378.60M72.96,368.73V374.22M76.89,365.97V371.47M80.82,363.89V369.39M84.75,362.50V367.99M88.69,361.63V367.12M92.62,361.38V366.87M96.55,361.83V367.33M100.49,363.08V368.57M104.42,364.73V370.22M108.35,367.37V372.86M112.28,370.55V376.05M116.22,374.08V379.58M120.15,377.96V383.45M124.08,381.91V387.40M128.01,385.87V391.36M131.94,389.76V395.25M135.88,392.75V398.24M139.81,395.36V400.85M143.74,398.02V403.51M147.68,400.67V406.16M151.61,402.79V408.28M155.54,405.17V410.66M159.47,407.21V412.70M163.41,409.39V414.88M167.34,411.98V417.47M171.27,414.35V419.84M175.20,416.36V421.85M179.13,418.31V423.80M183.07,420.28V425.77M187.00,422.12V427.61" stroke="#ff7f0e" stroke-width="1.00" stroke-opacity="0.85" fill="none"/>
<path d="M28.40,415.88h2.6M28.40,421.37h2.6M32.33,413.07h2.6M32.33,418.56h2.6M36.27,409.96h2.6M36.27,415.45h2.6M40.20,406.34h2.6M40.20,411.83h2.6M44.13,401.56h2.6M44.13,407.05h2.6M48.06,396.83h2.6M48.06,402.33h2.6M52.00,392.05h2.6M52.00,397.54h2.6M55.93,386.40h2.6M55.93,391.89h2.6M59.86,381.57h2.6M59.86,387.06h2.6M63.79,377.82h2.6M63.79,383.31h2.6M67.73,373.11h2.6M67.73,378.60h2.6M71.66,368.73h2.6M71.66,374.22h2.6M75.59,365.97h2.6M75.59,371.47h2.6M79.52,363.89h2.6M79.52,369.39h2.6M83.45,362.50h2.6M83.45,367.99h2.6M87.39,361.63h2.6M87.39,367.12h2.6M91.32,361.38h2.6M91.32,366.87h2.6M95.25,361.83h2.6M95.25,367.33h2.6M99.19,363.08h2.6M99.19,368.57h2.6M103.12,364.73h2.6M103.12,370.22h2.6M107.05,367.37h2.6M107.05,372.86h2.6M110.98,370.55h2.6M110.98,376.05h2.6M114.92,374.08h2.6M114.92,379.58h2.6M118.85,377.96h2.6M118.85,383.45h2.6M122.78,381.91h2.6M122.78,387.40h2.6M126.71,385.87h2.6M126.71,391.36h2.6M130.64,389.76h2.6M130.64,395.25h2.6M134.58,392.75h2.6M134.58,398.24h2.6M138.51,395.36h2.6M138.51,400.85h2.6M142.44,398.02h2.6M142.44,403.51h2.6M146.38,400.67h2.6M146.38,406.16h2.6M150.31,402.79h2.6M150.31,408.28h2.6M154.24,405.17h2.6M154.24,410.66h2.6M158.17,407.21h2.6M158.17,412.70h2.6M162.10,409.39h2.6M162.10,414.88h2.6M166.04,411.98h2.6M166.04,417.47h2.6M169.97,414.35h2.6M169.97,419.84h2.6M173.90,416.36h2.6M173.90,421.85h2.6M177.83,418.31h2.6M177.83,423.80h2.6M181.77,420.28h2.6M181.77,425.77h2.6M185.70,422.12h2.6M185.70,427.61h2.6" stroke="#ff7f0e" stroke-width="0.9" stroke-opacity="0.85" fill="none"/>
</g>
<clipPath id="c6x"><rect x="28.70" y="338.50" width="159.30" height="103.00"/></clipPath>
<path d="M29.70,340.50H187.00M29.70,340.50V439.50M29.70,439.50H187.00" stroke="#000" stroke-width="1.30" fill="none" stroke-linecap="square"/>
<path d="M187.00,340.50V439.50" stroke="#2a209a" stroke-width="1.70" fill="none" stroke-linecap="square"/>
<text x="29.70" y="450.70" font-size="8.20" fill="#222" text-anchor="middle" stroke="#222" stroke-width="0.16" textLength="9.67" lengthAdjust="spacingAndGlyphs">15</text>
<text x="88.69" y="450.70" font-size="8.20" fill="#222" text-anchor="middle" stroke="#222" stroke-width="0.16" textLength="9.67" lengthAdjust="spacingAndGlyphs">30</text>
<text x="147.68" y="450.70" font-size="8.20" fill="#222" text-anchor="middle" stroke="#222" stroke-width="0.16" textLength="9.67" lengthAdjust="spacingAndGlyphs">45</text>
<text x="25.50" y="441.80" font-size="6.50" fill="#222" text-anchor="end" stroke="#222" stroke-width="0.15" textLength="14.47" lengthAdjust="spacingAndGlyphs">0.00</text>
<text x="25.50" y="417.05" font-size="6.50" fill="#222" text-anchor="end" stroke="#222" stroke-width="0.15" textLength="14.47" lengthAdjust="spacingAndGlyphs">0.05</text>
<text x="25.50" y="392.30" font-size="6.50" fill="#222" text-anchor="end" stroke="#222" stroke-width="0.15" textLength="14.47" lengthAdjust="spacingAndGlyphs">0.10</text>
<text x="25.50" y="367.55" font-size="6.50" fill="#222" text-anchor="end" stroke="#222" stroke-width="0.15" textLength="14.47" lengthAdjust="spacingAndGlyphs">0.15</text>
<text x="25.50" y="342.80" font-size="6.50" fill="#222" text-anchor="end" stroke="#222" stroke-width="0.15" textLength="14.47" lengthAdjust="spacingAndGlyphs">0.20</text>
<path d="M29.70,439.50v2.4M88.69,439.50v2.4M147.68,439.50v2.4M29.70,439.50h-2.4M29.70,414.75h-2.4M29.70,390.00h-2.4M29.70,365.25h-2.4M29.70,340.50h-2.4" stroke="#000" stroke-width="0.7" fill="none"/>
<text x="191.20" y="441.80" font-size="6.50" fill="#4848f0" text-anchor="start" stroke="#4848f0" stroke-width="0.15" textLength="10.34" lengthAdjust="spacingAndGlyphs">0.0</text>
<text x="191.20" y="422.00" font-size="6.50" fill="#4848f0" text-anchor="start" stroke="#4848f0" stroke-width="0.15" textLength="10.34" lengthAdjust="spacingAndGlyphs">0.2</text>
<text x="191.20" y="402.20" font-size="6.50" fill="#4848f0" text-anchor="start" stroke="#4848f0" stroke-width="0.15" textLength="10.34" lengthAdjust="spacingAndGlyphs">0.4</text>
<text x="191.20" y="382.40" font-size="6.50" fill="#4848f0" text-anchor="start" stroke="#4848f0" stroke-width="0.15" textLength="10.34" lengthAdjust="spacingAndGlyphs">0.6</text>
<text x="191.20" y="362.60" font-size="6.50" fill="#4848f0" text-anchor="start" stroke="#4848f0" stroke-width="0.15" textLength="10.34" lengthAdjust="spacingAndGlyphs">0.8</text>
<text x="191.20" y="342.80" font-size="6.50" fill="#4848f0" text-anchor="start" stroke="#4848f0" stroke-width="0.15" textLength="10.34" lengthAdjust="spacingAndGlyphs">1.0</text>
<path d="M187.00,439.50h2.4M187.00,419.70h2.4M187.00,399.90h2.4M187.00,380.10h2.4M187.00,360.30h2.4M187.00,340.50h2.4" stroke="#4848f0" stroke-width="0.7" fill="none"/>
<text x="108.35" y="336.10" font-size="9.40" fill="#111" text-anchor="middle" stroke="#111" stroke-width="0.25" textLength="26.00" lengthAdjust="spacingAndGlyphs">EA DJF</text>
<text x="7.53" y="390.00" font-size="6.60" fill="#222" text-anchor="middle" stroke="#222" stroke-width="0.15" transform="rotate(-90 7.53 390.00)" textLength="10.40" lengthAdjust="spacingAndGlyphs">PW</text>
<text x="209.94" y="390.00" font-size="7.00" fill="#4848f0" text-anchor="middle" stroke="#4848f0" stroke-width="0.15" transform="rotate(-90 209.94 390.00)" textLength="42.50" lengthAdjust="spacingAndGlyphs">dq_1000hpa</text>
<text x="35.80" y="436.30" font-size="9.40" fill="#000" text-anchor="start" stroke="#000" stroke-width="0.10" font-weight="bold" textLength="26.90" lengthAdjust="spacingAndGlyphs">Δ = 15</text>
<clipPath id="c7"><rect x="242.10" y="340.50" width="157.50" height="99.00"/></clipPath>
<g clip-path="url(#c7)">
<path d="M241.99,397.41L254.97,393.66L267.45,393.66L279.93,396.16L292.42,401.15L304.90,407.39L317.38,413.64L329.86,419.88L342.34,424.87L354.82,429.86L369.80,434.35L384.78,437.35L399.51,438.85L399.51,439.35L384.78,438.10L369.80,436.60L354.82,433.86L339.85,430.36L322.12,425.37L300.40,419.38L288.67,416.88L276.94,414.88L265.46,413.14L257.47,412.39L249.98,417.38L241.99,421.12Z" fill="#2ca02c" fill-opacity="0.20" stroke="none"/>
<path d="M241.99,387.42L249.98,381.18L259.96,377.44L269.95,376.94L279.93,378.69L289.92,383.68L299.91,389.92L309.89,397.41L322.37,406.15L334.85,413.64L347.34,421.12L359.82,427.36L372.30,432.36L384.78,436.10L399.51,437.85L399.51,439.10L384.78,437.60L369.80,435.60L354.82,432.36L339.85,427.86L322.12,421.87L300.40,414.88L288.67,411.14L276.94,408.89L265.46,407.89L253.72,407.64L241.99,417.38Z" fill="#1f77b4" fill-opacity="0.20" stroke="none"/>
<path d="M241.99,367.45L247.48,361.21L252.47,358.72L259.96,359.21L267.45,359.96L274.94,362.46L282.43,367.45L292.42,374.94L302.40,381.93L312.39,387.92L322.37,394.41L334.85,401.90L347.34,408.89L359.82,414.88L372.30,421.12L384.78,426.87L399.51,432.86L399.51,438.85L374.80,435.60L354.82,430.36L339.85,425.37L322.12,418.63L300.40,411.14L288.67,407.89L276.94,405.40L265.46,403.65L253.72,403.15L241.99,414.38Z" fill="#e67d14" fill-opacity="0.20" stroke="none"/>
<path d="M241.99,401.90C243.32,401.65 247.40,400.90 249.98,400.40C252.56,399.91 254.97,399.20 257.47,398.91C259.96,398.62 262.04,398.49 264.96,398.66C267.87,398.82 271.61,399.20 274.94,399.91C278.27,400.61 281.60,401.65 284.93,402.90C288.26,404.15 291.58,405.94 294.91,407.39C298.24,408.85 301.57,410.18 304.90,411.64C308.23,413.09 311.55,414.76 314.88,416.13C318.21,417.50 321.54,418.63 324.87,419.88C328.20,421.12 331.53,422.37 334.85,423.62C338.18,424.87 341.51,426.24 344.84,427.36C348.17,428.49 351.50,429.40 354.82,430.36C358.15,431.32 361.48,432.27 364.81,433.11C368.14,433.94 371.47,434.69 374.80,435.35C378.12,436.02 380.66,436.56 384.78,437.10C388.90,437.64 397.05,438.35 399.51,438.60" fill="none" stroke="#2ca02c" stroke-width="1.5" stroke-linejoin="round"/>
<path d="M241.99,396.16C243.32,395.62 246.98,393.87 249.98,392.92C252.97,391.96 257.05,390.92 259.96,390.42C262.88,389.92 264.54,389.79 267.45,389.92C270.36,390.04 274.11,390.34 277.44,391.17C280.77,392.00 284.09,393.37 287.42,394.91C290.75,396.45 294.08,398.53 297.41,400.40C300.74,402.28 304.07,404.36 307.39,406.15C310.72,407.94 314.05,409.47 317.38,411.14C320.71,412.80 324.04,414.47 327.36,416.13C330.69,417.80 334.02,419.58 337.35,421.12C340.68,422.66 344.01,423.99 347.34,425.37C350.66,426.74 353.99,428.20 357.32,429.36C360.65,430.53 363.98,431.44 367.31,432.36C370.64,433.27 373.96,434.11 377.29,434.85C380.62,435.60 383.57,436.31 387.28,436.85C390.98,437.39 397.47,437.89 399.51,438.10" fill="none" stroke="#1f77b4" stroke-width="1.5" stroke-linejoin="round"/>
<path d="M241.99,390.42C243.32,389.50 246.98,386.47 249.98,384.93C252.97,383.39 256.64,382.10 259.96,381.18C263.29,380.27 266.62,379.64 269.95,379.44C273.28,379.23 276.61,379.23 279.93,379.93C283.26,380.64 286.59,382.22 289.92,383.68C293.25,385.14 296.58,386.80 299.91,388.67C303.23,390.54 306.56,392.83 309.89,394.91C313.22,396.99 316.55,399.07 319.88,401.15C323.20,403.23 326.53,405.44 329.86,407.39C333.19,409.35 336.52,411.01 339.85,412.89C343.18,414.76 346.50,416.84 349.83,418.63C353.16,420.42 356.49,422.08 359.82,423.62C363.15,425.16 366.47,426.62 369.80,427.86C373.13,429.11 376.46,430.07 379.79,431.11C383.12,432.15 386.49,433.27 389.77,434.11C393.06,434.94 397.89,435.77 399.51,436.10" fill="none" stroke="#ff7f0e" stroke-width="1.5" stroke-linejoin="round"/>
</g>
<g clip-path="url(#c7x)">
<g fill="#2ca02c" fill-opacity="0.75" stroke="#444" stroke-width="0.70" stroke-opacity="0.70"><circle cx="242.10" cy="393.62" r="1.50"/><circle cx="247.35" cy="391.56" r="1.50"/><circle cx="252.60" cy="388.88" r="1.50"/><circle cx="257.85" cy="386.14" r="1.50"/><circle cx="263.10" cy="384.02" r="1.50"/><circle cx="268.35" cy="381.88" r="1.50"/><circle cx="273.60" cy="380.40" r="1.50"/><circle cx="278.85" cy="379.50" r="1.50"/><circle cx="284.10" cy="379.53" r="1.50"/><circle cx="289.35" cy="379.54" r="1.50"/><circle cx="294.60" cy="379.76" r="1.50"/><circle cx="299.85" cy="380.36" r="1.50"/><circle cx="305.10" cy="380.95" r="1.50"/><circle cx="310.35" cy="382.68" r="1.50"/><circle cx="315.60" cy="384.54" r="1.50"/><circle cx="320.85" cy="386.65" r="1.50"/><circle cx="326.10" cy="388.05" r="1.50"/><circle cx="331.35" cy="388.89" r="1.50"/><circle cx="336.60" cy="390.37" r="1.50"/><circle cx="341.85" cy="391.81" r="1.50"/><circle cx="347.10" cy="393.84" r="1.50"/><circle cx="352.35" cy="395.81" r="1.50"/><circle cx="357.60" cy="397.25" r="1.50"/><circle cx="362.85" cy="399.27" r="1.50"/><circle cx="368.10" cy="400.63" r="1.50"/><circle cx="373.35" cy="402.00" r="1.50"/><circle cx="378.60" cy="403.13" r="1.50"/><circle cx="383.85" cy="404.10" r="1.50"/><circle cx="389.10" cy="404.98" r="1.50"/><circle cx="394.35" cy="404.96" r="1.50"/><circle cx="399.60" cy="405.40" r="1.50"/></g>
<g fill="#1f77b4" fill-opacity="0.75" stroke="#444" stroke-width="0.70" stroke-opacity="0.70"><circle cx="242.10" cy="391.87" r="1.50"/><circle cx="247.35" cy="389.46" r="1.50"/><circle cx="252.60" cy="386.43" r="1.50"/><circle cx="257.85" cy="383.33" r="1.50"/><circle cx="263.10" cy="380.87" r="1.50"/><circle cx="268.35" cy="378.38" r="1.50"/><circle cx="273.60" cy="376.56" r="1.50"/><circle cx="278.85" cy="375.33" r="1.50"/><circle cx="284.10" cy="375.04" r="1.50"/><circle cx="289.35" cy="374.98" r="1.50"/><circle cx="294.60" cy="375.14" r="1.50"/><circle cx="299.85" cy="375.68" r="1.50"/><circle cx="305.10" cy="376.19" r="1.50"/><circle cx="310.35" cy="377.59" r="1.50"/><circle cx="315.60" cy="379.12" r="1.50"/><circle cx="320.85" cy="380.94" r="1.50"/><circle cx="326.10" cy="383.05" r="1.50"/><circle cx="331.35" cy="384.60" r="1.50"/><circle cx="336.60" cy="386.76" r="1.50"/><circle cx="341.85" cy="388.23" r="1.50"/><circle cx="347.10" cy="390.28" r="1.50"/><circle cx="352.35" cy="392.29" r="1.50"/><circle cx="357.60" cy="393.76" r="1.50"/><circle cx="362.85" cy="395.91" r="1.50"/><circle cx="368.10" cy="397.39" r="1.50"/><circle cx="373.35" cy="398.89" r="1.50"/><circle cx="378.60" cy="400.14" r="1.50"/><circle cx="383.85" cy="401.24" r="1.50"/><circle cx="389.10" cy="402.24" r="1.50"/><circle cx="394.35" cy="402.34" r="1.50"/><circle cx="399.60" cy="402.90" r="1.50"/></g>
<g fill="#ff7f0e" fill-opacity="0.75" stroke="#444" stroke-width="0.70" stroke-opacity="0.70"><circle cx="242.10" cy="383.63" r="1.50"/><circle cx="247.35" cy="381.37" r="1.50"/><circle cx="252.60" cy="378.49" r="1.50"/><circle cx="257.85" cy="375.55" r="1.50"/><circle cx="263.10" cy="373.23" r="1.50"/><circle cx="268.35" cy="370.89" r="1.50"/><circle cx="273.60" cy="369.16" r="1.50"/><circle cx="278.85" cy="368.01" r="1.50"/><circle cx="284.10" cy="367.80" r="1.50"/><circle cx="289.35" cy="367.80" r="1.50"/><circle cx="294.60" cy="368.03" r="1.50"/><circle cx="299.85" cy="368.63" r="1.50"/><circle cx="305.10" cy="369.21" r="1.50"/><circle cx="310.35" cy="370.60" r="1.50"/><circle cx="315.60" cy="372.13" r="1.50"/><circle cx="320.85" cy="373.96" r="1.50"/><circle cx="326.10" cy="376.28" r="1.50"/><circle cx="331.35" cy="378.03" r="1.50"/><circle cx="336.60" cy="380.40" r="1.50"/><circle cx="341.85" cy="382.16" r="1.50"/><circle cx="347.10" cy="384.49" r="1.50"/><circle cx="352.35" cy="386.78" r="1.50"/><circle cx="357.60" cy="388.53" r="1.50"/><circle cx="362.85" cy="390.93" r="1.50"/><circle cx="368.10" cy="392.66" r="1.50"/><circle cx="373.35" cy="394.41" r="1.50"/><circle cx="378.60" cy="395.93" r="1.50"/><circle cx="383.85" cy="397.52" r="1.50"/><circle cx="389.10" cy="399.02" r="1.50"/><circle cx="394.35" cy="399.61" r="1.50"/><circle cx="399.60" cy="400.65" r="1.50"/></g>
<path d="M242.10,391.13V396.12M247.35,389.07V394.06M252.60,386.38V391.38M257.85,383.64V388.64M263.10,381.52V386.52M268.35,379.38V384.38M273.60,377.90V382.89M278.85,377.00V381.99M284.10,377.04V382.03M289.35,377.04V382.03M294.60,377.27V382.26M299.85,377.86V382.86M305.10,378.45V383.45M310.35,380.18V385.18M315.60,382.04V387.04M320.85,384.15V389.15M326.10,385.56V390.55M331.35,386.40V391.39M336.60,387.88V392.87M341.85,389.32V394.31M347.10,391.34V396.34M352.35,393.31V398.31M357.60,394.76V399.75M362.85,396.78V401.77M368.10,398.14V403.13M373.35,399.50V404.50M378.60,400.63V405.63M383.85,401.61V406.60M389.10,402.49V407.48M394.35,402.86V407.46M399.60,403.90V407.89" stroke="#2ca02c" stroke-width="0.90" stroke-opacity="0.85" fill="none"/>
<path d="M240.80,391.13h2.6M240.80,396.12h2.6M246.05,389.07h2.6M246.05,394.06h2.6M251.30,386.38h2.6M251.30,391.38h2.6M256.55,383.64h2.6M256.55,388.64h2.6M261.80,381.52h2.6M261.80,386.52h2.6M267.05,379.38h2.6M267.05,384.38h2.6M272.30,377.90h2.6M272.30,382.89h2.6M277.55,377.00h2.6M277.55,381.99h2.6M282.80,377.04h2.6M282.80,382.03h2.6M288.05,377.04h2.6M288.05,382.03h2.6M293.30,377.27h2.6M293.30,382.26h2.6M298.55,377.86h2.6M298.55,382.86h2.6M303.80,378.45h2.6M303.80,383.45h2.6M309.05,380.18h2.6M309.05,385.18h2.6M314.30,382.04h2.6M314.30,387.04h2.6M319.55,384.15h2.6M319.55,389.15h2.6M324.80,385.56h2.6M324.80,390.55h2.6M330.05,386.40h2.6M330.05,391.39h2.6M335.30,387.88h2.6M335.30,392.87h2.6M340.55,389.32h2.6M340.55,394.31h2.6M345.80,391.34h2.6M345.80,396.34h2.6M351.05,393.31h2.6M351.05,398.31h2.6M356.30,394.76h2.6M356.30,399.75h2.6M361.55,396.78h2.6M361.55,401.77h2.6M366.80,398.14h2.6M366.80,403.13h2.6M372.05,399.50h2.6M372.05,404.50h2.6M377.30,400.63h2.6M377.30,405.63h2.6M382.55,401.61h2.6M382.55,406.60h2.6M387.80,402.49h2.6M387.80,407.48h2.6M393.05,402.46h2.6M393.05,407.46h2.6M398.30,402.90h2.6M398.30,407.89h2.6" stroke="#2ca02c" stroke-width="0.9" stroke-opacity="0.85" fill="none"/>
<path d="M242.10,389.37V394.36M247.35,386.96V391.96M252.60,383.93V388.92M257.85,380.84V385.83M263.10,378.37V383.36M268.35,375.88V380.87M273.60,374.06V379.06M278.85,372.83V377.82M284.10,372.54V377.53M289.35,372.48V377.47M294.60,372.65V377.64M299.85,373.18V378.17M305.10,373.70V378.69M310.35,375.09V380.09M315.60,376.62V381.61M320.85,378.44V383.44M326.10,380.55V385.55M331.35,382.10V387.09M336.60,384.26V389.25M341.85,385.73V390.72M347.10,387.79V392.78M352.35,390.02V394.78M357.60,391.78V396.26M362.85,394.17V398.41M368.10,395.91V399.89M373.35,397.65V401.38M378.60,399.17V402.64M383.85,400.76V403.73M389.10,402.26V404.74M394.35,402.86V404.84M399.60,403.90V405.40" stroke="#1f77b4" stroke-width="0.90" stroke-opacity="0.85" fill="none"/>
<path d="M240.80,389.37h2.6M240.80,394.36h2.6M246.05,386.96h2.6M246.05,391.96h2.6M251.30,383.93h2.6M251.30,388.92h2.6M256.55,380.84h2.6M256.55,385.83h2.6M261.80,378.37h2.6M261.80,383.36h2.6M267.05,375.88h2.6M267.05,380.87h2.6M272.30,374.06h2.6M272.30,379.06h2.6M277.55,372.83h2.6M277.55,377.82h2.6M282.80,372.54h2.6M282.80,377.53h2.6M288.05,372.48h2.6M288.05,377.47h2.6M293.30,372.65h2.6M293.30,377.64h2.6M298.55,373.18h2.6M298.55,378.17h2.6M303.80,373.70h2.6M303.80,378.69h2.6M309.05,375.09h2.6M309.05,380.09h2.6M314.30,376.62h2.6M314.30,381.61h2.6M319.55,378.44h2.6M319.55,383.44h2.6M324.80,380.55h2.6M324.80,385.55h2.6M330.05,382.10h2.6M330.05,387.09h2.6M335.30,384.26h2.6M335.30,389.25h2.6M340.55,385.73h2.6M340.55,390.72h2.6M345.80,387.79h2.6M345.80,392.78h2.6M351.05,389.79h2.6M351.05,394.78h2.6M356.30,391.27h2.6M356.30,396.26h2.6M361.55,393.41h2.6M361.55,398.41h2.6M366.80,394.90h2.6M366.80,399.89h2.6M372.05,396.39h2.6M372.05,401.38h2.6M377.30,397.65h2.6M377.30,402.64h2.6M382.55,398.74h2.6M382.55,403.73h2.6M387.80,399.75h2.6M387.80,404.74h2.6M393.05,399.85h2.6M393.05,404.84h2.6M398.30,400.40h2.6M398.30,405.40h2.6" stroke="#1f77b4" stroke-width="0.9" stroke-opacity="0.85" fill="none"/>
<path d="M242.10,380.39V386.88M247.35,378.13V384.62M252.60,375.25V381.74M257.85,372.30V378.79M263.10,369.99V376.48M268.35,367.64V374.13M273.60,365.91V372.40M278.85,364.76V371.25M284.10,364.56V371.05M289.35,364.56V371.05M294.60,364.78V371.27M299.85,365.38V371.87M305.10,365.96V372.45M310.35,367.36V373.85M315.60,368.88V375.37M320.85,370.71V377.20M326.10,373.03V379.52M331.35,374.79V381.28M336.60,377.16V383.65M341.85,378.91V385.40M347.10,381.25V387.74M352.35,383.53V390.02M357.60,385.29V391.78M362.85,387.68V394.17M368.10,389.42V395.91M373.35,391.16V397.65M378.60,392.68V399.17M383.85,394.27V400.76M389.10,395.77V402.26M394.35,396.36V402.86M399.60,397.41V403.90" stroke="#ff7f0e" stroke-width="1.00" stroke-opacity="0.85" fill="none"/>
<path d="M240.80,380.39h2.6M240.80,386.88h2.6M246.05,378.13h2.6M246.05,384.62h2.6M251.30,375.25h2.6M251.30,381.74h2.6M256.55,372.30h2.6M256.55,378.79h2.6M261.80,369.99h2.6M261.80,376.48h2.6M267.05,367.64h2.6M267.05,374.13h2.6M272.30,365.91h2.6M272.30,372.40h2.6M277.55,364.76h2.6M277.55,371.25h2.6M282.80,364.56h2.6M282.80,371.05h2.6M288.05,364.56h2.6M288.05,371.05h2.6M293.30,364.78h2.6M293.30,371.27h2.6M298.55,365.38h2.6M298.55,371.87h2.6M303.80,365.96h2.6M303.80,372.45h2.6M309.05,367.36h2.6M309.05,373.85h2.6M314.30,368.88h2.6M314.30,375.37h2.6M319.55,370.71h2.6M319.55,377.20h2.6M324.80,373.03h2.6M324.80,379.52h2.6M330.05,374.79h2.6M330.05,381.28h2.6M335.30,377.16h2.6M335.30,383.65h2.6M340.55,378.91h2.6M340.55,385.40h2.6M345.80,381.25h2.6M345.80,387.74h2.6M351.05,383.53h2.6M351.05,390.02h2.6M356.30,385.29h2.6M356.30,391.78h2.6M361.55,387.68h2.6M361.55,394.17h2.6M366.80,389.42h2.6M366.80,395.91h2.6M372.05,391.16h2.6M372.05,397.65h2.6M377.30,392.68h2.6M377.30,399.17h2.6M382.55,394.27h2.6M382.55,400.76h2.6M387.80,395.77h2.6M387.80,402.26h2.6M393.05,396.36h2.6M393.05,402.86h2.6M398.30,397.41h2.6M398.30,403.90h2.6" stroke="#ff7f0e" stroke-width="0.9" stroke-opacity="0.85" fill="none"/>
</g>
<clipPath id="c7x"><rect x="241.10" y="338.50" width="159.50" height="103.00"/></clipPath>
<path d="M242.10,340.50H399.60M242.10,340.50V439.50M242.10,439.50H399.60" stroke="#000" stroke-width="1.30" fill="none" stroke-linecap="square"/>
<path d="M399.60,340.50V439.50" stroke="#2a209a" stroke-width="1.70" fill="none" stroke-linecap="square"/>
<text x="242.10" y="450.70" font-size="8.20" fill="#222" text-anchor="middle" stroke="#222" stroke-width="0.16" textLength="9.67" lengthAdjust="spacingAndGlyphs">30</text>
<text x="294.60" y="450.70" font-size="8.20" fill="#222" text-anchor="middle" stroke="#222" stroke-width="0.16" textLength="9.67" lengthAdjust="spacingAndGlyphs">40</text>
<text x="347.10" y="450.70" font-size="8.20" fill="#222" text-anchor="middle" stroke="#222" stroke-width="0.16" textLength="9.67" lengthAdjust="spacingAndGlyphs">50</text>
<text x="399.60" y="450.70" font-size="8.20" fill="#222" text-anchor="middle" stroke="#222" stroke-width="0.16" textLength="9.67" lengthAdjust="spacingAndGlyphs">60</text>
<text x="237.90" y="441.80" font-size="6.50" fill="#222" text-anchor="end" stroke="#222" stroke-width="0.15" textLength="10.34" lengthAdjust="spacingAndGlyphs">0.0</text>
<text x="237.90" y="417.05" font-size="6.50" fill="#222" text-anchor="end" stroke="#222" stroke-width="0.15" textLength="10.34" lengthAdjust="spacingAndGlyphs">0.5</text>
<text x="237.90" y="392.30" font-size="6.50" fill="#222" text-anchor="end" stroke="#222" stroke-width="0.15" textLength="10.34" lengthAdjust="spacingAndGlyphs">1.0</text>
<text x="237.90" y="367.55" font-size="6.50" fill="#222" text-anchor="end" stroke="#222" stroke-width="0.15" textLength="10.34" lengthAdjust="spacingAndGlyphs">1.5</text>
<text x="237.90" y="342.80" font-size="6.50" fill="#222" text-anchor="end" stroke="#222" stroke-width="0.15" textLength="10.34" lengthAdjust="spacingAndGlyphs">2.0</text>
<path d="M242.10,439.50v2.4M294.60,439.50v2.4M347.10,439.50v2.4M399.60,439.50v2.4M242.10,439.50h-2.4M242.10,414.75h-2.4M242.10,390.00h-2.4M242.10,365.25h-2.4M242.10,340.50h-2.4" stroke="#000" stroke-width="0.7" fill="none"/>
<text x="403.80" y="441.80" font-size="6.50" fill="#4848f0" text-anchor="start" stroke="#4848f0" stroke-width="0.15" textLength="10.34" lengthAdjust="spacingAndGlyphs">0.0</text>
<text x="403.80" y="422.00" font-size="6.50" fill="#4848f0" text-anchor="start" stroke="#4848f0" stroke-width="0.15" textLength="10.34" lengthAdjust="spacingAndGlyphs">0.1</text>
<text x="403.80" y="402.20" font-size="6.50" fill="#4848f0" text-anchor="start" stroke="#4848f0" stroke-width="0.15" textLength="10.34" lengthAdjust="spacingAndGlyphs">0.2</text>
<text x="403.80" y="382.40" font-size="6.50" fill="#4848f0" text-anchor="start" stroke="#4848f0" stroke-width="0.15" textLength="10.34" lengthAdjust="spacingAndGlyphs">0.3</text>
<text x="403.80" y="362.60" font-size="6.50" fill="#4848f0" text-anchor="start" stroke="#4848f0" stroke-width="0.15" textLength="10.34" lengthAdjust="spacingAndGlyphs">0.4</text>
<text x="403.80" y="342.80" font-size="6.50" fill="#4848f0" text-anchor="start" stroke="#4848f0" stroke-width="0.15" textLength="10.34" lengthAdjust="spacingAndGlyphs">0.5</text>
<path d="M399.60,439.50h2.4M399.60,419.70h2.4M399.60,399.90h2.4M399.60,380.10h2.4M399.60,360.30h2.4M399.60,340.50h2.4" stroke="#4848f0" stroke-width="0.7" fill="none"/>
<text x="320.85" y="336.10" font-size="9.40" fill="#111" text-anchor="middle" stroke="#111" stroke-width="0.25" textLength="26.00" lengthAdjust="spacingAndGlyphs">NP DJF</text>
<text x="224.06" y="390.00" font-size="6.60" fill="#222" text-anchor="middle" stroke="#222" stroke-width="0.15" transform="rotate(-90 224.06 390.00)" textLength="10.40" lengthAdjust="spacingAndGlyphs">PW</text>
<text x="422.53" y="390.00" font-size="7.00" fill="#4848f0" text-anchor="middle" stroke="#4848f0" stroke-width="0.15" transform="rotate(-90 422.53 390.00)" textLength="42.50" lengthAdjust="spacingAndGlyphs">dq_1000hpa</text>
<text x="247.50" y="436.30" font-size="9.40" fill="#000" text-anchor="start" stroke="#000" stroke-width="0.10" font-weight="bold" textLength="26.90" lengthAdjust="spacingAndGlyphs">Δ = 30</text>
<clipPath id="c8"><rect x="454.60" y="340.50" width="157.90" height="99.00"/></clipPath>
<g clip-path="url(#c8)">
<path d="M454.49,391.17L466.97,390.42L481.95,391.92L496.93,394.91L511.91,399.41L526.88,405.40L541.86,411.89L556.84,418.63L571.82,424.87L586.80,429.86L601.77,434.11L612.51,436.10L612.51,438.60L591.79,437.35L571.82,435.35L551.85,432.86L534.12,429.36L512.40,424.87L488.94,420.62L471.96,418.63L454.49,417.13Z" fill="#2ca02c" fill-opacity="0.20" stroke="none"/>
<path d="M454.49,381.18L464.47,379.93L474.46,381.18L484.45,383.68L496.93,388.67L509.41,396.16L521.89,403.65L534.37,411.14L546.85,417.38L559.34,422.37L571.82,427.36L584.30,431.11L596.78,434.35L612.51,436.85L612.51,438.10L591.79,436.35L571.82,433.86L551.85,430.36L534.12,426.37L512.40,421.12L488.94,415.88L471.96,414.38L454.49,413.64Z" fill="#1f77b4" fill-opacity="0.20" stroke="none"/>
<path d="M454.49,356.22L461.98,353.72L469.47,352.97L476.96,353.72L486.94,356.22L496.93,361.21L506.91,367.45L516.90,374.94L526.88,382.43L532.00,384.43L543.61,391.42L555.34,398.41L567.07,404.90L578.81,412.39L590.29,420.62L602.02,426.37L612.51,431.11L612.51,436.10L591.79,432.86L571.82,427.86L551.85,421.12L534.12,413.64L512.40,405.40L488.94,397.16L465.72,394.91L454.49,390.42Z" fill="#e67d14" fill-opacity="0.20" stroke="none"/>
<path d="M454.49,403.65C456.15,403.44 461.15,402.53 464.47,402.40C467.80,402.28 471.13,402.57 474.46,402.90C477.79,403.23 481.12,403.82 484.45,404.40C487.77,404.98 491.10,405.65 494.43,406.40C497.76,407.14 501.09,407.98 504.42,408.89C507.74,409.81 511.07,410.81 514.40,411.89C517.73,412.97 521.06,414.13 524.39,415.38C527.72,416.63 531.04,418.13 534.37,419.38C537.70,420.62 541.03,421.71 544.36,422.87C547.69,424.04 551.01,425.28 554.34,426.37C557.67,427.45 561.00,428.41 564.33,429.36C567.66,430.32 570.99,431.28 574.31,432.11C577.64,432.94 580.97,433.73 584.30,434.35C587.63,434.98 590.96,435.39 594.28,435.85C597.61,436.31 601.23,436.77 604.27,437.10C607.31,437.43 611.14,437.72 612.51,437.85" fill="none" stroke="#2ca02c" stroke-width="1.5" stroke-linejoin="round"/>
<path d="M454.49,394.16C455.74,393.96 459.48,393.16 461.98,392.92C464.47,392.67 466.55,392.54 469.47,392.67C472.38,392.79 476.12,393.16 479.45,393.66C482.78,394.16 486.11,394.83 489.44,395.66C492.77,396.49 496.09,397.53 499.42,398.66C502.75,399.78 506.08,401.03 509.41,402.40C512.74,403.77 515.65,405.02 519.39,406.89C523.14,408.77 528.13,411.76 531.88,413.64C535.62,415.51 538.12,416.59 541.86,418.13C545.61,419.67 550.14,421.50 554.34,422.87C558.55,424.24 562.91,425.08 567.07,426.37C571.24,427.66 575.60,429.49 579.31,430.61C583.01,431.73 585.96,432.40 589.29,433.11C592.62,433.81 595.41,434.35 599.28,434.85C603.15,435.35 610.30,435.89 612.51,436.10" fill="none" stroke="#1f77b4" stroke-width="1.5" stroke-linejoin="round"/>
<path d="M454.49,377.94C455.74,377.56 459.48,376.27 461.98,375.69C464.47,375.11 466.97,374.57 469.47,374.44C471.96,374.32 474.04,374.53 476.96,374.94C479.87,375.36 483.61,375.98 486.94,376.94C490.27,377.90 493.60,379.23 496.93,380.68C500.26,382.14 503.58,383.93 506.91,385.68C510.24,387.42 513.57,389.21 516.90,391.17C520.23,393.12 524.39,395.83 526.88,397.41C529.38,398.99 529.09,398.95 531.88,400.65C534.66,402.36 539.70,405.48 543.61,407.64C547.52,409.81 551.43,411.47 555.34,413.64C559.25,415.80 563.16,418.67 567.07,420.62C570.99,422.58 574.94,423.99 578.81,425.37C582.68,426.74 586.42,427.70 590.29,428.86C594.16,430.03 598.32,431.36 602.02,432.36C605.73,433.36 610.76,434.44 612.51,434.85" fill="none" stroke="#ff7f0e" stroke-width="1.5" stroke-linejoin="round"/>
</g>
<g clip-path="url(#c8x)">
<g fill="#2ca02c" fill-opacity="0.75" stroke="#444" stroke-width="0.70" stroke-opacity="0.70"><circle cx="454.60" cy="379.93" r="1.50"/><circle cx="460.92" cy="379.43" r="1.50"/><circle cx="467.23" cy="378.93" r="1.50"/><circle cx="473.55" cy="378.44" r="1.50"/><circle cx="479.86" cy="379.24" r="1.50"/><circle cx="486.18" cy="382.41" r="1.50"/><circle cx="492.50" cy="385.71" r="1.50"/><circle cx="498.81" cy="390.27" r="1.50"/><circle cx="505.13" cy="394.62" r="1.50"/><circle cx="511.44" cy="399.18" r="1.50"/><circle cx="517.76" cy="403.73" r="1.50"/><circle cx="524.08" cy="408.38" r="1.50"/><circle cx="530.39" cy="411.96" r="1.50"/><circle cx="536.71" cy="414.26" r="1.50"/><circle cx="543.02" cy="415.74" r="1.50"/><circle cx="549.34" cy="416.54" r="1.50"/><circle cx="555.66" cy="416.83" r="1.50"/><circle cx="561.97" cy="416.61" r="1.50"/><circle cx="568.29" cy="416.40" r="1.50"/><circle cx="574.60" cy="415.68" r="1.50"/><circle cx="580.92" cy="415.21" r="1.50"/><circle cx="587.24" cy="414.26" r="1.50"/><circle cx="593.55" cy="413.53" r="1.50"/><circle cx="599.87" cy="412.06" r="1.50"/><circle cx="606.18" cy="411.11" r="1.50"/><circle cx="612.50" cy="410.39" r="1.50"/></g>
<g fill="#1f77b4" fill-opacity="0.75" stroke="#444" stroke-width="0.70" stroke-opacity="0.70"><circle cx="454.60" cy="374.19" r="1.50"/><circle cx="460.92" cy="374.01" r="1.50"/><circle cx="467.23" cy="373.84" r="1.50"/><circle cx="473.55" cy="373.67" r="1.50"/><circle cx="479.86" cy="374.80" r="1.50"/><circle cx="486.18" cy="378.30" r="1.50"/><circle cx="492.50" cy="381.92" r="1.50"/><circle cx="498.81" cy="386.80" r="1.50"/><circle cx="505.13" cy="391.49" r="1.50"/><circle cx="511.44" cy="396.36" r="1.50"/><circle cx="517.76" cy="401.24" r="1.50"/><circle cx="524.08" cy="405.92" r="1.50"/><circle cx="530.39" cy="409.53" r="1.50"/><circle cx="536.71" cy="411.86" r="1.50"/><circle cx="543.02" cy="413.38" r="1.50"/><circle cx="549.34" cy="414.21" r="1.50"/><circle cx="555.66" cy="414.53" r="1.50"/><circle cx="561.97" cy="414.35" r="1.50"/><circle cx="568.29" cy="414.17" r="1.50"/><circle cx="574.60" cy="413.48" r="1.50"/><circle cx="580.92" cy="413.04" r="1.50"/><circle cx="587.24" cy="412.13" r="1.50"/><circle cx="593.55" cy="411.44" r="1.50"/><circle cx="599.87" cy="409.99" r="1.50"/><circle cx="606.18" cy="409.08" r="1.50"/><circle cx="612.50" cy="408.39" r="1.50"/></g>
<g fill="#ff7f0e" fill-opacity="0.75" stroke="#444" stroke-width="0.70" stroke-opacity="0.70"><circle cx="454.60" cy="366.20" r="1.50"/><circle cx="460.92" cy="366.20" r="1.50"/><circle cx="467.23" cy="366.20" r="1.50"/><circle cx="473.55" cy="366.21" r="1.50"/><circle cx="479.86" cy="367.52" r="1.50"/><circle cx="486.18" cy="371.19" r="1.50"/><circle cx="492.50" cy="374.99" r="1.50"/><circle cx="498.81" cy="380.04" r="1.50"/><circle cx="505.13" cy="384.90" r="1.50"/><circle cx="511.44" cy="389.95" r="1.50"/><circle cx="517.76" cy="395.00" r="1.50"/><circle cx="524.08" cy="399.86" r="1.50"/><circle cx="530.39" cy="403.66" r="1.50"/><circle cx="536.71" cy="406.18" r="1.50"/><circle cx="543.02" cy="407.87" r="1.50"/><circle cx="549.34" cy="408.89" r="1.50"/><circle cx="555.66" cy="409.39" r="1.50"/><circle cx="561.97" cy="409.39" r="1.50"/><circle cx="568.29" cy="409.39" r="1.50"/><circle cx="574.60" cy="408.89" r="1.50"/><circle cx="580.92" cy="408.63" r="1.50"/><circle cx="587.24" cy="407.90" r="1.50"/><circle cx="593.55" cy="407.39" r="1.50"/><circle cx="599.87" cy="406.13" r="1.50"/><circle cx="606.18" cy="405.41" r="1.50"/><circle cx="612.50" cy="404.90" r="1.50"/></g>
<path d="M454.60,376.19V386.17M460.92,376.19V385.67M467.23,376.19V385.17M473.55,376.20V384.68M479.86,377.50V385.48M486.18,381.18V388.66M492.50,384.97V391.95M498.81,390.03V396.51M505.13,394.88V400.87M511.44,399.94V405.42M517.76,404.99V409.98M524.08,409.85V414.62M530.39,413.64V418.20M536.71,416.16V420.50M543.02,417.86V421.98M549.34,418.88V422.78M555.66,419.38V423.07M561.97,419.38V422.85M568.29,419.38V422.64M574.60,418.87V421.92M580.92,418.62V421.45M587.24,417.88V420.50M593.55,417.38V419.77M599.87,416.12V418.30M606.18,415.39V417.35M612.50,414.88V416.63" stroke="#2ca02c" stroke-width="0.90" stroke-opacity="0.85" fill="none"/>
<path d="M453.30,373.68h2.6M453.30,386.17h2.6M459.62,373.19h2.6M459.62,385.67h2.6M465.93,372.69h2.6M465.93,385.17h2.6M472.25,372.20h2.6M472.25,384.68h2.6M478.56,373.00h2.6M478.56,385.48h2.6M484.88,376.17h2.6M484.88,388.66h2.6M491.20,379.47h2.6M491.20,391.95h2.6M497.51,384.03h2.6M497.51,396.51h2.6M503.83,388.38h2.6M503.83,400.87h2.6M510.14,392.94h2.6M510.14,405.42h2.6M516.46,397.49h2.6M516.46,409.98h2.6M522.78,402.14h2.6M522.78,414.62h2.6M529.09,405.72h2.6M529.09,418.20h2.6M535.41,408.02h2.6M535.41,420.50h2.6M541.72,409.50h2.6M541.72,421.98h2.6M548.04,410.30h2.6M548.04,422.78h2.6M554.36,410.59h2.6M554.36,423.07h2.6M560.67,410.37h2.6M560.67,422.85h2.6M566.99,410.16h2.6M566.99,422.64h2.6M573.30,409.44h2.6M573.30,421.92h2.6M579.62,408.96h2.6M579.62,421.45h2.6M585.94,408.01h2.6M585.94,420.50h2.6M592.25,407.29h2.6M592.25,419.77h2.6M598.57,405.82h2.6M598.57,418.30h2.6M604.88,404.87h2.6M604.88,417.35h2.6M611.20,404.15h2.6M611.20,416.63h2.6" stroke="#2ca02c" stroke-width="0.9" stroke-opacity="0.85" fill="none"/>
<path d="M454.60,376.19V381.68M460.92,376.19V381.50M467.23,376.19V381.33M473.55,376.20V381.16M479.86,377.50V382.29M486.18,381.18V385.79M492.50,384.97V389.41M498.81,390.03V394.29M505.13,394.88V398.97M511.44,399.94V403.85M517.76,404.99V408.73M524.08,409.85V413.41M530.39,413.64V417.02M536.71,416.16V419.35M543.02,417.86V420.87M549.34,418.88V421.70M555.66,419.38V422.02M561.97,419.38V421.84M568.29,419.38V421.66M574.60,418.87V420.97M580.92,418.62V420.53M587.24,417.88V419.61M593.55,417.38V418.92M599.87,416.12V417.48M606.18,415.39V416.57M612.50,414.88V415.88" stroke="#1f77b4" stroke-width="0.90" stroke-opacity="0.85" fill="none"/>
<path d="M453.30,366.70h2.6M453.30,381.68h2.6M459.62,366.53h2.6M459.62,381.50h2.6M465.93,366.35h2.6M465.93,381.33h2.6M472.25,366.18h2.6M472.25,381.16h2.6M478.56,367.31h2.6M478.56,382.29h2.6M484.88,370.81h2.6M484.88,385.79h2.6M491.20,374.43h2.6M491.20,389.41h2.6M497.51,379.31h2.6M497.51,394.29h2.6M503.83,384.00h2.6M503.83,398.97h2.6M510.14,388.87h2.6M510.14,403.85h2.6M516.46,393.75h2.6M516.46,408.73h2.6M522.78,398.43h2.6M522.78,413.41h2.6M529.09,402.04h2.6M529.09,417.02h2.6M535.41,404.38h2.6M535.41,419.35h2.6M541.72,405.89h2.6M541.72,420.87h2.6M548.04,406.73h2.6M548.04,421.70h2.6M554.36,407.05h2.6M554.36,422.02h2.6M560.67,406.86h2.6M560.67,421.84h2.6M566.99,406.68h2.6M566.99,421.66h2.6M573.30,405.99h2.6M573.30,420.97h2.6M579.62,405.55h2.6M579.62,420.53h2.6M585.94,404.64h2.6M585.94,419.61h2.6M592.25,403.95h2.6M592.25,418.92h2.6M598.57,402.50h2.6M598.57,417.48h2.6M604.88,401.59h2.6M604.88,416.57h2.6M611.20,400.90h2.6M611.20,415.88h2.6" stroke="#1f77b4" stroke-width="0.9" stroke-opacity="0.85" fill="none"/>
<path d="M454.60,356.22V376.19M460.92,356.22V376.19M467.23,356.22V376.19M473.55,356.23V376.20M479.86,357.53V377.50M486.18,361.20V381.18M492.50,365.00V384.97M498.81,370.06V390.03M505.13,374.91V394.88M511.44,379.96V399.94M517.76,385.02V404.99M524.08,389.88V409.85M530.39,393.67V413.64M536.71,396.19V416.16M543.02,397.89V417.86M549.34,398.91V418.88M555.66,399.41V419.38M561.97,399.41V419.38M568.29,399.41V419.38M574.60,398.90V418.87M580.92,398.65V418.62M587.24,397.91V417.88M593.55,397.41V417.38M599.87,396.15V416.12M606.18,395.42V415.39M612.50,394.91V414.88" stroke="#ff7f0e" stroke-width="1.00" stroke-opacity="0.85" fill="none"/>
<path d="M453.30,356.22h2.6M453.30,376.19h2.6M459.62,356.22h2.6M459.62,376.19h2.6M465.93,356.22h2.6M465.93,376.19h2.6M472.25,356.23h2.6M472.25,376.20h2.6M478.56,357.53h2.6M478.56,377.50h2.6M484.88,361.20h2.6M484.88,381.18h2.6M491.20,365.00h2.6M491.20,384.97h2.6M497.51,370.06h2.6M497.51,390.03h2.6M503.83,374.91h2.6M503.83,394.88h2.6M510.14,379.96h2.6M510.14,399.94h2.6M516.46,385.02h2.6M516.46,404.99h2.6M522.78,389.88h2.6M522.78,409.85h2.6M529.09,393.67h2.6M529.09,413.64h2.6M535.41,396.19h2.6M535.41,416.16h2.6M541.72,397.89h2.6M541.72,417.86h2.6M548.04,398.91h2.6M548.04,418.88h2.6M554.36,399.41h2.6M554.36,419.38h2.6M560.67,399.41h2.6M560.67,419.38h2.6M566.99,399.41h2.6M566.99,419.38h2.6M573.30,398.90h2.6M573.30,418.87h2.6M579.62,398.65h2.6M579.62,418.62h2.6M585.94,397.91h2.6M585.94,417.88h2.6M592.25,397.41h2.6M592.25,417.38h2.6M598.57,396.15h2.6M598.57,416.12h2.6M604.88,395.42h2.6M604.88,415.39h2.6M611.20,394.91h2.6M611.20,414.88h2.6" stroke="#ff7f0e" stroke-width="0.9" stroke-opacity="0.85" fill="none"/>
</g>
<clipPath id="c8x"><rect x="453.60" y="338.50" width="159.90" height="103.00"/></clipPath>
<path d="M454.60,340.50H612.50M454.60,340.50V439.50M454.60,439.50H612.50" stroke="#000" stroke-width="1.30" fill="none" stroke-linecap="square"/>
<path d="M612.50,340.50V439.50" stroke="#2a209a" stroke-width="1.70" fill="none" stroke-linecap="square"/>
<text x="454.60" y="450.70" font-size="8.20" fill="#222" text-anchor="middle" stroke="#222" stroke-width="0.16" textLength="9.67" lengthAdjust="spacingAndGlyphs">40</text>
<text x="517.76" y="450.70" font-size="8.20" fill="#222" text-anchor="middle" stroke="#222" stroke-width="0.16" textLength="9.67" lengthAdjust="spacingAndGlyphs">50</text>
<text x="580.92" y="450.70" font-size="8.20" fill="#222" text-anchor="middle" stroke="#222" stroke-width="0.16" textLength="9.67" lengthAdjust="spacingAndGlyphs">60</text>
<text x="450.40" y="441.80" font-size="6.50" fill="#222" text-anchor="end" stroke="#222" stroke-width="0.15" textLength="10.34" lengthAdjust="spacingAndGlyphs">0.0</text>
<text x="450.40" y="422.00" font-size="6.50" fill="#222" text-anchor="end" stroke="#222" stroke-width="0.15" textLength="10.34" lengthAdjust="spacingAndGlyphs">0.2</text>
<text x="450.40" y="402.20" font-size="6.50" fill="#222" text-anchor="end" stroke="#222" stroke-width="0.15" textLength="10.34" lengthAdjust="spacingAndGlyphs">0.4</text>
<text x="450.40" y="382.40" font-size="6.50" fill="#222" text-anchor="end" stroke="#222" stroke-width="0.15" textLength="10.34" lengthAdjust="spacingAndGlyphs">0.6</text>
<text x="450.40" y="362.60" font-size="6.50" fill="#222" text-anchor="end" stroke="#222" stroke-width="0.15" textLength="10.34" lengthAdjust="spacingAndGlyphs">0.8</text>
<text x="450.40" y="342.80" font-size="6.50" fill="#222" text-anchor="end" stroke="#222" stroke-width="0.15" textLength="10.34" lengthAdjust="spacingAndGlyphs">1.0</text>
<path d="M454.60,439.50v2.4M517.76,439.50v2.4M580.92,439.50v2.4M454.60,439.50h-2.4M454.60,419.70h-2.4M454.60,399.90h-2.4M454.60,380.10h-2.4M454.60,360.30h-2.4M454.60,340.50h-2.4" stroke="#000" stroke-width="0.7" fill="none"/>
<text x="616.70" y="441.80" font-size="6.50" fill="#4848f0" text-anchor="start" stroke="#4848f0" stroke-width="0.15" textLength="10.34" lengthAdjust="spacingAndGlyphs">0.0</text>
<text x="616.70" y="417.05" font-size="6.50" fill="#4848f0" text-anchor="start" stroke="#4848f0" stroke-width="0.15" textLength="10.34" lengthAdjust="spacingAndGlyphs">0.1</text>
<text x="616.70" y="392.30" font-size="6.50" fill="#4848f0" text-anchor="start" stroke="#4848f0" stroke-width="0.15" textLength="10.34" lengthAdjust="spacingAndGlyphs">0.2</text>
<text x="616.70" y="367.55" font-size="6.50" fill="#4848f0" text-anchor="start" stroke="#4848f0" stroke-width="0.15" textLength="10.34" lengthAdjust="spacingAndGlyphs">0.3</text>
<text x="616.70" y="342.80" font-size="6.50" fill="#4848f0" text-anchor="start" stroke="#4848f0" stroke-width="0.15" textLength="10.34" lengthAdjust="spacingAndGlyphs">0.4</text>
<path d="M612.50,439.50h2.4M612.50,414.75h2.4M612.50,390.00h2.4M612.50,365.25h2.4M612.50,340.50h2.4" stroke="#4848f0" stroke-width="0.7" fill="none"/>
<text x="533.55" y="336.10" font-size="9.40" fill="#111" text-anchor="middle" stroke="#111" stroke-width="0.25" textLength="26.00" lengthAdjust="spacingAndGlyphs">NA DJF</text>
<text x="436.57" y="390.00" font-size="6.60" fill="#222" text-anchor="middle" stroke="#222" stroke-width="0.15" transform="rotate(-90 436.57 390.00)" textLength="10.40" lengthAdjust="spacingAndGlyphs">PW</text>
<text x="635.44" y="390.00" font-size="7.00" fill="#4848f0" text-anchor="middle" stroke="#4848f0" stroke-width="0.15" transform="rotate(-90 635.44 390.00)" textLength="42.50" lengthAdjust="spacingAndGlyphs">dq_1000hpa</text>
<text x="461.50" y="436.30" font-size="9.40" fill="#000" text-anchor="start" stroke="#000" stroke-width="0.10" font-weight="bold" textLength="26.90" lengthAdjust="spacingAndGlyphs">Δ = 40</text>
<clipPath id="c9"><rect x="29.70" y="474.50" width="157.30" height="99.50"/></clipPath>
<g clip-path="url(#c9)">
<path d="M29.74,537.65L41.97,535.15L49.46,531.41L59.45,536.40L71.93,531.41L81.91,532.66L91.90,536.40L101.88,543.89L111.87,548.88L124.35,553.88L136.83,558.87L151.81,563.86L166.79,567.61L186.76,570.85L186.76,573.35L171.78,572.60L151.81,570.85L136.83,568.35L121.85,565.86L109.37,563.36L96.89,561.86L87.40,563.86L75.67,565.11L63.94,566.11L52.46,566.36L40.72,567.11L28.99,567.61Z" fill="#2ca02c" fill-opacity="0.20" stroke="none"/>
<path d="M29.74,526.42L36.98,522.67L46.96,516.43L54.45,518.93L61.94,522.67L69.43,515.18L76.92,513.44L84.41,515.18L91.90,518.93L99.39,525.17L106.88,533.91L116.86,541.39L126.85,546.39L139.33,552.63L151.81,558.87L164.29,563.86L176.77,567.61L186.76,570.10L186.76,572.85L171.78,571.85L151.81,569.60L136.83,567.11L121.85,563.36L109.37,559.37L96.89,557.62L87.40,559.12L75.67,561.36L63.94,562.61L52.46,563.36L40.72,564.36L28.99,565.11Z" fill="#1f77b4" fill-opacity="0.20" stroke="none"/>
<path d="M29.74,501.45L34.48,498.96L40.72,496.46L46.96,491.47L50.71,492.72L54.45,496.46L59.45,500.20L64.44,498.96L68.18,491.47L73.18,487.22L78.17,487.72L84.41,491.47L91.90,497.71L99.39,506.45L106.88,517.68L111.87,522.67L119.36,526.42L126.85,528.91L134.34,531.41L141.82,533.91L149.31,538.90L156.80,545.14L164.29,551.38L171.78,557.62L179.27,562.61L186.76,566.36L186.76,572.60L171.78,571.35L146.82,567.61L121.85,561.36L109.37,556.37L96.89,550.13L87.40,549.63L75.67,556.37L63.94,559.37L52.46,560.12L40.72,561.36L28.99,562.61Z" fill="#e67d14" fill-opacity="0.20" stroke="none"/>
<path d="M29.74,553.13C31.36,552.84 36.60,551.92 39.47,551.38C42.35,550.84 44.47,549.96 46.96,549.88C49.46,549.80 51.96,550.51 54.45,550.88C56.95,551.25 59.45,552.34 61.94,552.13C64.44,551.92 66.93,550.38 69.43,549.63C71.93,548.88 74.42,548.09 76.92,547.64C79.42,547.18 81.91,546.97 84.41,546.89C86.91,546.80 89.40,546.59 91.90,547.14C94.39,547.68 96.89,548.80 99.39,550.13C101.88,551.46 104.38,553.67 106.88,555.12C109.37,556.58 111.45,557.91 114.36,558.87C117.28,559.83 121.02,560.12 124.35,560.87C127.68,561.61 130.59,562.45 134.34,563.36C138.08,564.28 142.66,565.44 146.82,566.36C150.98,567.27 155.14,568.11 159.30,568.85C163.46,569.60 167.20,570.23 171.78,570.85C176.36,571.48 184.26,572.31 186.76,572.60" fill="none" stroke="#2ca02c" stroke-width="1.5" stroke-linejoin="round"/>
<path d="M29.74,545.14C31.36,544.64 36.60,543.06 39.47,542.14C42.35,541.23 44.47,539.85 46.96,539.65C49.46,539.44 52.16,540.40 54.45,540.89C56.74,541.39 58.61,542.77 60.69,542.64C62.77,542.52 64.65,541.10 66.93,540.15C69.22,539.19 71.93,537.69 74.42,536.90C76.92,536.11 79.42,535.49 81.91,535.40C84.41,535.32 86.91,535.74 89.40,536.40C91.90,537.07 94.39,537.94 96.89,539.40C99.39,540.85 102.30,543.35 104.38,545.14C106.46,546.93 107.29,548.88 109.37,550.13C111.45,551.38 113.95,551.80 116.86,552.63C119.77,553.46 123.52,554.08 126.85,555.12C130.18,556.16 133.50,557.62 136.83,558.87C140.16,560.12 143.49,561.45 146.82,562.61C150.15,563.78 153.06,564.90 156.80,565.86C160.55,566.82 164.29,567.44 169.28,568.35C174.28,569.27 183.85,570.85 186.76,571.35" fill="none" stroke="#1f77b4" stroke-width="1.5" stroke-linejoin="round"/>
<path d="M29.74,529.66C30.95,529.04 34.52,527.21 36.98,525.92C39.43,524.63 42.18,522.80 44.47,521.92C46.76,521.05 48.63,520.55 50.71,520.67C52.79,520.80 55.08,522.05 56.95,522.67C58.82,523.30 60.28,524.63 61.94,524.42C63.61,524.21 65.06,522.46 66.93,521.42C68.81,520.38 71.09,518.89 73.18,518.18C75.26,517.47 77.34,517.18 79.42,517.18C81.50,517.18 83.58,517.47 85.66,518.18C87.74,518.89 89.61,519.84 91.90,521.42C94.19,523.00 97.31,525.58 99.39,527.66C101.47,529.74 102.72,531.95 104.38,533.91C106.04,535.86 107.71,538.07 109.37,539.40C111.04,540.73 112.28,540.94 114.36,541.89C116.45,542.85 119.36,543.97 121.85,545.14C124.35,546.30 126.85,547.51 129.34,548.88C131.84,550.26 134.34,551.92 136.83,553.38C139.33,554.83 141.82,556.29 144.32,557.62C146.82,558.95 148.90,560.20 151.81,561.36C154.72,562.53 158.47,563.65 161.80,564.61C165.12,565.57 167.62,566.19 171.78,567.11C175.94,568.02 184.26,569.60 186.76,570.10" fill="none" stroke="#ff7f0e" stroke-width="1.5" stroke-linejoin="round"/>
</g>
<g clip-path="url(#c9x)">
<g fill="#2ca02c" fill-opacity="0.75" stroke="#444" stroke-width="0.70" stroke-opacity="0.70"><circle cx="53.30" cy="574.83" r="1.50"/><circle cx="57.23" cy="574.34" r="1.50"/><circle cx="61.16" cy="573.60" r="1.50"/><circle cx="65.09" cy="572.87" r="1.50"/><circle cx="69.03" cy="571.56" r="1.50"/><circle cx="72.96" cy="569.84" r="1.50"/><circle cx="76.89" cy="568.37" r="1.50"/><circle cx="80.82" cy="566.52" r="1.50"/><circle cx="84.75" cy="564.05" r="1.50"/><circle cx="88.69" cy="561.59" r="1.50"/><circle cx="92.62" cy="558.19" r="1.50"/><circle cx="96.55" cy="555.22" r="1.50"/><circle cx="100.49" cy="550.77" r="1.50"/><circle cx="104.42" cy="546.60" r="1.50"/><circle cx="108.35" cy="543.20" r="1.50"/><circle cx="112.28" cy="539.74" r="1.50"/><circle cx="116.22" cy="535.82" r="1.50"/><circle cx="120.15" cy="533.39" r="1.50"/><circle cx="124.08" cy="532.34" r="1.50"/><circle cx="128.01" cy="531.11" r="1.50"/><circle cx="131.94" cy="529.88" r="1.50"/><circle cx="135.88" cy="528.57" r="1.50"/><circle cx="139.81" cy="527.33" r="1.50"/><circle cx="143.74" cy="525.86" r="1.50"/><circle cx="147.68" cy="524.83" r="1.50"/><circle cx="151.61" cy="524.19" r="1.50"/><circle cx="155.54" cy="525.57" r="1.50"/><circle cx="159.47" cy="529.32" r="1.50"/><circle cx="163.41" cy="532.67" r="1.50"/><circle cx="167.34" cy="535.09" r="1.50"/><circle cx="171.27" cy="537.52" r="1.50"/><circle cx="175.20" cy="539.23" r="1.50"/><circle cx="179.13" cy="541.08" r="1.50"/><circle cx="183.07" cy="543.01" r="1.50"/><circle cx="187.00" cy="544.14" r="1.50"/></g>
<g fill="#1f77b4" fill-opacity="0.75" stroke="#444" stroke-width="0.70" stroke-opacity="0.70"><circle cx="49.36" cy="574.61" r="1.50"/><circle cx="53.30" cy="574.08" r="1.50"/><circle cx="57.23" cy="573.59" r="1.50"/><circle cx="61.16" cy="572.85" r="1.50"/><circle cx="65.09" cy="572.12" r="1.50"/><circle cx="69.03" cy="570.81" r="1.50"/><circle cx="72.96" cy="569.09" r="1.50"/><circle cx="76.89" cy="567.62" r="1.50"/><circle cx="80.82" cy="565.77" r="1.50"/><circle cx="84.75" cy="563.30" r="1.50"/><circle cx="88.69" cy="560.84" r="1.50"/><circle cx="92.62" cy="557.44" r="1.50"/><circle cx="96.55" cy="554.47" r="1.50"/><circle cx="100.49" cy="550.02" r="1.50"/><circle cx="104.42" cy="545.85" r="1.50"/><circle cx="108.35" cy="542.45" r="1.50"/><circle cx="112.28" cy="538.99" r="1.50"/><circle cx="116.22" cy="535.07" r="1.50"/><circle cx="120.15" cy="532.64" r="1.50"/><circle cx="124.08" cy="531.59" r="1.50"/><circle cx="128.01" cy="530.36" r="1.50"/><circle cx="131.94" cy="529.13" r="1.50"/><circle cx="135.88" cy="527.82" r="1.50"/><circle cx="139.81" cy="526.58" r="1.50"/><circle cx="143.74" cy="525.11" r="1.50"/><circle cx="147.68" cy="524.08" r="1.50"/><circle cx="151.61" cy="523.44" r="1.50"/><circle cx="155.54" cy="524.82" r="1.50"/><circle cx="159.47" cy="528.57" r="1.50"/><circle cx="163.41" cy="531.92" r="1.50"/><circle cx="167.34" cy="534.34" r="1.50"/><circle cx="171.27" cy="536.77" r="1.50"/><circle cx="175.20" cy="538.48" r="1.50"/><circle cx="179.13" cy="540.33" r="1.50"/><circle cx="183.07" cy="542.26" r="1.50"/><circle cx="187.00" cy="543.39" r="1.50"/></g>
<g fill="#ff7f0e" fill-opacity="0.75" stroke="#444" stroke-width="0.70" stroke-opacity="0.70"><circle cx="41.50" cy="574.84" r="1.50"/><circle cx="45.43" cy="574.35" r="1.50"/><circle cx="49.36" cy="573.86" r="1.50"/><circle cx="53.30" cy="573.34" r="1.50"/><circle cx="57.23" cy="572.84" r="1.50"/><circle cx="61.16" cy="572.11" r="1.50"/><circle cx="65.09" cy="571.37" r="1.50"/><circle cx="69.03" cy="570.07" r="1.50"/><circle cx="72.96" cy="568.34" r="1.50"/><circle cx="76.89" cy="566.87" r="1.50"/><circle cx="80.82" cy="565.02" r="1.50"/><circle cx="84.75" cy="562.55" r="1.50"/><circle cx="88.69" cy="560.09" r="1.50"/><circle cx="92.62" cy="556.70" r="1.50"/><circle cx="96.55" cy="553.72" r="1.50"/><circle cx="100.49" cy="549.27" r="1.50"/><circle cx="104.42" cy="545.10" r="1.50"/><circle cx="108.35" cy="541.70" r="1.50"/><circle cx="112.28" cy="538.24" r="1.50"/><circle cx="116.22" cy="534.32" r="1.50"/><circle cx="120.15" cy="531.89" r="1.50"/><circle cx="124.08" cy="530.84" r="1.50"/><circle cx="128.01" cy="529.61" r="1.50"/><circle cx="131.94" cy="528.38" r="1.50"/><circle cx="135.88" cy="527.07" r="1.50"/><circle cx="139.81" cy="525.84" r="1.50"/><circle cx="143.74" cy="524.36" r="1.50"/><circle cx="147.68" cy="523.33" r="1.50"/><circle cx="151.61" cy="522.69" r="1.50"/><circle cx="155.54" cy="524.08" r="1.50"/><circle cx="159.47" cy="527.82" r="1.50"/><circle cx="163.41" cy="531.17" r="1.50"/><circle cx="167.34" cy="533.60" r="1.50"/><circle cx="171.27" cy="536.03" r="1.50"/><circle cx="175.20" cy="537.73" r="1.50"/><circle cx="179.13" cy="539.58" r="1.50"/><circle cx="183.07" cy="541.51" r="1.50"/><circle cx="187.00" cy="542.64" r="1.50"/></g>
<path d="M76.89,574.86V575.00M80.82,573.01V573.51M84.75,570.54V571.04M88.69,568.08V568.58M92.62,564.68V565.18M96.55,561.71V562.21M100.49,557.26V557.76M104.42,553.09V553.59M108.35,549.69V550.18M112.28,546.23V546.73M116.22,542.31V542.81M120.15,539.88V540.38M124.08,538.83V539.33M128.01,537.60V538.10M131.94,536.37V536.87M135.88,535.06V535.56M139.81,533.82V534.32M143.74,532.35V532.85M147.68,531.32V531.82M151.61,530.68V531.18M155.54,532.06V532.56M159.47,535.81V536.31M163.41,539.16V539.66M167.34,541.58V542.08M171.27,544.01V544.51M175.20,545.72V546.22M179.13,547.57V548.06M183.07,549.50V550.00M187.00,550.63V551.13" stroke="#2ca02c" stroke-width="0.90" stroke-opacity="0.85" fill="none"/>
<path d="M28.40,570.85h2.6M32.33,570.36h2.6M36.27,569.87h2.6M40.20,569.35h2.6M44.13,568.86h2.6M48.06,568.37h2.6M52.00,567.84h2.6M55.93,567.35h2.6M59.86,566.61h2.6M63.79,565.88h2.6M67.73,564.57h2.6M71.66,562.85h2.6M75.59,561.38h2.6M79.52,559.53h2.6M79.52,573.51h2.6M83.45,557.06h2.6M83.45,571.04h2.6M87.39,554.60h2.6M87.39,568.58h2.6M91.32,551.20h2.6M91.32,565.18h2.6M95.25,548.23h2.6M95.25,562.21h2.6M99.19,543.78h2.6M99.19,557.76h2.6M103.12,539.61h2.6M103.12,553.59h2.6M107.05,536.21h2.6M107.05,550.18h2.6M110.98,532.75h2.6M110.98,546.73h2.6M114.92,528.83h2.6M114.92,542.81h2.6M118.85,526.40h2.6M118.85,540.38h2.6M122.78,525.35h2.6M122.78,539.33h2.6M126.71,524.12h2.6M126.71,538.10h2.6M130.64,522.89h2.6M130.64,536.87h2.6M134.58,521.58h2.6M134.58,535.56h2.6M138.51,520.34h2.6M138.51,534.32h2.6M142.44,518.87h2.6M142.44,532.85h2.6M146.38,517.84h2.6M146.38,531.82h2.6M150.31,517.20h2.6M150.31,531.18h2.6M154.24,518.58h2.6M154.24,532.56h2.6M158.17,522.33h2.6M158.17,536.31h2.6M162.10,525.68h2.6M162.10,539.66h2.6M166.04,528.10h2.6M166.04,542.08h2.6M169.97,530.53h2.6M169.97,544.51h2.6M173.90,532.24h2.6M173.90,546.22h2.6M177.83,534.09h2.6M177.83,548.06h2.6M181.77,536.02h2.6M181.77,550.00h2.6M185.70,537.15h2.6M185.70,551.13h2.6" stroke="#2ca02c" stroke-width="0.9" stroke-opacity="0.85" fill="none"/>
<path d="M76.89,574.86V575.00M80.82,573.01V573.26M84.75,570.54V570.79M88.69,568.08V568.33M92.62,564.68V564.93M96.55,561.71V561.96M100.49,557.26V557.51M104.42,553.09V553.34M108.35,549.69V549.94M112.28,546.23V546.48M116.22,542.31V542.56M120.15,539.88V540.13M124.08,538.83V539.08M128.01,537.60V537.85M131.94,536.37V536.62M135.88,535.06V535.31M139.81,533.82V534.07M143.74,532.35V532.60M147.68,531.32V531.57M151.61,530.68V530.93M155.54,532.06V532.31M159.47,535.81V536.06M163.41,539.16V539.41M167.34,541.58V541.83M171.27,544.01V544.26M175.20,545.72V545.97M179.13,547.57V547.82M183.07,549.50V549.75M187.00,550.63V550.88" stroke="#1f77b4" stroke-width="0.90" stroke-opacity="0.85" fill="none"/>
<path d="M28.40,569.60h2.6M32.33,569.12h2.6M36.27,568.63h2.6M40.20,568.10h2.6M44.13,567.61h2.6M48.06,567.12h2.6M52.00,566.60h2.6M55.93,566.10h2.6M59.86,565.37h2.6M63.79,564.63h2.6M67.73,563.33h2.6M71.66,561.60h2.6M75.59,560.13h2.6M79.52,558.28h2.6M79.52,573.26h2.6M83.45,555.81h2.6M83.45,570.79h2.6M87.39,553.35h2.6M87.39,568.33h2.6M91.32,549.96h2.6M91.32,564.93h2.6M95.25,546.98h2.6M95.25,561.96h2.6M99.19,542.53h2.6M99.19,557.51h2.6M103.12,538.36h2.6M103.12,553.34h2.6M107.05,534.96h2.6M107.05,549.94h2.6M110.98,531.50h2.6M110.98,546.48h2.6M114.92,527.58h2.6M114.92,542.56h2.6M118.85,525.15h2.6M118.85,540.13h2.6M122.78,524.10h2.6M122.78,539.08h2.6M126.71,522.87h2.6M126.71,537.85h2.6M130.64,521.64h2.6M130.64,536.62h2.6M134.58,520.33h2.6M134.58,535.31h2.6M138.51,519.10h2.6M138.51,534.07h2.6M142.44,517.62h2.6M142.44,532.60h2.6M146.38,516.59h2.6M146.38,531.57h2.6M150.31,515.95h2.6M150.31,530.93h2.6M154.24,517.34h2.6M154.24,532.31h2.6M158.17,521.08h2.6M158.17,536.06h2.6M162.10,524.43h2.6M162.10,539.41h2.6M166.04,526.85h2.6M166.04,541.83h2.6M169.97,529.29h2.6M169.97,544.26h2.6M173.90,530.99h2.6M173.90,545.97h2.6M177.83,532.84h2.6M177.83,547.82h2.6M181.77,534.77h2.6M181.77,549.75h2.6M185.70,535.90h2.6M185.70,550.88h2.6" stroke="#1f77b4" stroke-width="0.9" stroke-opacity="0.85" fill="none"/>
<path d="M29.70,568.35V575.00M33.63,567.87V575.00M37.56,567.38V575.00M41.50,566.85V575.00M45.43,566.36V575.00M49.36,565.87V575.00M53.30,565.35V575.00M57.23,564.86V575.00M61.16,564.12V575.00M65.09,563.39V575.00M69.03,562.08V575.00M72.96,560.35V575.00M76.89,558.88V574.86M80.82,557.03V573.01M84.75,554.56V570.54M88.69,552.10V568.08M92.62,548.71V564.68M96.55,545.73V561.71M100.49,541.29V557.26M104.42,537.11V553.09M108.35,533.71V549.69M112.28,530.25V546.23M116.22,526.33V542.31M120.15,523.90V539.88M124.08,522.85V538.83M128.01,521.62V537.60M131.94,520.39V536.37M135.88,519.08V535.06M139.81,517.85V533.82M143.74,516.38V532.35M147.68,515.35V531.32M151.61,514.71V530.68M155.54,516.09V532.06M159.47,519.83V535.81M163.41,523.18V539.16M167.34,525.61V541.58M171.27,528.04V544.01M175.20,529.74V545.72M179.13,531.59V547.57M183.07,533.52V549.50M187.00,534.65V550.63" stroke="#ff7f0e" stroke-width="1.00" stroke-opacity="0.85" fill="none"/>
<path d="M28.40,568.35h2.6M32.33,567.87h2.6M36.27,567.38h2.6M40.20,566.85h2.6M44.13,566.36h2.6M48.06,565.87h2.6M52.00,565.35h2.6M55.93,564.86h2.6M59.86,564.12h2.6M63.79,563.39h2.6M67.73,562.08h2.6M71.66,560.35h2.6M75.59,558.88h2.6M79.52,557.03h2.6M79.52,573.01h2.6M83.45,554.56h2.6M83.45,570.54h2.6M87.39,552.10h2.6M87.39,568.08h2.6M91.32,548.71h2.6M91.32,564.68h2.6M95.25,545.73h2.6M95.25,561.71h2.6M99.19,541.29h2.6M99.19,557.26h2.6M103.12,537.11h2.6M103.12,553.09h2.6M107.05,533.71h2.6M107.05,549.69h2.6M110.98,530.25h2.6M110.98,546.23h2.6M114.92,526.33h2.6M114.92,542.31h2.6M118.85,523.90h2.6M118.85,539.88h2.6M122.78,522.85h2.6M122.78,538.83h2.6M126.71,521.62h2.6M126.71,537.60h2.6M130.64,520.39h2.6M130.64,536.37h2.6M134.58,519.08h2.6M134.58,535.06h2.6M138.51,517.85h2.6M138.51,533.82h2.6M142.44,516.38h2.6M142.44,532.35h2.6M146.38,515.35h2.6M146.38,531.32h2.6M150.31,514.71h2.6M150.31,530.68h2.6M154.24,516.09h2.6M154.24,532.06h2.6M158.17,519.83h2.6M158.17,535.81h2.6M162.10,523.18h2.6M162.10,539.16h2.6M166.04,525.61h2.6M166.04,541.58h2.6M169.97,528.04h2.6M169.97,544.01h2.6M173.90,529.74h2.6M173.90,545.72h2.6M177.83,531.59h2.6M177.83,547.57h2.6M181.77,533.52h2.6M181.77,549.50h2.6M185.70,534.65h2.6M185.70,550.63h2.6" stroke="#ff7f0e" stroke-width="0.9" stroke-opacity="0.85" fill="none"/>
</g>
<clipPath id="c9x"><rect x="28.70" y="472.50" width="159.30" height="103.50"/></clipPath>
<path d="M29.70,474.50H187.00M29.70,474.50V574.00M29.70,574.00H187.00" stroke="#000" stroke-width="1.30" fill="none" stroke-linecap="square"/>
<path d="M187.00,474.50V574.00" stroke="#2a209a" stroke-width="1.70" fill="none" stroke-linecap="square"/>
<text x="29.70" y="585.20" font-size="8.20" fill="#222" text-anchor="middle" stroke="#222" stroke-width="0.16" textLength="9.67" lengthAdjust="spacingAndGlyphs">15</text>
<text x="88.69" y="585.20" font-size="8.20" fill="#222" text-anchor="middle" stroke="#222" stroke-width="0.16" textLength="9.67" lengthAdjust="spacingAndGlyphs">30</text>
<text x="147.68" y="585.20" font-size="8.20" fill="#222" text-anchor="middle" stroke="#222" stroke-width="0.16" textLength="9.67" lengthAdjust="spacingAndGlyphs">45</text>
<text x="25.50" y="576.30" font-size="6.50" fill="#222" text-anchor="end" stroke="#222" stroke-width="0.15" textLength="10.34" lengthAdjust="spacingAndGlyphs">0.0</text>
<text x="25.50" y="559.72" font-size="6.50" fill="#222" text-anchor="end" stroke="#222" stroke-width="0.15" textLength="10.34" lengthAdjust="spacingAndGlyphs">0.2</text>
<text x="25.50" y="543.13" font-size="6.50" fill="#222" text-anchor="end" stroke="#222" stroke-width="0.15" textLength="10.34" lengthAdjust="spacingAndGlyphs">0.4</text>
<text x="25.50" y="526.55" font-size="6.50" fill="#222" text-anchor="end" stroke="#222" stroke-width="0.15" textLength="10.34" lengthAdjust="spacingAndGlyphs">0.6</text>
<text x="25.50" y="509.97" font-size="6.50" fill="#222" text-anchor="end" stroke="#222" stroke-width="0.15" textLength="10.34" lengthAdjust="spacingAndGlyphs">0.8</text>
<text x="25.50" y="493.38" font-size="6.50" fill="#222" text-anchor="end" stroke="#222" stroke-width="0.15" textLength="10.34" lengthAdjust="spacingAndGlyphs">1.0</text>
<text x="25.50" y="476.80" font-size="6.50" fill="#222" text-anchor="end" stroke="#222" stroke-width="0.15" textLength="10.34" lengthAdjust="spacingAndGlyphs">1.2</text>
<path d="M29.70,574.00v2.4M88.69,574.00v2.4M147.68,574.00v2.4M29.70,574.00h-2.4M29.70,557.42h-2.4M29.70,540.83h-2.4M29.70,524.25h-2.4M29.70,507.67h-2.4M29.70,491.08h-2.4M29.70,474.50h-2.4" stroke="#000" stroke-width="0.7" fill="none"/>
<text x="191.20" y="576.30" font-size="6.50" fill="#4848f0" text-anchor="start" stroke="#4848f0" stroke-width="0.15" textLength="10.34" lengthAdjust="spacingAndGlyphs">0.0</text>
<text x="191.20" y="556.40" font-size="6.50" fill="#4848f0" text-anchor="start" stroke="#4848f0" stroke-width="0.15" textLength="10.34" lengthAdjust="spacingAndGlyphs">0.2</text>
<text x="191.20" y="536.50" font-size="6.50" fill="#4848f0" text-anchor="start" stroke="#4848f0" stroke-width="0.15" textLength="10.34" lengthAdjust="spacingAndGlyphs">0.4</text>
<text x="191.20" y="516.60" font-size="6.50" fill="#4848f0" text-anchor="start" stroke="#4848f0" stroke-width="0.15" textLength="10.34" lengthAdjust="spacingAndGlyphs">0.6</text>
<text x="191.20" y="496.70" font-size="6.50" fill="#4848f0" text-anchor="start" stroke="#4848f0" stroke-width="0.15" textLength="10.34" lengthAdjust="spacingAndGlyphs">0.8</text>
<text x="191.20" y="476.80" font-size="6.50" fill="#4848f0" text-anchor="start" stroke="#4848f0" stroke-width="0.15" textLength="10.34" lengthAdjust="spacingAndGlyphs">1.0</text>
<path d="M187.00,574.00h2.4M187.00,554.10h2.4M187.00,534.20h2.4M187.00,514.30h2.4M187.00,494.40h2.4M187.00,474.50h2.4" stroke="#4848f0" stroke-width="0.7" fill="none"/>
<text x="108.35" y="470.10" font-size="9.40" fill="#111" text-anchor="middle" stroke="#111" stroke-width="0.25" textLength="26.00" lengthAdjust="spacingAndGlyphs">EA JJA</text>
<text x="11.66" y="524.25" font-size="6.60" fill="#222" text-anchor="middle" stroke="#222" stroke-width="0.15" transform="rotate(-90 11.66 524.25)" textLength="10.40" lengthAdjust="spacingAndGlyphs">PW</text>
<text x="209.94" y="524.25" font-size="7.00" fill="#4848f0" text-anchor="middle" stroke="#4848f0" stroke-width="0.15" transform="rotate(-90 209.94 524.25)" textLength="42.50" lengthAdjust="spacingAndGlyphs">dq_1000hpa</text>
<text x="108.35" y="594.50" font-size="6.50" fill="#222" text-anchor="middle" stroke="#222" stroke-width="0.15" textLength="26.30" lengthAdjust="spacingAndGlyphs">Latitude</text>
<text x="35.70" y="570.80" font-size="9.40" fill="#000" text-anchor="start" stroke="#000" stroke-width="0.10" font-weight="bold" textLength="26.90" lengthAdjust="spacingAndGlyphs">Δ = 15</text>
<clipPath id="c10"><rect x="242.10" y="474.50" width="157.50" height="99.50"/></clipPath>
<g clip-path="url(#c10)">
<path d="M241.99,555.12L249.98,551.38L259.96,545.14L269.95,538.90L279.93,533.16L289.92,528.91L299.91,526.42L309.89,527.16L319.88,529.66L329.86,533.16L339.85,537.15L349.83,541.39L359.82,545.64L369.80,550.13L379.79,554.62L389.77,558.87L399.51,562.61L399.51,571.35L389.77,569.60L374.80,565.86L359.82,561.36L344.84,557.62L330.11,554.38L317.38,552.13L304.40,551.38L294.91,552.63L282.43,557.62L272.45,565.11L264.96,574.10L241.99,574.10Z" fill="#2ca02c" fill-opacity="0.20" stroke="none"/>
<path d="M241.99,546.39L249.98,540.89L259.96,533.41L269.95,526.42L279.93,520.92L289.92,517.68L299.91,516.18L309.89,516.43L319.88,518.43L329.86,521.67L339.85,525.92L349.83,530.91L359.82,535.90L369.80,541.39L379.79,546.64L389.77,551.63L399.51,555.12L399.51,570.10L389.77,567.61L374.80,562.61L359.82,557.62L344.84,553.13L330.11,548.88L317.38,546.89L304.40,546.64L292.42,547.64L279.93,552.63L269.95,562.61L262.46,574.10L241.99,574.10Z" fill="#1f77b4" fill-opacity="0.20" stroke="none"/>
<path d="M241.99,531.41L249.98,522.67L259.96,510.94L269.95,503.45L279.93,499.46L289.92,497.71L299.91,497.21L309.89,498.46L319.88,501.45L329.86,506.45L339.85,511.44L349.83,517.68L359.82,524.42L369.80,530.91L379.79,537.65L389.77,545.14L399.51,553.38L399.51,568.35L389.77,565.11L374.80,560.12L359.82,555.62L344.84,550.88L330.11,546.14L317.38,541.39L304.40,539.65L289.92,542.14L277.44,548.88L267.45,561.36L259.96,574.10L241.99,574.10Z" fill="#e67d14" fill-opacity="0.20" stroke="none"/>
<path d="M241.99,560.12C243.32,559.70 246.98,558.87 249.98,557.62C252.97,556.37 256.64,554.29 259.96,552.63C263.29,550.96 266.62,549.30 269.95,547.64C273.28,545.97 276.61,544.10 279.93,542.64C283.26,541.19 286.59,539.81 289.92,538.90C293.25,537.98 296.58,537.36 299.91,537.15C303.23,536.94 306.56,537.15 309.89,537.65C313.22,538.15 316.55,539.19 319.88,540.15C323.20,541.10 326.53,542.27 329.86,543.39C333.19,544.51 336.52,545.64 339.85,546.89C343.18,548.13 346.50,549.51 349.83,550.88C353.16,552.25 356.49,553.71 359.82,555.12C363.15,556.54 366.47,557.99 369.80,559.37C373.13,560.74 376.46,562.11 379.79,563.36C383.12,564.61 386.49,565.86 389.77,566.86C393.06,567.86 397.89,568.94 399.51,569.35" fill="none" stroke="#2ca02c" stroke-width="1.5" stroke-linejoin="round"/>
<path d="M241.99,556.37C243.32,555.75 246.98,554.29 249.98,552.63C252.97,550.96 256.64,548.47 259.96,546.39C263.29,544.31 266.62,542.14 269.95,540.15C273.28,538.15 276.61,536.07 279.93,534.40C283.26,532.74 286.59,531.28 289.92,530.16C293.25,529.04 296.58,527.96 299.91,527.66C303.23,527.37 306.56,527.87 309.89,528.41C313.22,528.95 316.55,529.91 319.88,530.91C323.20,531.91 326.53,533.16 329.86,534.40C333.19,535.65 336.52,537.03 339.85,538.40C343.18,539.77 346.50,541.23 349.83,542.64C353.16,544.06 356.49,545.43 359.82,546.89C363.15,548.34 366.47,549.88 369.80,551.38C373.13,552.88 376.46,554.42 379.79,555.87C383.12,557.33 386.49,558.79 389.77,560.12C393.06,561.45 397.89,563.24 399.51,563.86" fill="none" stroke="#1f77b4" stroke-width="1.5" stroke-linejoin="round"/>
<path d="M241.99,548.38C243.32,547.43 246.98,544.85 249.98,542.64C252.97,540.44 256.64,537.57 259.96,535.15C263.29,532.74 266.62,530.24 269.95,528.16C273.28,526.08 276.61,524.13 279.93,522.67C283.26,521.22 286.59,520.22 289.92,519.43C293.25,518.64 296.58,518.14 299.91,517.93C303.23,517.72 306.56,517.80 309.89,518.18C313.22,518.55 316.55,519.30 319.88,520.18C323.20,521.05 326.53,522.17 329.86,523.42C333.19,524.67 336.52,526.12 339.85,527.66C343.18,529.20 346.50,530.99 349.83,532.66C353.16,534.32 356.49,535.90 359.82,537.65C363.15,539.40 366.47,541.35 369.80,543.14C373.13,544.93 376.46,546.68 379.79,548.38C383.12,550.09 386.49,551.96 389.77,553.38C393.06,554.79 397.89,556.29 399.51,556.87" fill="none" stroke="#ff7f0e" stroke-width="1.5" stroke-linejoin="round"/>
</g>
<g clip-path="url(#c10x)">
<g fill="#2ca02c" fill-opacity="0.75" stroke="#444" stroke-width="0.70" stroke-opacity="0.70"><circle cx="242.10" cy="543.81" r="1.50"/><circle cx="247.35" cy="539.82" r="1.50"/><circle cx="252.60" cy="536.82" r="1.50"/><circle cx="257.85" cy="533.33" r="1.50"/><circle cx="263.10" cy="530.58" r="1.50"/><circle cx="268.35" cy="527.58" r="1.50"/><circle cx="273.60" cy="524.84" r="1.50"/><circle cx="278.85" cy="522.61" r="1.50"/><circle cx="284.10" cy="520.87" r="1.50"/><circle cx="289.35" cy="519.37" r="1.50"/><circle cx="294.60" cy="517.63" r="1.50"/><circle cx="299.85" cy="516.64" r="1.50"/><circle cx="305.10" cy="515.65" r="1.50"/><circle cx="310.35" cy="515.17" r="1.50"/><circle cx="315.60" cy="514.93" r="1.50"/><circle cx="320.85" cy="515.19" r="1.50"/><circle cx="326.10" cy="515.28" r="1.50"/><circle cx="331.35" cy="515.88" r="1.50"/><circle cx="336.60" cy="516.72" r="1.50"/><circle cx="341.85" cy="517.56" r="1.50"/><circle cx="347.10" cy="518.65" r="1.50"/><circle cx="352.35" cy="519.99" r="1.50"/><circle cx="357.60" cy="521.33" r="1.50"/><circle cx="362.85" cy="522.93" r="1.50"/><circle cx="368.10" cy="524.76" r="1.50"/><circle cx="373.35" cy="526.34" r="1.50"/><circle cx="378.60" cy="527.92" r="1.50"/><circle cx="383.85" cy="529.49" r="1.50"/><circle cx="389.10" cy="530.56" r="1.50"/><circle cx="394.35" cy="531.64" r="1.50"/><circle cx="399.60" cy="532.66" r="1.50"/></g>
<g fill="#1f77b4" fill-opacity="0.75" stroke="#444" stroke-width="0.70" stroke-opacity="0.70"><circle cx="242.10" cy="542.06" r="1.50"/><circle cx="247.35" cy="538.02" r="1.50"/><circle cx="252.60" cy="534.97" r="1.50"/><circle cx="257.85" cy="531.43" r="1.50"/><circle cx="263.10" cy="528.63" r="1.50"/><circle cx="268.35" cy="525.58" r="1.50"/><circle cx="273.60" cy="522.80" r="1.50"/><circle cx="278.85" cy="520.51" r="1.50"/><circle cx="284.10" cy="518.72" r="1.50"/><circle cx="289.35" cy="517.17" r="1.50"/><circle cx="294.60" cy="515.38" r="1.50"/><circle cx="299.85" cy="514.34" r="1.50"/><circle cx="305.10" cy="513.30" r="1.50"/><circle cx="310.35" cy="512.77" r="1.50"/><circle cx="315.60" cy="512.49" r="1.50"/><circle cx="320.85" cy="512.69" r="1.50"/><circle cx="326.10" cy="512.78" r="1.50"/><circle cx="331.35" cy="513.38" r="1.50"/><circle cx="336.60" cy="514.22" r="1.50"/><circle cx="341.85" cy="515.06" r="1.50"/><circle cx="347.10" cy="516.16" r="1.50"/><circle cx="352.35" cy="517.50" r="1.50"/><circle cx="357.60" cy="518.84" r="1.50"/><circle cx="362.85" cy="520.43" r="1.50"/><circle cx="368.10" cy="522.26" r="1.50"/><circle cx="373.35" cy="523.84" r="1.50"/><circle cx="378.60" cy="525.43" r="1.50"/><circle cx="383.85" cy="526.99" r="1.50"/><circle cx="389.10" cy="528.06" r="1.50"/><circle cx="394.35" cy="529.14" r="1.50"/><circle cx="399.60" cy="530.16" r="1.50"/></g>
<g fill="#ff7f0e" fill-opacity="0.75" stroke="#444" stroke-width="0.70" stroke-opacity="0.70"><circle cx="242.10" cy="540.06" r="1.50"/><circle cx="247.35" cy="535.82" r="1.50"/><circle cx="252.60" cy="532.57" r="1.50"/><circle cx="257.85" cy="528.83" r="1.50"/><circle cx="263.10" cy="525.83" r="1.50"/><circle cx="268.35" cy="522.58" r="1.50"/><circle cx="273.60" cy="519.59" r="1.50"/><circle cx="278.85" cy="517.11" r="1.50"/><circle cx="284.10" cy="515.12" r="1.50"/><circle cx="289.35" cy="513.37" r="1.50"/><circle cx="294.60" cy="511.38" r="1.50"/><circle cx="299.85" cy="510.14" r="1.50"/><circle cx="305.10" cy="508.90" r="1.50"/><circle cx="310.35" cy="508.17" r="1.50"/><circle cx="315.60" cy="507.68" r="1.50"/><circle cx="320.85" cy="507.69" r="1.50"/><circle cx="326.10" cy="507.71" r="1.50"/><circle cx="331.35" cy="508.22" r="1.50"/><circle cx="336.60" cy="508.98" r="1.50"/><circle cx="341.85" cy="509.73" r="1.50"/><circle cx="347.10" cy="510.75" r="1.50"/><circle cx="352.35" cy="512.00" r="1.50"/><circle cx="357.60" cy="513.26" r="1.50"/><circle cx="362.85" cy="514.77" r="1.50"/><circle cx="368.10" cy="516.52" r="1.50"/><circle cx="373.35" cy="518.01" r="1.50"/><circle cx="378.60" cy="519.52" r="1.50"/><circle cx="383.85" cy="521.00" r="1.50"/><circle cx="389.10" cy="521.98" r="1.50"/><circle cx="394.35" cy="522.98" r="1.50"/><circle cx="399.60" cy="523.92" r="1.50"/></g>
<path d="M242.10,547.05V548.80M247.35,542.81V544.81M252.60,539.56V541.82M257.85,535.82V538.32M263.10,532.82V535.58M268.35,529.57V532.58M273.60,526.58V529.84M278.85,524.10V527.60M284.10,522.11V525.86M289.35,520.36V524.36M294.60,518.37V522.62M299.85,517.13V521.64M305.10,515.89V520.65M310.35,515.16V520.16M315.60,514.67V519.93M320.85,514.68V520.18M326.10,514.70V520.27M331.35,515.21V520.87M336.60,515.97V521.71M341.85,516.72V522.55M347.10,517.74V523.65M352.35,518.99V524.99M357.60,520.25V526.33M362.85,521.76V527.92M368.10,523.51V529.75M373.35,525.00V531.33M378.60,526.51V532.91M383.85,527.99V534.48M389.10,528.97V535.55M394.35,529.97V536.63M399.60,530.91V537.65" stroke="#2ca02c" stroke-width="0.90" stroke-opacity="0.85" fill="none"/>
<path d="M240.80,538.81h2.6M240.80,548.80h2.6M246.05,534.83h2.6M246.05,544.81h2.6M251.30,531.83h2.6M251.30,541.82h2.6M256.55,528.33h2.6M256.55,538.32h2.6M261.80,525.59h2.6M261.80,535.58h2.6M267.05,522.59h2.6M267.05,532.58h2.6M272.30,519.85h2.6M272.30,529.84h2.6M277.55,517.62h2.6M277.55,527.60h2.6M282.80,515.88h2.6M282.80,525.86h2.6M288.05,514.38h2.6M288.05,524.36h2.6M293.30,512.64h2.6M293.30,522.62h2.6M298.55,511.65h2.6M298.55,521.64h2.6M303.80,510.66h2.6M303.80,520.65h2.6M309.05,510.17h2.6M309.05,520.16h2.6M314.30,509.94h2.6M314.30,519.93h2.6M319.55,510.19h2.6M319.55,520.18h2.6M324.80,510.29h2.6M324.80,520.27h2.6M330.05,510.89h2.6M330.05,520.87h2.6M335.30,511.73h2.6M335.30,521.71h2.6M340.55,512.57h2.6M340.55,522.55h2.6M345.80,513.66h2.6M345.80,523.65h2.6M351.05,515.00h2.6M351.05,524.99h2.6M356.30,516.34h2.6M356.30,526.33h2.6M361.55,517.94h2.6M361.55,527.92h2.6M366.80,519.77h2.6M366.80,529.75h2.6M372.05,521.35h2.6M372.05,531.33h2.6M377.30,522.93h2.6M377.30,532.91h2.6M382.55,524.49h2.6M382.55,534.48h2.6M387.80,525.56h2.6M387.80,535.55h2.6M393.05,526.65h2.6M393.05,536.63h2.6M398.30,527.66h2.6M398.30,537.65h2.6" stroke="#2ca02c" stroke-width="0.9" stroke-opacity="0.85" fill="none"/>
<path d="M242.10,547.05V547.55M247.35,542.81V543.51M252.60,539.56V540.47M257.85,535.82V536.92M263.10,532.82V534.13M268.35,529.57V531.08M273.60,526.58V528.29M278.85,524.10V526.00M284.10,522.11V524.21M289.35,520.36V522.66M294.60,518.37V520.87M299.85,517.13V519.84M305.10,515.89V518.80M310.35,515.16V518.26M315.60,514.67V517.98M320.85,514.68V518.18M326.10,514.70V518.28M331.35,515.21V518.88M336.60,515.97V519.71M341.85,516.72V520.55M347.10,517.74V521.65M352.35,518.99V522.99M357.60,520.25V524.33M362.85,521.76V525.93M368.10,523.51V527.76M373.35,525.00V529.33M378.60,526.51V530.92M383.85,527.99V532.48M389.10,528.97V533.55M394.35,529.97V534.63M399.60,530.91V535.65" stroke="#1f77b4" stroke-width="0.90" stroke-opacity="0.85" fill="none"/>
<path d="M240.80,536.57h2.6M240.80,547.55h2.6M246.05,532.53h2.6M246.05,543.51h2.6M251.30,529.48h2.6M251.30,540.47h2.6M256.55,525.94h2.6M256.55,536.92h2.6M261.80,523.14h2.6M261.80,534.13h2.6M267.05,520.09h2.6M267.05,531.08h2.6M272.30,517.30h2.6M272.30,528.29h2.6M277.55,515.02h2.6M277.55,526.00h2.6M282.80,513.23h2.6M282.80,524.21h2.6M288.05,511.68h2.6M288.05,522.66h2.6M293.30,509.89h2.6M293.30,520.87h2.6M298.55,508.85h2.6M298.55,519.84h2.6M303.80,507.81h2.6M303.80,518.80h2.6M309.05,507.28h2.6M309.05,518.26h2.6M314.30,506.99h2.6M314.30,517.98h2.6M319.55,507.20h2.6M319.55,518.18h2.6M324.80,507.29h2.6M324.80,518.28h2.6M330.05,507.89h2.6M330.05,518.88h2.6M335.30,508.73h2.6M335.30,519.71h2.6M340.55,509.57h2.6M340.55,520.55h2.6M345.80,510.67h2.6M345.80,521.65h2.6M351.05,512.00h2.6M351.05,522.99h2.6M356.30,513.34h2.6M356.30,524.33h2.6M361.55,514.94h2.6M361.55,525.93h2.6M366.80,516.77h2.6M366.80,527.76h2.6M372.05,518.35h2.6M372.05,529.33h2.6M377.30,519.93h2.6M377.30,530.92h2.6M382.55,521.50h2.6M382.55,532.48h2.6M387.80,522.57h2.6M387.80,533.55h2.6M393.05,523.65h2.6M393.05,534.63h2.6M398.30,524.67h2.6M398.30,535.65h2.6" stroke="#1f77b4" stroke-width="0.9" stroke-opacity="0.85" fill="none"/>
<path d="M242.10,533.07V547.05M247.35,528.83V542.81M252.60,525.58V539.56M257.85,521.84V535.82M263.10,518.84V532.82M268.35,515.59V529.57M273.60,512.60V526.58M278.85,510.12V524.10M284.10,508.13V522.11M289.35,506.38V520.36M294.60,504.39V518.37M299.85,503.15V517.13M305.10,501.91V515.89M310.35,501.18V515.16M315.60,500.69V514.67M320.85,500.70V514.68M326.10,500.72V514.70M331.35,501.23V515.21M336.60,501.99V515.97M341.85,502.74V516.72M347.10,503.76V517.74M352.35,505.01V518.99M357.60,506.27V520.25M362.85,507.78V521.76M368.10,509.53V523.51M373.35,511.02V525.00M378.60,512.53V526.51M383.85,514.01V527.99M389.10,514.99V528.97M394.35,515.99V529.97M399.60,516.93V530.91" stroke="#ff7f0e" stroke-width="1.00" stroke-opacity="0.85" fill="none"/>
<path d="M240.80,533.07h2.6M240.80,547.05h2.6M246.05,528.83h2.6M246.05,542.81h2.6M251.30,525.58h2.6M251.30,539.56h2.6M256.55,521.84h2.6M256.55,535.82h2.6M261.80,518.84h2.6M261.80,532.82h2.6M267.05,515.59h2.6M267.05,529.57h2.6M272.30,512.60h2.6M272.30,526.58h2.6M277.55,510.12h2.6M277.55,524.10h2.6M282.80,508.13h2.6M282.80,522.11h2.6M288.05,506.38h2.6M288.05,520.36h2.6M293.30,504.39h2.6M293.30,518.37h2.6M298.55,503.15h2.6M298.55,517.13h2.6M303.80,501.91h2.6M303.80,515.89h2.6M309.05,501.18h2.6M309.05,515.16h2.6M314.30,500.69h2.6M314.30,514.67h2.6M319.55,500.70h2.6M319.55,514.68h2.6M324.80,500.72h2.6M324.80,514.70h2.6M330.05,501.23h2.6M330.05,515.21h2.6M335.30,501.99h2.6M335.30,515.97h2.6M340.55,502.74h2.6M340.55,516.72h2.6M345.80,503.76h2.6M345.80,517.74h2.6M351.05,505.01h2.6M351.05,518.99h2.6M356.30,506.27h2.6M356.30,520.25h2.6M361.55,507.78h2.6M361.55,521.76h2.6M366.80,509.53h2.6M366.80,523.51h2.6M372.05,511.02h2.6M372.05,525.00h2.6M377.30,512.53h2.6M377.30,526.51h2.6M382.55,514.01h2.6M382.55,527.99h2.6M387.80,514.99h2.6M387.80,528.97h2.6M393.05,515.99h2.6M393.05,529.97h2.6M398.30,516.93h2.6M398.30,530.91h2.6" stroke="#ff7f0e" stroke-width="0.9" stroke-opacity="0.85" fill="none"/>
</g>
<clipPath id="c10x"><rect x="241.10" y="472.50" width="159.50" height="103.50"/></clipPath>
<path d="M242.10,474.50H399.60M242.10,474.50V574.00M242.10,574.00H399.60" stroke="#000" stroke-width="1.30" fill="none" stroke-linecap="square"/>
<path d="M399.60,474.50V574.00" stroke="#2a209a" stroke-width="1.70" fill="none" stroke-linecap="square"/>
<text x="242.10" y="585.20" font-size="8.20" fill="#222" text-anchor="middle" stroke="#222" stroke-width="0.16" textLength="9.67" lengthAdjust="spacingAndGlyphs">30</text>
<text x="294.60" y="585.20" font-size="8.20" fill="#222" text-anchor="middle" stroke="#222" stroke-width="0.16" textLength="9.67" lengthAdjust="spacingAndGlyphs">40</text>
<text x="347.10" y="585.20" font-size="8.20" fill="#222" text-anchor="middle" stroke="#222" stroke-width="0.16" textLength="9.67" lengthAdjust="spacingAndGlyphs">50</text>
<text x="399.60" y="585.20" font-size="8.20" fill="#222" text-anchor="middle" stroke="#222" stroke-width="0.16" textLength="9.67" lengthAdjust="spacingAndGlyphs">60</text>
<text x="237.90" y="576.30" font-size="6.50" fill="#222" text-anchor="end" stroke="#222" stroke-width="0.15" textLength="14.47" lengthAdjust="spacingAndGlyphs">0.00</text>
<text x="237.90" y="559.72" font-size="6.50" fill="#222" text-anchor="end" stroke="#222" stroke-width="0.15" textLength="14.47" lengthAdjust="spacingAndGlyphs">0.25</text>
<text x="237.90" y="543.13" font-size="6.50" fill="#222" text-anchor="end" stroke="#222" stroke-width="0.15" textLength="14.47" lengthAdjust="spacingAndGlyphs">0.50</text>
<text x="237.90" y="526.55" font-size="6.50" fill="#222" text-anchor="end" stroke="#222" stroke-width="0.15" textLength="14.47" lengthAdjust="spacingAndGlyphs">0.75</text>
<text x="237.90" y="509.97" font-size="6.50" fill="#222" text-anchor="end" stroke="#222" stroke-width="0.15" textLength="14.47" lengthAdjust="spacingAndGlyphs">1.00</text>
<text x="237.90" y="493.38" font-size="6.50" fill="#222" text-anchor="end" stroke="#222" stroke-width="0.15" textLength="14.47" lengthAdjust="spacingAndGlyphs">1.25</text>
<text x="237.90" y="476.80" font-size="6.50" fill="#222" text-anchor="end" stroke="#222" stroke-width="0.15" textLength="14.47" lengthAdjust="spacingAndGlyphs">1.50</text>
<path d="M242.10,574.00v2.4M294.60,574.00v2.4M347.10,574.00v2.4M399.60,574.00v2.4M242.10,574.00h-2.4M242.10,557.42h-2.4M242.10,540.83h-2.4M242.10,524.25h-2.4M242.10,507.67h-2.4M242.10,491.08h-2.4M242.10,474.50h-2.4" stroke="#000" stroke-width="0.7" fill="none"/>
<text x="403.80" y="576.30" font-size="6.50" fill="#4848f0" text-anchor="start" stroke="#4848f0" stroke-width="0.15" textLength="10.34" lengthAdjust="spacingAndGlyphs">0.0</text>
<text x="403.80" y="556.40" font-size="6.50" fill="#4848f0" text-anchor="start" stroke="#4848f0" stroke-width="0.15" textLength="10.34" lengthAdjust="spacingAndGlyphs">0.1</text>
<text x="403.80" y="536.50" font-size="6.50" fill="#4848f0" text-anchor="start" stroke="#4848f0" stroke-width="0.15" textLength="10.34" lengthAdjust="spacingAndGlyphs">0.2</text>
<text x="403.80" y="516.60" font-size="6.50" fill="#4848f0" text-anchor="start" stroke="#4848f0" stroke-width="0.15" textLength="10.34" lengthAdjust="spacingAndGlyphs">0.3</text>
<text x="403.80" y="496.70" font-size="6.50" fill="#4848f0" text-anchor="start" stroke="#4848f0" stroke-width="0.15" textLength="10.34" lengthAdjust="spacingAndGlyphs">0.4</text>
<text x="403.80" y="476.80" font-size="6.50" fill="#4848f0" text-anchor="start" stroke="#4848f0" stroke-width="0.15" textLength="10.34" lengthAdjust="spacingAndGlyphs">0.5</text>
<path d="M399.60,574.00h2.4M399.60,554.10h2.4M399.60,534.20h2.4M399.60,514.30h2.4M399.60,494.40h2.4M399.60,474.50h2.4" stroke="#4848f0" stroke-width="0.7" fill="none"/>
<text x="320.85" y="470.10" font-size="9.40" fill="#111" text-anchor="middle" stroke="#111" stroke-width="0.25" textLength="26.00" lengthAdjust="spacingAndGlyphs">NP JJA</text>
<text x="219.93" y="524.25" font-size="6.60" fill="#222" text-anchor="middle" stroke="#222" stroke-width="0.15" transform="rotate(-90 219.93 524.25)" textLength="10.40" lengthAdjust="spacingAndGlyphs">PW</text>
<text x="422.53" y="524.25" font-size="7.00" fill="#4848f0" text-anchor="middle" stroke="#4848f0" stroke-width="0.15" transform="rotate(-90 422.53 524.25)" textLength="42.50" lengthAdjust="spacingAndGlyphs">dq_1000hpa</text>
<text x="320.85" y="594.50" font-size="6.50" fill="#222" text-anchor="middle" stroke="#222" stroke-width="0.15" textLength="26.30" lengthAdjust="spacingAndGlyphs">Latitude</text>
<text x="247.50" y="570.80" font-size="9.40" fill="#000" text-anchor="start" stroke="#000" stroke-width="0.10" font-weight="bold" textLength="26.90" lengthAdjust="spacingAndGlyphs">Δ = 30</text>
<clipPath id="c11"><rect x="454.60" y="474.50" width="157.90" height="99.50"/></clipPath>
<g clip-path="url(#c11)">
<path d="M454.49,554.38L464.47,548.38L474.46,543.39L484.45,539.90L494.43,537.40L504.42,535.40L514.40,534.40L524.39,534.40L534.37,535.40L544.36,537.40L554.34,539.90L564.33,542.89L574.31,546.89L584.30,551.13L594.28,555.37L604.27,559.87L612.51,563.36L612.51,572.35L605.77,571.35L586.80,568.85L570.82,565.61L559.34,561.86L546.85,559.37L531.88,557.62L516.90,556.87L501.92,557.62L490.69,561.36L486.94,574.10L454.49,574.10Z" fill="#2ca02c" fill-opacity="0.20" stroke="none"/>
<path d="M454.49,543.89L464.47,538.90L474.46,533.41L484.45,528.91L494.43,525.17L504.42,522.67L514.40,521.42L524.39,520.92L534.37,521.42L544.36,522.67L554.34,525.17L564.33,528.91L574.31,533.91L584.30,540.15L594.28,545.89L604.27,551.38L612.51,554.38L612.51,570.10L605.77,568.85L586.80,564.36L570.82,560.87L556.84,556.37L541.86,553.38L526.88,551.88L511.91,552.63L499.42,555.12L489.44,560.12L485.69,574.10L454.49,574.10Z" fill="#1f77b4" fill-opacity="0.20" stroke="none"/>
<path d="M454.49,536.40L464.47,531.41L474.46,525.17L484.45,518.93L494.43,513.93L504.42,510.94L514.40,509.44L524.39,509.69L534.37,510.94L544.36,512.69L554.34,515.18L564.33,518.93L574.31,522.67L584.30,528.91L594.28,533.91L604.27,537.65L612.51,538.90L612.51,568.35L605.77,566.61L586.80,560.12L570.82,555.12L556.84,551.38L541.86,548.88L526.88,547.64L511.91,548.38L496.93,552.63L488.19,558.87L484.45,574.10L454.49,574.10Z" fill="#e67d14" fill-opacity="0.20" stroke="none"/>
<path d="M454.49,557.62C456.15,556.79 461.15,554.17 464.47,552.63C467.80,551.09 471.13,549.55 474.46,548.38C477.79,547.22 481.12,546.30 484.45,545.64C487.77,544.97 491.10,544.68 494.43,544.39C497.76,544.10 501.09,543.97 504.42,543.89C507.74,543.81 511.07,543.77 514.40,543.89C517.73,544.02 521.06,544.22 524.39,544.64C527.72,545.06 531.04,545.76 534.37,546.39C537.70,547.01 541.03,547.55 544.36,548.38C547.69,549.22 551.01,550.26 554.34,551.38C557.67,552.50 561.00,553.88 564.33,555.12C567.66,556.37 570.99,557.62 574.31,558.87C577.64,560.12 580.97,561.45 584.30,562.61C587.63,563.78 590.96,564.90 594.28,565.86C597.61,566.82 601.23,567.69 604.27,568.35C607.31,569.02 611.14,569.60 612.51,569.85" fill="none" stroke="#2ca02c" stroke-width="1.5" stroke-linejoin="round"/>
<path d="M454.49,556.37C456.15,555.33 461.15,552.00 464.47,550.13C467.80,548.26 471.13,546.59 474.46,545.14C477.79,543.68 481.12,542.43 484.45,541.39C487.77,540.35 491.10,539.65 494.43,538.90C497.76,538.15 501.09,537.40 504.42,536.90C507.74,536.40 511.07,536.07 514.40,535.90C517.73,535.74 521.06,535.74 524.39,535.90C527.72,536.07 531.04,536.40 534.37,536.90C537.70,537.40 541.03,538.15 544.36,538.90C547.69,539.65 551.01,540.48 554.34,541.39C557.67,542.31 561.00,543.22 564.33,544.39C567.66,545.55 570.99,547.01 574.31,548.38C577.64,549.76 580.97,551.21 584.30,552.63C587.63,554.04 590.96,555.42 594.28,556.87C597.61,558.33 601.23,559.99 604.27,561.36C607.31,562.74 611.14,564.49 612.51,565.11" fill="none" stroke="#1f77b4" stroke-width="1.5" stroke-linejoin="round"/>
<path d="M454.49,557.62C456.15,556.16 461.15,551.59 464.47,548.88C467.80,546.18 471.13,543.68 474.46,541.39C477.79,539.11 481.12,537.03 484.45,535.15C487.77,533.28 491.10,531.53 494.43,530.16C497.76,528.79 501.09,527.87 504.42,526.92C507.74,525.96 511.07,525.04 514.40,524.42C517.73,523.79 521.06,523.34 524.39,523.17C527.72,523.00 531.04,523.21 534.37,523.42C537.70,523.63 541.03,523.84 544.36,524.42C547.69,525.00 551.01,525.83 554.34,526.92C557.67,528.00 561.00,529.41 564.33,530.91C567.66,532.41 570.99,534.07 574.31,535.90C577.64,537.73 580.97,539.94 584.30,541.89C587.63,543.85 590.96,545.72 594.28,547.64C597.61,549.55 601.23,551.84 604.27,553.38C607.31,554.92 611.14,556.29 612.51,556.87" fill="none" stroke="#ff7f0e" stroke-width="1.5" stroke-linejoin="round"/>
</g>
<g clip-path="url(#c11x)">
<g fill="#2ca02c" fill-opacity="0.75" stroke="#444" stroke-width="0.70" stroke-opacity="0.70"><circle cx="454.60" cy="535.09" r="1.50"/><circle cx="460.92" cy="531.73" r="1.50"/><circle cx="467.23" cy="528.51" r="1.50"/><circle cx="473.55" cy="525.15" r="1.50"/><circle cx="479.86" cy="522.56" r="1.50"/><circle cx="486.18" cy="520.31" r="1.50"/><circle cx="492.50" cy="518.97" r="1.50"/><circle cx="498.81" cy="518.14" r="1.50"/><circle cx="505.13" cy="518.09" r="1.50"/><circle cx="511.44" cy="518.51" r="1.50"/><circle cx="517.76" cy="519.43" r="1.50"/><circle cx="524.08" cy="519.88" r="1.50"/><circle cx="530.39" cy="520.86" r="1.50"/><circle cx="536.71" cy="522.34" r="1.50"/><circle cx="543.02" cy="523.76" r="1.50"/><circle cx="549.34" cy="525.49" r="1.50"/><circle cx="555.66" cy="527.74" r="1.50"/><circle cx="561.97" cy="529.88" r="1.50"/><circle cx="568.29" cy="532.12" r="1.50"/><circle cx="574.60" cy="534.87" r="1.50"/><circle cx="580.92" cy="537.87" r="1.50"/><circle cx="587.24" cy="540.01" r="1.50"/><circle cx="593.55" cy="542.25" r="1.50"/><circle cx="599.87" cy="544.49" r="1.50"/><circle cx="606.18" cy="546.15" r="1.50"/><circle cx="612.50" cy="547.63" r="1.50"/></g>
<g fill="#1f77b4" fill-opacity="0.75" stroke="#444" stroke-width="0.70" stroke-opacity="0.70"><circle cx="454.60" cy="531.85" r="1.50"/><circle cx="460.92" cy="528.31" r="1.50"/><circle cx="467.23" cy="524.92" r="1.50"/><circle cx="473.55" cy="521.38" r="1.50"/><circle cx="479.86" cy="518.61" r="1.50"/><circle cx="486.18" cy="516.19" r="1.50"/><circle cx="492.50" cy="514.67" r="1.50"/><circle cx="498.81" cy="513.67" r="1.50"/><circle cx="505.13" cy="513.44" r="1.50"/><circle cx="511.44" cy="513.69" r="1.50"/><circle cx="517.76" cy="514.44" r="1.50"/><circle cx="524.08" cy="515.00" r="1.50"/><circle cx="530.39" cy="516.10" r="1.50"/><circle cx="536.71" cy="517.70" r="1.50"/><circle cx="543.02" cy="519.23" r="1.50"/><circle cx="549.34" cy="521.08" r="1.50"/><circle cx="555.66" cy="523.44" r="1.50"/><circle cx="561.97" cy="525.71" r="1.50"/><circle cx="568.29" cy="528.06" r="1.50"/><circle cx="574.60" cy="530.93" r="1.50"/><circle cx="580.92" cy="534.04" r="1.50"/><circle cx="587.24" cy="536.29" r="1.50"/><circle cx="593.55" cy="538.65" r="1.50"/><circle cx="599.87" cy="541.01" r="1.50"/><circle cx="606.18" cy="542.78" r="1.50"/><circle cx="612.50" cy="544.39" r="1.50"/></g>
<g fill="#ff7f0e" fill-opacity="0.75" stroke="#444" stroke-width="0.70" stroke-opacity="0.70"><circle cx="454.60" cy="528.85" r="1.50"/><circle cx="460.92" cy="525.06" r="1.50"/><circle cx="467.23" cy="521.42" r="1.50"/><circle cx="473.55" cy="517.63" r="1.50"/><circle cx="479.86" cy="514.61" r="1.50"/><circle cx="486.18" cy="511.94" r="1.50"/><circle cx="492.50" cy="510.17" r="1.50"/><circle cx="498.81" cy="508.92" r="1.50"/><circle cx="505.13" cy="508.44" r="1.50"/><circle cx="511.44" cy="508.44" r="1.50"/><circle cx="517.76" cy="508.95" r="1.50"/><circle cx="524.08" cy="509.68" r="1.50"/><circle cx="530.39" cy="510.94" r="1.50"/><circle cx="536.71" cy="512.71" r="1.50"/><circle cx="543.02" cy="514.41" r="1.50"/><circle cx="549.34" cy="516.43" r="1.50"/><circle cx="555.66" cy="518.95" r="1.50"/><circle cx="561.97" cy="521.38" r="1.50"/><circle cx="568.29" cy="523.90" r="1.50"/><circle cx="574.60" cy="526.94" r="1.50"/><circle cx="580.92" cy="530.21" r="1.50"/><circle cx="587.24" cy="532.63" r="1.50"/><circle cx="593.55" cy="535.16" r="1.50"/><circle cx="599.87" cy="537.68" r="1.50"/><circle cx="606.18" cy="539.62" r="1.50"/><circle cx="612.50" cy="541.39" r="1.50"/></g>
<path d="M454.60,541.33V544.58M460.92,537.54V541.22M467.23,533.90V538.00M473.55,530.11V534.64M479.86,527.09V532.04M486.18,524.42V529.80M492.50,522.66V528.46M498.81,521.40V527.63M505.13,520.93V527.57M511.44,520.93V528.00M517.76,521.43V528.92M524.08,522.16V529.36M530.39,523.42V530.34M536.71,525.19V531.83M543.02,526.89V533.24M549.34,528.91V534.98M555.66,531.43V537.22M561.97,533.86V539.37M568.29,536.39V541.61M574.60,539.42V544.36M580.92,542.69V547.35M587.24,545.12V549.49M593.55,547.64V551.73M599.87,550.16V553.97M606.18,552.10V555.63M612.50,553.87V557.12" stroke="#2ca02c" stroke-width="0.90" stroke-opacity="0.85" fill="none"/>
<path d="M453.30,525.61h2.6M453.30,544.58h2.6M459.62,522.25h2.6M459.62,541.22h2.6M465.93,519.03h2.6M465.93,538.00h2.6M472.25,515.67h2.6M472.25,534.64h2.6M478.56,513.07h2.6M478.56,532.04h2.6M484.88,510.83h2.6M484.88,529.80h2.6M491.20,509.48h2.6M491.20,528.46h2.6M497.51,508.66h2.6M497.51,527.63h2.6M503.83,508.60h2.6M503.83,527.57h2.6M510.14,509.03h2.6M510.14,528.00h2.6M516.46,509.95h2.6M516.46,528.92h2.6M522.78,510.39h2.6M522.78,529.36h2.6M529.09,511.37h2.6M529.09,530.34h2.6M535.41,512.86h2.6M535.41,531.83h2.6M541.72,514.27h2.6M541.72,533.24h2.6M548.04,516.01h2.6M548.04,534.98h2.6M554.36,518.25h2.6M554.36,537.22h2.6M560.67,520.40h2.6M560.67,539.37h2.6M566.99,522.64h2.6M566.99,541.61h2.6M573.30,525.39h2.6M573.30,544.36h2.6M579.62,528.38h2.6M579.62,547.35h2.6M585.94,530.52h2.6M585.94,549.49h2.6M592.25,532.76h2.6M592.25,551.73h2.6M598.57,535.00h2.6M598.57,553.97h2.6M604.88,536.66h2.6M604.88,555.63h2.6M611.20,538.15h2.6M611.20,557.12h2.6" stroke="#2ca02c" stroke-width="0.9" stroke-opacity="0.85" fill="none"/>
<path d="M454.60,541.33V541.83M460.92,537.54V538.29M467.23,533.90V534.90M473.55,530.11V531.37M479.86,527.09V528.59M486.18,524.42V526.18M492.50,522.66V524.66M498.81,521.40V523.66M505.13,520.93V523.43M511.44,520.93V523.68M517.76,521.43V524.43M524.08,522.16V524.99M530.39,523.42V526.08M536.71,525.19V527.69M543.02,526.89V529.22M549.34,528.91V531.07M555.66,531.43V533.43M561.97,533.86V535.69M568.29,536.39V538.05M574.60,539.42V540.91M580.92,542.69V544.02M587.24,545.12V546.28M593.55,547.64V548.64M599.87,550.16V551.00M606.18,552.10V552.77M612.50,553.87V554.37" stroke="#1f77b4" stroke-width="0.90" stroke-opacity="0.85" fill="none"/>
<path d="M453.30,521.86h2.6M453.30,541.83h2.6M459.62,518.32h2.6M459.62,538.29h2.6M465.93,514.93h2.6M465.93,534.90h2.6M472.25,511.40h2.6M472.25,531.37h2.6M478.56,508.62h2.6M478.56,528.59h2.6M484.88,506.20h2.6M484.88,526.18h2.6M491.20,504.69h2.6M491.20,524.66h2.6M497.51,503.69h2.6M497.51,523.66h2.6M503.83,503.46h2.6M503.83,523.43h2.6M510.14,503.71h2.6M510.14,523.68h2.6M516.46,504.46h2.6M516.46,524.43h2.6M522.78,505.02h2.6M522.78,524.99h2.6M529.09,506.11h2.6M529.09,526.08h2.6M535.41,507.72h2.6M535.41,527.69h2.6M541.72,509.25h2.6M541.72,529.22h2.6M548.04,511.10h2.6M548.04,531.07h2.6M554.36,513.46h2.6M554.36,533.43h2.6M560.67,515.72h2.6M560.67,535.69h2.6M566.99,518.08h2.6M566.99,538.05h2.6M573.30,520.94h2.6M573.30,540.91h2.6M579.62,524.05h2.6M579.62,544.02h2.6M585.94,526.31h2.6M585.94,546.28h2.6M592.25,528.67h2.6M592.25,548.64h2.6M598.57,531.02h2.6M598.57,551.00h2.6M604.88,532.80h2.6M604.88,552.77h2.6M611.20,534.40h2.6M611.20,554.37h2.6" stroke="#1f77b4" stroke-width="0.9" stroke-opacity="0.85" fill="none"/>
<path d="M454.60,516.36V541.33M460.92,512.58V537.54M467.23,508.93V533.90M473.55,505.15V530.11M479.86,502.13V527.09M486.18,499.46V524.42M492.50,497.69V522.66M498.81,496.44V521.40M505.13,495.96V520.93M511.44,495.96V520.93M517.76,496.47V521.43M524.08,497.20V522.16M530.39,498.46V523.42M536.71,500.23V525.19M543.02,501.93V526.89M549.34,503.95V528.91M555.66,506.47V531.43M561.97,508.90V533.86M568.29,511.42V536.39M574.60,514.45V539.42M580.92,517.73V542.69M587.24,520.15V545.12M593.55,522.68V547.64M599.87,525.20V550.16M606.18,527.14V552.10M612.50,528.91V553.87" stroke="#ff7f0e" stroke-width="1.00" stroke-opacity="0.85" fill="none"/>
<path d="M453.30,516.36h2.6M453.30,541.33h2.6M459.62,512.58h2.6M459.62,537.54h2.6M465.93,508.93h2.6M465.93,533.90h2.6M472.25,505.15h2.6M472.25,530.11h2.6M478.56,502.13h2.6M478.56,527.09h2.6M484.88,499.46h2.6M484.88,524.42h2.6M491.20,497.69h2.6M491.20,522.66h2.6M497.51,496.44h2.6M497.51,521.40h2.6M503.83,495.96h2.6M503.83,520.93h2.6M510.14,495.96h2.6M510.14,520.93h2.6M516.46,496.47h2.6M516.46,521.43h2.6M522.78,497.20h2.6M522.78,522.16h2.6M529.09,498.46h2.6M529.09,523.42h2.6M535.41,500.23h2.6M535.41,525.19h2.6M541.72,501.93h2.6M541.72,526.89h2.6M548.04,503.95h2.6M548.04,528.91h2.6M554.36,506.47h2.6M554.36,531.43h2.6M560.67,508.90h2.6M560.67,533.86h2.6M566.99,511.42h2.6M566.99,536.39h2.6M573.30,514.45h2.6M573.30,539.42h2.6M579.62,517.73h2.6M579.62,542.69h2.6M585.94,520.15h2.6M585.94,545.12h2.6M592.25,522.68h2.6M592.25,547.64h2.6M598.57,525.20h2.6M598.57,550.16h2.6M604.88,527.14h2.6M604.88,552.10h2.6M611.20,528.91h2.6M611.20,553.87h2.6" stroke="#ff7f0e" stroke-width="0.9" stroke-opacity="0.85" fill="none"/>
</g>
<clipPath id="c11x"><rect x="453.60" y="472.50" width="159.90" height="103.50"/></clipPath>
<path d="M454.60,474.50H612.50M454.60,474.50V574.00M454.60,574.00H612.50" stroke="#000" stroke-width="1.30" fill="none" stroke-linecap="square"/>
<path d="M612.50,474.50V574.00" stroke="#2a209a" stroke-width="1.70" fill="none" stroke-linecap="square"/>
<text x="454.60" y="585.20" font-size="8.20" fill="#222" text-anchor="middle" stroke="#222" stroke-width="0.16" textLength="9.67" lengthAdjust="spacingAndGlyphs">40</text>
<text x="517.76" y="585.20" font-size="8.20" fill="#222" text-anchor="middle" stroke="#222" stroke-width="0.16" textLength="9.67" lengthAdjust="spacingAndGlyphs">50</text>
<text x="580.92" y="585.20" font-size="8.20" fill="#222" text-anchor="middle" stroke="#222" stroke-width="0.16" textLength="9.67" lengthAdjust="spacingAndGlyphs">60</text>
<text x="450.40" y="576.30" font-size="6.50" fill="#222" text-anchor="end" stroke="#222" stroke-width="0.15" textLength="10.34" lengthAdjust="spacingAndGlyphs">0.0</text>
<text x="450.40" y="551.42" font-size="6.50" fill="#222" text-anchor="end" stroke="#222" stroke-width="0.15" textLength="10.34" lengthAdjust="spacingAndGlyphs">0.2</text>
<text x="450.40" y="526.55" font-size="6.50" fill="#222" text-anchor="end" stroke="#222" stroke-width="0.15" textLength="10.34" lengthAdjust="spacingAndGlyphs">0.4</text>
<text x="450.40" y="501.68" font-size="6.50" fill="#222" text-anchor="end" stroke="#222" stroke-width="0.15" textLength="10.34" lengthAdjust="spacingAndGlyphs">0.6</text>
<text x="450.40" y="476.80" font-size="6.50" fill="#222" text-anchor="end" stroke="#222" stroke-width="0.15" textLength="10.34" lengthAdjust="spacingAndGlyphs">0.8</text>
<path d="M454.60,574.00v2.4M517.76,574.00v2.4M580.92,574.00v2.4M454.60,574.00h-2.4M454.60,549.12h-2.4M454.60,524.25h-2.4M454.60,499.38h-2.4M454.60,474.50h-2.4" stroke="#000" stroke-width="0.7" fill="none"/>
<text x="616.70" y="576.30" font-size="6.50" fill="#4848f0" text-anchor="start" stroke="#4848f0" stroke-width="0.15" textLength="10.34" lengthAdjust="spacingAndGlyphs">0.0</text>
<text x="616.70" y="551.42" font-size="6.50" fill="#4848f0" text-anchor="start" stroke="#4848f0" stroke-width="0.15" textLength="10.34" lengthAdjust="spacingAndGlyphs">0.1</text>
<text x="616.70" y="526.55" font-size="6.50" fill="#4848f0" text-anchor="start" stroke="#4848f0" stroke-width="0.15" textLength="10.34" lengthAdjust="spacingAndGlyphs">0.2</text>
<text x="616.70" y="501.68" font-size="6.50" fill="#4848f0" text-anchor="start" stroke="#4848f0" stroke-width="0.15" textLength="10.34" lengthAdjust="spacingAndGlyphs">0.3</text>
<text x="616.70" y="476.80" font-size="6.50" fill="#4848f0" text-anchor="start" stroke="#4848f0" stroke-width="0.15" textLength="10.34" lengthAdjust="spacingAndGlyphs">0.4</text>
<path d="M612.50,574.00h2.4M612.50,549.12h2.4M612.50,524.25h2.4M612.50,499.38h2.4M612.50,474.50h2.4" stroke="#4848f0" stroke-width="0.7" fill="none"/>
<text x="533.55" y="470.10" font-size="9.40" fill="#111" text-anchor="middle" stroke="#111" stroke-width="0.25" textLength="26.00" lengthAdjust="spacingAndGlyphs">NA JJA</text>
<text x="436.57" y="524.25" font-size="6.60" fill="#222" text-anchor="middle" stroke="#222" stroke-width="0.15" transform="rotate(-90 436.57 524.25)" textLength="10.40" lengthAdjust="spacingAndGlyphs">PW</text>
<text x="635.44" y="524.25" font-size="7.00" fill="#4848f0" text-anchor="middle" stroke="#4848f0" stroke-width="0.15" transform="rotate(-90 635.44 524.25)" textLength="42.50" lengthAdjust="spacingAndGlyphs">dq_1000hpa</text>
<text x="533.55" y="594.50" font-size="6.50" fill="#222" text-anchor="middle" stroke="#222" stroke-width="0.15" textLength="26.30" lengthAdjust="spacingAndGlyphs">Latitude</text>
<text x="462.50" y="570.80" font-size="9.40" fill="#000" text-anchor="start" stroke="#000" stroke-width="0.10" font-weight="bold" textLength="26.90" lengthAdjust="spacingAndGlyphs">Δ = 40</text>
<clipPath id="c12"><rect x="29.80" y="640.40" width="157.90" height="99.10"/></clipPath>
<g clip-path="url(#c12)">
<path d="M29.74,736.10L46.96,734.85L59.45,727.36L66.93,721.12L74.42,712.39L81.91,709.89L89.40,712.39L96.89,719.88L104.38,728.61L116.86,734.85L131.84,738.60L186.76,739.60L186.76,739.60L109.37,739.35L99.39,736.85L91.90,733.61L84.41,731.86L76.92,732.86L69.43,735.35L59.45,739.10L29.74,739.60Z" fill="#2ca02c" fill-opacity="0.20" stroke="none"/>
<path d="M29.74,734.85L46.96,732.36L56.95,727.36L64.44,714.88L71.93,683.68L79.42,681.18L85.66,684.93L91.90,697.41L96.89,709.89L104.38,722.37L114.36,731.11L126.85,736.10L141.82,738.85L186.76,739.60L186.76,739.60L126.85,739.60L109.37,738.60L99.39,734.85L91.90,729.36L84.41,726.12L76.92,727.36L69.43,732.86L59.45,738.60L29.74,739.60Z" fill="#1f77b4" fill-opacity="0.20" stroke="none"/>
<path d="M29.74,729.86L41.97,728.61L51.96,726.12L56.95,719.88L60.69,709.89L61.94,701.15L65.69,697.41L69.43,674.94L73.18,662.46L76.92,658.72L81.91,659.96L86.91,667.45L91.90,679.93L96.89,694.91L101.88,707.39L106.88,717.38L114.36,723.62L121.85,729.86L129.34,733.61L136.83,736.85L146.82,738.60L161.80,739.35L186.76,739.60L186.76,739.60L121.85,739.60L106.88,737.35L99.39,732.36L91.90,724.87L84.41,721.12L76.92,722.87L69.43,729.86L59.45,737.85L29.74,739.60Z" fill="#e67d14" fill-opacity="0.20" stroke="none"/>
<path d="M29.74,737.35C31.78,737.14 38.27,736.60 41.97,736.10C45.67,735.60 49.04,734.98 51.96,734.35C54.87,733.73 56.95,733.73 59.45,732.36C61.94,730.98 64.44,727.99 66.93,726.12C69.43,724.24 72.14,722.29 74.42,721.12C76.71,719.96 79.00,719.50 80.66,719.13C82.33,718.75 83.16,718.54 84.41,718.88C85.66,719.21 86.70,719.92 88.15,721.12C89.61,722.33 91.27,724.33 93.15,726.12C95.02,727.91 97.10,730.19 99.39,731.86C101.68,733.52 103.96,735.06 106.88,736.10C109.79,737.14 113.12,737.60 116.86,738.10C120.61,738.60 125.18,738.89 129.34,739.10C133.50,739.31 132.26,739.26 141.82,739.35C151.39,739.43 179.27,739.56 186.76,739.60" fill="none" stroke="#2ca02c" stroke-width="1.5" stroke-linejoin="round"/>
<path d="M29.74,736.10C31.78,735.89 38.27,735.39 41.97,734.85C45.67,734.31 49.04,733.69 51.96,732.86C54.87,732.02 56.95,731.61 59.45,729.86C61.94,728.11 64.44,724.87 66.93,722.37C69.43,719.88 72.14,716.76 74.42,714.88C76.71,713.01 79.00,711.85 80.66,711.14C82.33,710.43 83.16,710.31 84.41,710.64C85.66,710.97 86.70,711.60 88.15,713.14C89.61,714.68 91.27,717.50 93.15,719.88C95.02,722.25 97.10,725.08 99.39,727.36C101.68,729.65 103.96,732.02 106.88,733.61C109.79,735.19 113.12,736.02 116.86,736.85C120.61,737.68 125.18,738.18 129.34,738.60C133.50,739.01 132.26,739.18 141.82,739.35C151.39,739.51 179.27,739.56 186.76,739.60" fill="none" stroke="#1f77b4" stroke-width="1.5" stroke-linejoin="round"/>
<path d="M29.74,733.61C31.78,733.40 38.27,732.98 41.97,732.36C45.67,731.73 49.04,730.90 51.96,729.86C54.87,728.82 56.95,728.20 59.45,726.12C61.94,724.04 64.44,720.50 66.93,717.38C69.43,714.26 72.14,710.22 74.42,707.39C76.71,704.56 79.00,701.74 80.66,700.40C82.33,699.07 83.16,699.16 84.41,699.41C85.66,699.66 86.70,700.15 88.15,701.90C89.61,703.65 91.27,706.89 93.15,709.89C95.02,712.89 97.10,716.76 99.39,719.88C101.68,723.00 103.96,726.20 106.88,728.61C109.79,731.03 113.12,732.90 116.86,734.35C120.61,735.81 125.18,736.60 129.34,737.35C133.50,738.10 137.25,738.52 141.82,738.85C146.40,739.18 149.31,739.22 156.80,739.35C164.29,739.47 181.77,739.56 186.76,739.60" fill="none" stroke="#ff7f0e" stroke-width="1.5" stroke-linejoin="round"/>
<path d="M29.74,679.93C31.73,678.69 37.74,674.73 41.67,672.45C45.61,670.16 49.46,667.87 53.35,666.20C57.25,664.54 61.94,663.21 65.04,662.46C68.13,661.71 69.61,661.71 71.93,661.71C74.24,661.71 76.17,660.63 78.92,662.46C81.66,664.29 85.27,668.46 88.40,672.69C91.54,676.93 94.83,683.03 97.74,687.90C100.65,692.77 102.22,696.84 105.88,701.90C109.53,706.96 115.44,713.78 119.68,718.25C123.93,722.73 127.45,726.23 131.34,728.76C135.23,731.29 139.55,732.58 143.05,733.43C146.54,734.28 148.81,734.62 152.31,733.86C155.81,733.09 160.13,730.86 164.04,728.86C167.95,726.87 171.78,724.51 175.78,721.87C179.77,719.23 185.97,714.49 188.01,713.01" fill="none" stroke="#2ca02c" stroke-width="1.5" stroke-dasharray="4.8 2.1"/>
<path d="M29.74,679.93C31.73,678.56 37.74,674.19 41.67,671.70C45.61,669.20 49.46,666.66 53.35,664.96C57.25,663.25 61.94,662.17 65.04,661.46C68.13,660.75 69.61,660.75 71.93,660.71C74.24,660.67 76.17,659.60 78.92,661.21C81.66,662.82 85.27,666.51 88.40,670.37C91.54,674.23 94.47,679.71 97.74,684.38C101.01,689.05 104.34,693.34 108.00,698.41C111.66,703.47 115.79,710.28 119.68,714.76C123.57,719.24 127.45,722.35 131.34,725.27C135.23,728.19 139.54,730.92 143.05,732.28C146.56,733.64 148.89,734.02 152.38,733.43C155.88,732.84 160.14,730.71 164.04,728.76C167.94,726.82 171.78,724.40 175.78,721.77C179.77,719.15 185.97,714.47 188.01,713.01" fill="none" stroke="#1f77b4" stroke-width="1.5" stroke-dasharray="4.8 2.1"/>
<path d="M29.74,677.94C31.73,676.48 37.74,672.02 41.67,669.20C45.61,666.38 49.46,663.45 53.35,661.01C57.25,658.58 61.53,656.05 65.04,654.60C68.54,653.14 71.45,652.17 74.37,652.27C77.29,652.37 79.83,653.35 82.56,655.20C85.29,657.04 87.83,659.47 90.75,663.36C93.67,667.25 97.21,673.86 100.09,678.54C102.96,683.21 104.73,686.36 108.00,691.42C111.27,696.48 115.79,703.83 119.68,708.89C123.57,713.95 127.45,718.27 131.34,721.77C135.23,725.28 139.35,728.09 143.05,729.94C146.75,731.78 150.06,732.86 153.56,732.86C157.06,732.86 160.34,731.39 164.04,729.94C167.75,728.48 171.78,726.17 175.78,724.12C179.77,722.07 185.97,718.71 188.01,717.63" fill="none" stroke="#ff7f0e" stroke-width="1.5" stroke-dasharray="4.8 2.1"/>
</g>
<path d="M29.80,640.40H187.70M29.80,640.40V739.50M29.80,739.50H187.70" stroke="#000" stroke-width="1.30" fill="none" stroke-linecap="square"/>
<path d="M187.70,640.40V739.50" stroke="#000" stroke-width="1.30" fill="none" stroke-linecap="square"/>
<text x="29.80" y="750.70" font-size="8.20" fill="#222" text-anchor="middle" stroke="#222" stroke-width="0.16" textLength="9.67" lengthAdjust="spacingAndGlyphs">15</text>
<text x="89.01" y="750.70" font-size="8.20" fill="#222" text-anchor="middle" stroke="#222" stroke-width="0.16" textLength="9.67" lengthAdjust="spacingAndGlyphs">30</text>
<text x="148.22" y="750.70" font-size="8.20" fill="#222" text-anchor="middle" stroke="#222" stroke-width="0.16" textLength="9.67" lengthAdjust="spacingAndGlyphs">45</text>
<text x="25.60" y="741.80" font-size="6.50" fill="#222" text-anchor="end" stroke="#222" stroke-width="0.15" textLength="10.34" lengthAdjust="spacingAndGlyphs">0.0</text>
<text x="25.60" y="725.28" font-size="6.50" fill="#222" text-anchor="end" stroke="#222" stroke-width="0.15" textLength="10.34" lengthAdjust="spacingAndGlyphs">0.5</text>
<text x="25.60" y="708.77" font-size="6.50" fill="#222" text-anchor="end" stroke="#222" stroke-width="0.15" textLength="10.34" lengthAdjust="spacingAndGlyphs">1.0</text>
<text x="25.60" y="692.25" font-size="6.50" fill="#222" text-anchor="end" stroke="#222" stroke-width="0.15" textLength="10.34" lengthAdjust="spacingAndGlyphs">1.5</text>
<text x="25.60" y="675.73" font-size="6.50" fill="#222" text-anchor="end" stroke="#222" stroke-width="0.15" textLength="10.34" lengthAdjust="spacingAndGlyphs">2.0</text>
<text x="25.60" y="659.22" font-size="6.50" fill="#222" text-anchor="end" stroke="#222" stroke-width="0.15" textLength="10.34" lengthAdjust="spacingAndGlyphs">2.5</text>
<text x="25.60" y="642.70" font-size="6.50" fill="#222" text-anchor="end" stroke="#222" stroke-width="0.15" textLength="10.34" lengthAdjust="spacingAndGlyphs">3.0</text>
<path d="M29.80,739.50v2.4M89.01,739.50v2.4M148.22,739.50v2.4M29.80,739.50h-2.4M29.80,722.98h-2.4M29.80,706.47h-2.4M29.80,689.95h-2.4M29.80,673.43h-2.4M29.80,656.92h-2.4M29.80,640.40h-2.4" stroke="#000" stroke-width="0.7" fill="none"/>
<text x="191.90" y="732.65" font-size="6.50" fill="#222" text-anchor="start" stroke="#222" stroke-width="0.15" textLength="15.78" lengthAdjust="spacingAndGlyphs">−2.5</text>
<text x="191.90" y="717.09" font-size="6.50" fill="#222" text-anchor="start" stroke="#222" stroke-width="0.15" textLength="10.34" lengthAdjust="spacingAndGlyphs">0.0</text>
<text x="191.90" y="701.53" font-size="6.50" fill="#222" text-anchor="start" stroke="#222" stroke-width="0.15" textLength="10.34" lengthAdjust="spacingAndGlyphs">2.5</text>
<text x="191.90" y="685.96" font-size="6.50" fill="#222" text-anchor="start" stroke="#222" stroke-width="0.15" textLength="10.34" lengthAdjust="spacingAndGlyphs">5.0</text>
<text x="191.90" y="670.40" font-size="6.50" fill="#222" text-anchor="start" stroke="#222" stroke-width="0.15" textLength="10.34" lengthAdjust="spacingAndGlyphs">7.5</text>
<text x="191.90" y="654.84" font-size="6.50" fill="#222" text-anchor="start" stroke="#222" stroke-width="0.15" textLength="14.47" lengthAdjust="spacingAndGlyphs">10.0</text>
<path d="M187.70,730.35h2.4M187.70,714.79h2.4M187.70,699.23h2.4M187.70,683.66h2.4M187.70,668.10h2.4M187.70,652.54h2.4" stroke="#222" stroke-width="0.7" fill="none"/>
<text x="108.75" y="636.00" font-size="9.40" fill="#111" text-anchor="middle" stroke="#111" stroke-width="0.25" textLength="26.00" lengthAdjust="spacingAndGlyphs">EA DJF</text>
<text x="11.77" y="689.95" font-size="6.60" fill="#222" text-anchor="middle" stroke="#222" stroke-width="0.15" transform="rotate(-90 11.77 689.95)" textLength="9.40" lengthAdjust="spacingAndGlyphs">AR</text>
<text x="216.08" y="689.95" font-size="7.90" fill="#111" text-anchor="middle" stroke="#111" stroke-width="0.16" transform="rotate(-90 216.08 689.95)" textLength="59.00" lengthAdjust="spacingAndGlyphs">total transport</text>
<text x="108.75" y="760.00" font-size="6.50" fill="#222" text-anchor="middle" stroke="#222" stroke-width="0.15" textLength="26.30" lengthAdjust="spacingAndGlyphs">Latitude</text>
<clipPath id="c13"><rect x="243.20" y="640.40" width="158.10" height="99.10"/></clipPath>
<g clip-path="url(#c13)">
<path d="M241.99,694.91L249.98,687.42L259.96,682.43L272.45,677.44L284.93,676.94L297.41,678.69L309.89,682.43L322.37,688.67L334.85,694.91L347.34,703.65L359.82,712.39L372.30,721.12L384.78,728.61L401.26,735.35L401.26,738.35L392.27,736.35L379.79,733.61L367.31,730.36L354.82,726.87L342.34,722.87L330.61,719.38L319.88,714.38L309.89,710.39L301.40,707.89L292.42,709.89L284.93,709.14L277.44,709.89L267.45,711.14L257.47,714.88L241.99,729.86Z" fill="#2ca02c" fill-opacity="0.20" stroke="none"/>
<path d="M241.99,687.42L249.98,679.93L259.96,674.94L269.95,672.45L279.93,669.95L289.92,668.70L299.91,667.45L309.89,669.95L319.88,674.94L329.86,679.93L339.85,687.42L349.83,694.91L359.82,702.40L369.80,709.89L379.79,717.38L389.77,724.87L401.26,731.86L401.26,736.85L392.27,734.35L379.79,731.11L367.31,726.87L354.82,722.37L342.34,717.38L330.61,712.39L319.88,707.39L309.89,703.65L301.40,700.40L294.91,702.40L284.93,700.40L272.45,702.90L257.47,709.14L241.99,721.12Z" fill="#1f77b4" fill-opacity="0.20" stroke="none"/>
<path d="M241.99,689.92L249.98,682.43L259.96,669.95L269.95,662.46L279.93,653.72L287.42,651.23L294.91,647.48L301.15,644.99L307.39,649.98L314.88,654.97L322.37,659.96L329.86,664.96L337.35,669.95L344.84,676.19L352.33,682.43L359.82,687.42L367.31,693.66L374.80,699.91L382.28,704.90L389.77,711.14L401.26,721.12L401.26,735.35L392.27,732.36L379.79,727.86L367.31,722.37L354.82,717.38L342.34,712.39L330.61,707.39L319.88,701.15L309.89,698.66L301.40,694.66L292.42,697.41L284.93,694.91L272.45,698.66L257.47,707.39L241.99,719.88Z" fill="#e67d14" fill-opacity="0.20" stroke="none"/>
<path d="M241.99,707.39C243.32,706.35 246.98,702.82 249.98,701.15C252.97,699.49 256.64,698.32 259.96,697.41C263.29,696.49 266.62,696.16 269.95,695.66C273.28,695.16 276.61,694.62 279.93,694.41C283.26,694.21 286.59,694.21 289.92,694.41C293.25,694.62 296.58,695.16 299.91,695.66C303.23,696.16 306.56,696.49 309.89,697.41C313.22,698.32 316.55,699.91 319.88,701.15C323.20,702.40 326.53,703.52 329.86,704.90C333.19,706.27 336.52,707.73 339.85,709.39C343.18,711.06 346.50,713.14 349.83,714.88C353.16,716.63 356.49,718.29 359.82,719.88C363.15,721.46 366.47,722.91 369.80,724.37C373.13,725.83 376.46,727.20 379.79,728.61C383.12,730.03 386.20,731.53 389.77,732.86C393.35,734.19 399.34,735.98 401.26,736.60" fill="none" stroke="#2ca02c" stroke-width="1.5" stroke-linejoin="round"/>
<path d="M241.99,706.15C243.32,704.90 246.98,701.03 249.98,698.66C252.97,696.29 256.64,693.71 259.96,691.92C263.29,690.13 266.62,689.00 269.95,687.92C273.28,686.84 276.61,685.80 279.93,685.43C283.26,685.05 286.59,685.34 289.92,685.68C293.25,686.01 296.58,686.63 299.91,687.42C303.23,688.21 306.56,689.25 309.89,690.42C313.22,691.58 316.55,692.83 319.88,694.41C323.20,695.99 326.53,697.95 329.86,699.91C333.19,701.86 336.52,704.27 339.85,706.15C343.18,708.02 346.50,709.47 349.83,711.14C353.16,712.80 356.49,714.47 359.82,716.13C363.15,717.80 366.47,719.46 369.80,721.12C373.13,722.79 376.46,724.45 379.79,726.12C383.12,727.78 386.20,729.57 389.77,731.11C393.35,732.65 399.34,734.65 401.26,735.35" fill="none" stroke="#1f77b4" stroke-width="1.5" stroke-linejoin="round"/>
<path d="M241.99,707.39C243.32,705.73 246.98,700.74 249.98,697.41C252.97,694.08 256.64,690.54 259.96,687.42C263.29,684.30 266.62,681.18 269.95,678.69C273.28,676.19 277.02,673.78 279.93,672.45C282.85,671.11 284.51,670.99 287.42,670.70C290.34,670.41 294.50,670.41 297.41,670.70C300.32,670.99 301.99,671.61 304.90,672.45C307.81,673.28 311.55,674.23 314.88,675.69C318.21,677.15 321.54,679.23 324.87,681.18C328.20,683.14 331.53,685.34 334.85,687.42C338.18,689.50 341.51,691.50 344.84,693.66C348.17,695.83 351.50,698.12 354.82,700.40C358.15,702.69 361.48,705.19 364.81,707.39C368.14,709.60 371.47,711.55 374.80,713.64C378.12,715.72 381.87,718.00 384.78,719.88C387.69,721.75 389.52,723.29 392.27,724.87C395.02,726.45 399.76,728.61 401.26,729.36" fill="none" stroke="#ff7f0e" stroke-width="1.5" stroke-linejoin="round"/>
<path d="M241.99,727.36C243.32,725.70 246.98,720.92 249.98,717.38C252.97,713.84 256.64,709.89 259.96,706.15C263.29,702.40 266.62,698.53 269.95,694.91C273.28,691.29 276.61,687.63 279.93,684.43C283.26,681.22 286.59,678.31 289.92,675.69C293.25,673.07 296.58,670.70 299.91,668.70C303.23,666.70 306.56,664.96 309.89,663.71C313.22,662.46 316.55,661.84 319.88,661.21C323.20,660.59 326.53,660.17 329.86,659.96C333.19,659.76 336.52,659.80 339.85,659.96C343.18,660.13 346.50,660.55 349.83,660.96C353.16,661.38 356.49,661.79 359.82,662.46C363.15,663.13 366.47,664.04 369.80,664.96C373.13,665.87 376.46,666.91 379.79,667.95C383.12,668.99 386.20,670.03 389.77,671.20C393.35,672.36 399.34,674.32 401.26,674.94" fill="none" stroke="#2ca02c" stroke-width="1.5" stroke-dasharray="4.8 2.1"/>
<path d="M241.99,728.61C243.32,726.95 246.98,722.16 249.98,718.63C252.97,715.09 256.64,711.14 259.96,707.39C263.29,703.65 266.62,699.91 269.95,696.16C273.28,692.42 276.61,688.26 279.93,684.93C283.26,681.60 286.59,679.02 289.92,676.19C293.25,673.36 296.58,670.24 299.91,667.95C303.23,665.66 306.56,664.00 309.89,662.46C313.22,660.92 316.55,659.63 319.88,658.72C323.20,657.80 326.53,657.38 329.86,656.97C333.19,656.55 336.52,656.30 339.85,656.22C343.18,656.14 346.50,656.26 349.83,656.47C353.16,656.68 356.49,656.97 359.82,657.47C363.15,657.97 366.47,658.63 369.80,659.46C373.13,660.30 376.46,661.46 379.79,662.46C383.12,663.46 386.20,664.33 389.77,665.46C393.35,666.58 399.34,668.58 401.26,669.20" fill="none" stroke="#1f77b4" stroke-width="1.5" stroke-dasharray="4.8 2.1"/>
<path d="M241.99,732.36C243.32,730.69 246.98,726.12 249.98,722.37C252.97,718.63 256.64,713.84 259.96,709.89C263.29,705.94 266.62,702.61 269.95,698.66C273.28,694.70 276.61,689.92 279.93,686.18C283.26,682.43 286.59,679.31 289.92,676.19C293.25,673.07 296.58,669.95 299.91,667.45C303.23,664.96 306.56,663.08 309.89,661.21C313.22,659.34 316.55,657.59 319.88,656.22C323.20,654.85 326.53,653.85 329.86,652.97C333.19,652.10 336.52,651.48 339.85,650.98C343.18,650.48 346.50,650.14 349.83,649.98C353.16,649.81 356.49,649.89 359.82,649.98C363.15,650.06 366.47,650.14 369.80,650.48C373.13,650.81 376.46,651.39 379.79,651.98C383.12,652.56 386.20,653.06 389.77,653.97C393.35,654.89 399.34,656.88 401.26,657.47" fill="none" stroke="#ff7f0e" stroke-width="1.5" stroke-dasharray="4.8 2.1"/>
</g>
<path d="M243.20,640.40H401.30M243.20,640.40V739.50M243.20,739.50H401.30" stroke="#000" stroke-width="1.30" fill="none" stroke-linecap="square"/>
<path d="M401.30,640.40V739.50" stroke="#000" stroke-width="1.30" fill="none" stroke-linecap="square"/>
<text x="243.20" y="750.70" font-size="8.20" fill="#222" text-anchor="middle" stroke="#222" stroke-width="0.16" textLength="9.67" lengthAdjust="spacingAndGlyphs">30</text>
<text x="295.90" y="750.70" font-size="8.20" fill="#222" text-anchor="middle" stroke="#222" stroke-width="0.16" textLength="9.67" lengthAdjust="spacingAndGlyphs">40</text>
<text x="348.60" y="750.70" font-size="8.20" fill="#222" text-anchor="middle" stroke="#222" stroke-width="0.16" textLength="9.67" lengthAdjust="spacingAndGlyphs">50</text>
<text x="401.30" y="750.70" font-size="8.20" fill="#222" text-anchor="middle" stroke="#222" stroke-width="0.16" textLength="9.67" lengthAdjust="spacingAndGlyphs">60</text>
<text x="239.00" y="741.80" font-size="6.50" fill="#222" text-anchor="end" stroke="#222" stroke-width="0.15" textLength="4.13" lengthAdjust="spacingAndGlyphs">0</text>
<text x="239.00" y="721.98" font-size="6.50" fill="#222" text-anchor="end" stroke="#222" stroke-width="0.15" textLength="4.13" lengthAdjust="spacingAndGlyphs">2</text>
<text x="239.00" y="702.16" font-size="6.50" fill="#222" text-anchor="end" stroke="#222" stroke-width="0.15" textLength="4.13" lengthAdjust="spacingAndGlyphs">4</text>
<text x="239.00" y="682.34" font-size="6.50" fill="#222" text-anchor="end" stroke="#222" stroke-width="0.15" textLength="4.13" lengthAdjust="spacingAndGlyphs">6</text>
<text x="239.00" y="662.52" font-size="6.50" fill="#222" text-anchor="end" stroke="#222" stroke-width="0.15" textLength="4.13" lengthAdjust="spacingAndGlyphs">8</text>
<text x="239.00" y="642.70" font-size="6.50" fill="#222" text-anchor="end" stroke="#222" stroke-width="0.15" textLength="8.27" lengthAdjust="spacingAndGlyphs">10</text>
<path d="M243.20,739.50v2.4M295.90,739.50v2.4M348.60,739.50v2.4M401.30,739.50v2.4M243.20,739.50h-2.4M243.20,719.68h-2.4M243.20,699.86h-2.4M243.20,680.04h-2.4M243.20,660.22h-2.4M243.20,640.40h-2.4" stroke="#000" stroke-width="0.7" fill="none"/>
<text x="405.50" y="735.90" font-size="6.50" fill="#222" text-anchor="start" stroke="#222" stroke-width="0.15" textLength="13.71" lengthAdjust="spacingAndGlyphs">−10</text>
<text x="405.50" y="720.36" font-size="6.50" fill="#222" text-anchor="start" stroke="#222" stroke-width="0.15" textLength="9.58" lengthAdjust="spacingAndGlyphs">−5</text>
<text x="405.50" y="704.83" font-size="6.50" fill="#222" text-anchor="start" stroke="#222" stroke-width="0.15" textLength="4.13" lengthAdjust="spacingAndGlyphs">0</text>
<text x="405.50" y="689.30" font-size="6.50" fill="#222" text-anchor="start" stroke="#222" stroke-width="0.15" textLength="4.13" lengthAdjust="spacingAndGlyphs">5</text>
<text x="405.50" y="673.77" font-size="6.50" fill="#222" text-anchor="start" stroke="#222" stroke-width="0.15" textLength="8.27" lengthAdjust="spacingAndGlyphs">10</text>
<text x="405.50" y="658.23" font-size="6.50" fill="#222" text-anchor="start" stroke="#222" stroke-width="0.15" textLength="8.27" lengthAdjust="spacingAndGlyphs">15</text>
<text x="405.50" y="642.70" font-size="6.50" fill="#222" text-anchor="start" stroke="#222" stroke-width="0.15" textLength="8.27" lengthAdjust="spacingAndGlyphs">20</text>
<path d="M401.30,733.60h2.4M401.30,718.06h2.4M401.30,702.53h2.4M401.30,687.00h2.4M401.30,671.47h2.4M401.30,655.93h2.4M401.30,640.40h2.4" stroke="#222" stroke-width="0.7" fill="none"/>
<text x="322.25" y="636.00" font-size="9.40" fill="#111" text-anchor="middle" stroke="#111" stroke-width="0.25" textLength="26.00" lengthAdjust="spacingAndGlyphs">NP DJF</text>
<text x="227.23" y="689.95" font-size="6.60" fill="#222" text-anchor="middle" stroke="#222" stroke-width="0.15" transform="rotate(-90 227.23 689.95)" textLength="9.40" lengthAdjust="spacingAndGlyphs">AR</text>
<text x="427.61" y="689.95" font-size="7.90" fill="#111" text-anchor="middle" stroke="#111" stroke-width="0.16" transform="rotate(-90 427.61 689.95)" textLength="59.00" lengthAdjust="spacingAndGlyphs">total transport</text>
<text x="322.25" y="760.00" font-size="6.50" fill="#222" text-anchor="middle" stroke="#222" stroke-width="0.15" textLength="26.30" lengthAdjust="spacingAndGlyphs">Latitude</text>
<clipPath id="c14"><rect x="456.60" y="640.40" width="158.10" height="99.10"/></clipPath>
<g clip-path="url(#c14)">
<path d="M456.49,691.17L470.47,687.92L484.45,687.92L499.67,689.42L514.40,690.42L528.88,691.17L541.86,692.92L551.85,697.41L561.83,706.15L571.82,714.38L581.80,721.12L591.79,726.12L601.77,731.11L614.26,735.35L614.26,738.85L601.77,737.60L589.29,735.60L576.81,733.36L564.33,730.36L550.85,726.62L539.36,723.12L528.88,720.87L514.40,718.88L499.67,717.63L484.45,718.13L470.47,719.38L456.49,721.12Z" fill="#2ca02c" fill-opacity="0.20" stroke="none"/>
<path d="M456.49,674.94L466.97,672.45L476.96,671.95L486.94,672.94L496.93,673.69L506.91,675.44L516.90,677.44L521.89,677.94L529.38,681.18L536.87,684.93L546.85,691.17L556.84,698.66L566.82,706.15L576.81,712.39L586.80,717.38L596.78,721.12L606.77,727.36L614.26,732.36L614.26,737.35L601.77,734.85L589.29,731.61L576.81,727.86L564.33,723.62L550.85,718.63L539.36,714.88L528.88,712.14L514.40,709.89L499.67,708.39L484.45,709.14L470.47,709.89L456.49,711.14Z" fill="#1f77b4" fill-opacity="0.20" stroke="none"/>
<path d="M456.49,657.47L464.47,652.97L471.96,651.98L479.45,652.97L486.94,654.47L494.43,654.97L501.92,657.47L509.41,661.21L516.90,664.46L521.89,666.20L526.88,664.46L531.88,669.95L539.36,677.44L546.85,684.93L554.34,691.17L561.83,696.16L569.32,699.41L574.31,700.40L579.31,703.65L586.80,707.39L594.28,711.14L601.77,714.88L609.26,719.88L614.26,723.62L614.26,736.10L601.77,732.36L589.29,727.86L576.81,722.87L564.33,717.38L550.85,711.39L539.36,707.39L528.88,704.90L514.40,703.65L499.67,701.90L484.45,702.90L470.47,703.40L456.49,704.90Z" fill="#e67d14" fill-opacity="0.20" stroke="none"/>
<path d="M456.49,703.65C457.82,703.44 461.48,702.73 464.47,702.40C467.47,702.07 471.13,701.82 474.46,701.65C477.79,701.49 481.12,701.40 484.45,701.40C487.77,701.40 491.10,701.49 494.43,701.65C497.76,701.82 501.09,701.94 504.42,702.40C507.74,702.86 511.07,703.65 514.40,704.40C517.73,705.15 521.06,705.98 524.39,706.89C527.72,707.81 531.04,708.77 534.37,709.89C537.70,711.01 541.03,712.39 544.36,713.64C547.69,714.88 551.01,716.13 554.34,717.38C557.67,718.63 561.00,719.96 564.33,721.12C567.66,722.29 570.99,723.25 574.31,724.37C577.64,725.49 580.97,726.74 584.30,727.86C587.63,728.99 590.96,730.15 594.28,731.11C597.61,732.07 600.94,732.86 604.27,733.61C607.60,734.35 612.59,735.27 614.26,735.60" fill="none" stroke="#2ca02c" stroke-width="1.5" stroke-linejoin="round"/>
<path d="M456.49,699.41C457.82,698.86 461.48,696.99 464.47,696.16C467.47,695.33 471.13,694.83 474.46,694.41C477.79,694.00 481.12,693.75 484.45,693.66C487.77,693.58 491.10,693.79 494.43,693.91C497.76,694.04 501.50,694.04 504.42,694.41C507.33,694.79 509.41,695.45 511.91,696.16C514.40,696.87 516.48,697.70 519.39,698.66C522.31,699.61 526.05,700.65 529.38,701.90C532.71,703.15 536.04,704.73 539.36,706.15C542.69,707.56 546.02,709.02 549.35,710.39C552.68,711.76 556.01,713.01 559.34,714.38C562.66,715.76 565.99,717.21 569.32,718.63C572.65,720.04 575.98,721.50 579.31,722.87C582.64,724.24 585.96,725.62 589.29,726.87C592.62,728.11 595.95,729.24 599.28,730.36C602.61,731.48 606.77,732.86 609.26,733.61C611.76,734.35 613.42,734.65 614.26,734.85" fill="none" stroke="#1f77b4" stroke-width="1.5" stroke-linejoin="round"/>
<path d="M456.49,688.67C457.82,687.96 461.48,685.76 464.47,684.43C467.47,683.10 471.13,681.60 474.46,680.68C477.79,679.77 481.12,679.39 484.45,678.94C487.77,678.48 491.52,678.06 494.43,677.94C497.34,677.81 499.42,677.94 501.92,678.19C504.42,678.44 506.91,678.73 509.41,679.44C511.91,680.14 514.40,681.52 516.90,682.43C519.39,683.35 521.47,683.76 524.39,684.93C527.30,686.09 531.04,687.76 534.37,689.42C537.70,691.08 541.03,693.08 544.36,694.91C547.69,696.74 551.01,698.53 554.34,700.40C557.67,702.28 561.00,704.23 564.33,706.15C567.66,708.06 570.99,709.93 574.31,711.89C577.64,713.84 580.97,716.05 584.30,717.88C587.63,719.71 590.96,721.21 594.28,722.87C597.61,724.54 600.94,726.37 604.27,727.86C607.60,729.36 612.59,731.19 614.26,731.86" fill="none" stroke="#ff7f0e" stroke-width="1.5" stroke-linejoin="round"/>
<path d="M456.49,712.39C457.82,710.81 461.48,706.56 464.47,702.90C467.47,699.24 471.13,694.25 474.46,690.42C477.79,686.59 481.12,683.26 484.45,679.93C487.77,676.61 491.10,673.28 494.43,670.45C497.76,667.62 501.09,665.04 504.42,662.96C507.74,660.88 511.07,659.38 514.40,657.97C517.73,656.55 521.06,655.47 524.39,654.47C527.72,653.47 531.04,652.64 534.37,651.98C537.70,651.31 541.03,650.81 544.36,650.48C547.69,650.14 551.01,650.06 554.34,649.98C557.67,649.89 561.00,649.89 564.33,649.98C567.66,650.06 570.99,650.14 574.31,650.48C577.64,650.81 580.97,651.39 584.30,651.98C587.63,652.56 590.96,653.14 594.28,653.97C597.61,654.80 600.94,655.97 604.27,656.97C607.60,657.97 612.59,659.46 614.26,659.96" fill="none" stroke="#2ca02c" stroke-width="1.5" stroke-dasharray="4.8 2.1"/>
<path d="M456.49,716.88C457.82,715.30 461.48,711.06 464.47,707.39C467.47,703.73 471.13,698.86 474.46,694.91C477.79,690.96 481.12,687.22 484.45,683.68C487.77,680.14 491.10,676.61 494.43,673.69C497.76,670.78 501.09,668.28 504.42,666.20C507.74,664.12 511.07,662.58 514.40,661.21C517.73,659.84 521.06,658.80 524.39,657.97C527.72,657.13 531.04,656.72 534.37,656.22C537.70,655.72 541.03,655.18 544.36,654.97C547.69,654.76 551.01,654.80 554.34,654.97C557.67,655.14 561.00,655.47 564.33,655.97C567.66,656.47 570.99,657.30 574.31,657.97C577.64,658.63 580.97,659.30 584.30,659.96C587.63,660.63 590.96,661.25 594.28,661.96C597.61,662.67 600.94,663.50 604.27,664.21C607.60,664.91 612.59,665.87 614.26,666.20" fill="none" stroke="#1f77b4" stroke-width="1.5" stroke-dasharray="4.8 2.1"/>
<path d="M456.49,709.89C457.82,708.31 461.48,703.94 464.47,700.40C467.47,696.87 471.13,692.42 474.46,688.67C477.79,684.93 481.12,681.14 484.45,677.94C487.77,674.73 491.10,671.95 494.43,669.45C497.76,666.95 501.09,664.75 504.42,662.96C507.74,661.17 511.07,659.92 514.40,658.72C517.73,657.51 521.06,656.43 524.39,655.72C527.72,655.01 531.04,654.76 534.37,654.47C537.70,654.18 541.03,653.97 544.36,653.97C547.69,653.97 551.01,654.18 554.34,654.47C557.67,654.76 561.00,655.14 564.33,655.72C567.66,656.30 570.99,657.13 574.31,657.97C577.64,658.80 580.97,659.76 584.30,660.71C587.63,661.67 590.96,662.67 594.28,663.71C597.61,664.75 600.94,665.79 604.27,666.95C607.60,668.12 612.59,670.07 614.26,670.70" fill="none" stroke="#ff7f0e" stroke-width="1.5" stroke-dasharray="4.8 2.1"/>
</g>
<path d="M456.60,640.40H614.70M456.60,640.40V739.50M456.60,739.50H614.70" stroke="#000" stroke-width="1.30" fill="none" stroke-linecap="square"/>
<path d="M614.70,640.40V739.50" stroke="#000" stroke-width="1.30" fill="none" stroke-linecap="square"/>
<text x="456.60" y="750.70" font-size="8.20" fill="#222" text-anchor="middle" stroke="#222" stroke-width="0.16" textLength="9.67" lengthAdjust="spacingAndGlyphs">40</text>
<text x="519.84" y="750.70" font-size="8.20" fill="#222" text-anchor="middle" stroke="#222" stroke-width="0.16" textLength="9.67" lengthAdjust="spacingAndGlyphs">50</text>
<text x="583.08" y="750.70" font-size="8.20" fill="#222" text-anchor="middle" stroke="#222" stroke-width="0.16" textLength="9.67" lengthAdjust="spacingAndGlyphs">60</text>
<text x="452.40" y="741.80" font-size="6.50" fill="#222" text-anchor="end" stroke="#222" stroke-width="0.15" textLength="4.13" lengthAdjust="spacingAndGlyphs">0</text>
<text x="452.40" y="725.28" font-size="6.50" fill="#222" text-anchor="end" stroke="#222" stroke-width="0.15" textLength="4.13" lengthAdjust="spacingAndGlyphs">1</text>
<text x="452.40" y="708.77" font-size="6.50" fill="#222" text-anchor="end" stroke="#222" stroke-width="0.15" textLength="4.13" lengthAdjust="spacingAndGlyphs">2</text>
<text x="452.40" y="692.25" font-size="6.50" fill="#222" text-anchor="end" stroke="#222" stroke-width="0.15" textLength="4.13" lengthAdjust="spacingAndGlyphs">3</text>
<text x="452.40" y="675.73" font-size="6.50" fill="#222" text-anchor="end" stroke="#222" stroke-width="0.15" textLength="4.13" lengthAdjust="spacingAndGlyphs">4</text>
<text x="452.40" y="659.22" font-size="6.50" fill="#222" text-anchor="end" stroke="#222" stroke-width="0.15" textLength="4.13" lengthAdjust="spacingAndGlyphs">5</text>
<text x="452.40" y="642.70" font-size="6.50" fill="#222" text-anchor="end" stroke="#222" stroke-width="0.15" textLength="4.13" lengthAdjust="spacingAndGlyphs">6</text>
<path d="M456.60,739.50v2.4M519.84,739.50v2.4M583.08,739.50v2.4M456.60,739.50h-2.4M456.60,722.98h-2.4M456.60,706.47h-2.4M456.60,689.95h-2.4M456.60,673.43h-2.4M456.60,656.92h-2.4M456.60,640.40h-2.4" stroke="#000" stroke-width="0.7" fill="none"/>
<text x="618.90" y="741.80" font-size="6.50" fill="#222" text-anchor="start" stroke="#222" stroke-width="0.15" textLength="9.58" lengthAdjust="spacingAndGlyphs">−8</text>
<text x="618.90" y="727.64" font-size="6.50" fill="#222" text-anchor="start" stroke="#222" stroke-width="0.15" textLength="9.58" lengthAdjust="spacingAndGlyphs">−6</text>
<text x="618.90" y="713.49" font-size="6.50" fill="#222" text-anchor="start" stroke="#222" stroke-width="0.15" textLength="9.58" lengthAdjust="spacingAndGlyphs">−4</text>
<text x="618.90" y="699.33" font-size="6.50" fill="#222" text-anchor="start" stroke="#222" stroke-width="0.15" textLength="9.58" lengthAdjust="spacingAndGlyphs">−2</text>
<text x="618.90" y="685.17" font-size="6.50" fill="#222" text-anchor="start" stroke="#222" stroke-width="0.15" textLength="4.13" lengthAdjust="spacingAndGlyphs">0</text>
<text x="618.90" y="671.01" font-size="6.50" fill="#222" text-anchor="start" stroke="#222" stroke-width="0.15" textLength="4.13" lengthAdjust="spacingAndGlyphs">2</text>
<text x="618.90" y="656.86" font-size="6.50" fill="#222" text-anchor="start" stroke="#222" stroke-width="0.15" textLength="4.13" lengthAdjust="spacingAndGlyphs">4</text>
<text x="618.90" y="642.70" font-size="6.50" fill="#222" text-anchor="start" stroke="#222" stroke-width="0.15" textLength="4.13" lengthAdjust="spacingAndGlyphs">6</text>
<path d="M614.70,739.50h2.4M614.70,725.34h2.4M614.70,711.19h2.4M614.70,697.03h2.4M614.70,682.87h2.4M614.70,668.71h2.4M614.70,654.56h2.4M614.70,640.40h2.4" stroke="#222" stroke-width="0.7" fill="none"/>
<text x="535.65" y="636.00" font-size="9.40" fill="#111" text-anchor="middle" stroke="#111" stroke-width="0.25" textLength="26.00" lengthAdjust="spacingAndGlyphs">NA DJF</text>
<text x="444.77" y="689.95" font-size="6.60" fill="#222" text-anchor="middle" stroke="#222" stroke-width="0.15" transform="rotate(-90 444.77 689.95)" textLength="9.40" lengthAdjust="spacingAndGlyphs">AR</text>
<text x="636.88" y="689.95" font-size="7.90" fill="#111" text-anchor="middle" stroke="#111" stroke-width="0.16" transform="rotate(-90 636.88 689.95)" textLength="59.00" lengthAdjust="spacingAndGlyphs">total transport</text>
<text x="535.65" y="760.00" font-size="6.50" fill="#222" text-anchor="middle" stroke="#222" stroke-width="0.15" textLength="26.30" lengthAdjust="spacingAndGlyphs">Latitude</text>
<clipPath id="c15"><rect x="29.80" y="774.30" width="157.90" height="99.20"/></clipPath>
<g clip-path="url(#c15)">
<path d="M29.74,850.13L41.97,845.14L54.45,841.39L64.44,836.40L74.42,828.91L84.41,820.18L94.39,813.93L101.88,810.19L109.37,808.94L116.86,808.94L124.35,812.69L131.84,818.93L139.33,826.42L146.82,833.91L156.80,841.39L166.79,847.64L176.77,853.88L187.76,858.87L187.76,871.85L171.78,870.10L161.80,867.61L151.81,863.86L141.82,860.12L131.84,856.37L121.85,853.88L111.87,855.12L101.88,853.88L91.90,857.62L81.91,863.86L71.93,873.60L29.74,873.60Z" fill="#2ca02c" fill-opacity="0.20" stroke="none"/>
<path d="M29.74,848.88L41.97,843.89L54.45,840.15L64.44,835.15L71.93,826.42L79.42,816.43L86.91,806.45L94.39,797.71L101.88,795.21L108.12,801.45L114.36,798.96L120.61,796.46L126.85,801.45L134.34,806.45L141.82,813.93L149.31,821.42L156.80,828.91L166.79,838.90L176.77,848.88L187.76,856.37L187.76,868.85L171.78,866.36L159.30,862.61L149.31,858.87L139.33,853.88L129.34,851.38L119.36,847.64L111.87,851.38L104.38,848.88L96.89,851.38L86.91,858.87L76.92,866.36L66.93,873.60L29.74,873.60Z" fill="#1f77b4" fill-opacity="0.20" stroke="none"/>
<path d="M29.74,843.89L36.98,838.90L46.96,836.40L56.95,837.65L64.44,832.66L71.93,821.42L79.42,811.44L86.91,801.45L94.39,793.96L101.88,790.22L109.37,787.72L116.86,785.23L124.35,786.97L129.34,792.72L134.34,791.47L139.33,792.72L146.82,798.96L154.31,806.45L161.80,816.43L169.28,825.17L176.77,833.91L184.26,843.89L187.76,848.88L187.76,865.11L176.77,862.61L161.80,857.62L146.82,851.38L131.84,846.39L116.86,843.89L101.88,846.39L86.91,853.88L74.42,863.86L61.94,873.60L29.74,873.60Z" fill="#e67d14" fill-opacity="0.20" stroke="none"/>
<path d="M29.74,863.86C30.95,863.53 34.11,862.70 36.98,861.86C39.85,861.03 43.64,859.99 46.96,858.87C50.29,857.75 54.04,856.37 56.95,855.12C59.86,853.88 61.94,852.75 64.44,851.38C66.93,850.01 69.43,848.47 71.93,846.89C74.42,845.31 76.92,843.43 79.42,841.89C81.91,840.35 84.41,838.65 86.91,837.65C89.40,836.65 91.90,835.90 94.39,835.90C96.89,835.90 99.39,836.94 101.88,837.65C104.38,838.36 106.88,839.61 109.37,840.15C111.87,840.69 114.36,840.89 116.86,840.89C119.36,840.89 121.85,839.98 124.35,840.15C126.85,840.31 129.34,841.06 131.84,841.89C134.34,842.73 136.83,844.18 139.33,845.14C141.82,846.10 144.32,846.80 146.82,847.64C149.31,848.47 151.81,849.30 154.31,850.13C156.80,850.96 159.30,851.80 161.80,852.63C164.29,853.46 166.79,854.17 169.28,855.12C171.78,856.08 174.28,857.25 176.77,858.37C179.27,859.49 182.43,860.87 184.26,861.86C186.09,862.86 187.18,863.94 187.76,864.36" fill="none" stroke="#2ca02c" stroke-width="1.5" stroke-linejoin="round"/>
<path d="M29.74,863.36C30.95,863.03 34.11,862.20 36.98,861.36C39.85,860.53 43.64,859.62 46.96,858.37C50.29,857.12 54.04,855.46 56.95,853.88C59.86,852.29 61.94,850.63 64.44,848.88C66.93,847.14 69.43,845.26 71.93,843.39C74.42,841.52 76.92,839.44 79.42,837.65C81.91,835.86 84.41,833.70 86.91,832.66C89.40,831.62 91.90,831.41 94.39,831.41C96.89,831.41 99.39,832.24 101.88,832.66C104.38,833.07 106.88,833.78 109.37,833.91C111.87,834.03 114.36,833.32 116.86,833.41C119.36,833.49 121.85,833.82 124.35,834.40C126.85,834.99 129.34,835.94 131.84,836.90C134.34,837.86 136.83,839.06 139.33,840.15C141.82,841.23 144.32,842.35 146.82,843.39C149.31,844.43 151.81,845.39 154.31,846.39C156.80,847.39 159.30,848.43 161.80,849.38C164.29,850.34 166.79,851.17 169.28,852.13C171.78,853.09 174.28,854.00 176.77,855.12C179.27,856.25 182.43,857.91 184.26,858.87C186.09,859.83 187.18,860.53 187.76,860.87" fill="none" stroke="#1f77b4" stroke-width="1.5" stroke-linejoin="round"/>
<path d="M29.74,863.86C30.95,863.24 34.11,861.36 36.98,860.12C39.85,858.87 43.64,857.83 46.96,856.37C50.29,854.92 54.04,853.04 56.95,851.38C59.86,849.72 61.94,848.26 64.44,846.39C66.93,844.51 69.43,842.31 71.93,840.15C74.42,837.98 76.92,835.49 79.42,833.41C81.91,831.33 84.41,829.33 86.91,827.66C89.40,826.00 91.90,824.34 94.39,823.42C96.89,822.51 99.39,822.30 101.88,822.17C104.38,822.05 106.88,822.38 109.37,822.67C111.87,822.96 114.36,823.46 116.86,823.92C119.36,824.38 121.85,824.92 124.35,825.42C126.85,825.92 129.34,826.42 131.84,826.92C134.34,827.41 136.83,827.75 139.33,828.41C141.82,829.08 144.32,829.91 146.82,830.91C149.31,831.91 151.81,833.28 154.31,834.40C156.80,835.53 159.30,836.48 161.80,837.65C164.29,838.81 166.79,839.94 169.28,841.39C171.78,842.85 174.28,844.72 176.77,846.39C179.27,848.05 182.43,850.05 184.26,851.38C186.09,852.71 187.18,853.88 187.76,854.38" fill="none" stroke="#ff7f0e" stroke-width="1.5" stroke-linejoin="round"/>
<path d="M29.74,836.90C30.95,837.15 34.11,837.98 36.98,838.40C39.85,838.81 43.64,838.98 46.96,839.40C50.29,839.81 54.45,840.56 56.95,840.89C59.45,841.23 59.86,841.64 61.94,841.39C64.02,841.14 66.93,840.15 69.43,839.40C71.93,838.65 74.42,837.61 76.92,836.90C79.42,836.19 81.91,835.57 84.41,835.15C86.91,834.74 89.40,834.70 91.90,834.40C94.39,834.11 96.89,833.78 99.39,833.41C101.88,833.03 104.38,832.66 106.88,832.16C109.37,831.66 111.87,831.08 114.36,830.41C116.86,829.74 119.36,828.83 121.85,828.16C124.35,827.50 126.85,826.92 129.34,826.42C131.84,825.92 134.34,825.58 136.83,825.17C139.33,824.75 141.82,824.34 144.32,823.92C146.82,823.50 149.31,823.21 151.81,822.67C154.31,822.13 156.80,821.42 159.30,820.67C161.80,819.93 164.29,819.14 166.79,818.18C169.28,817.22 171.78,816.14 174.28,814.93C176.77,813.73 179.52,812.35 181.77,810.94C184.01,809.52 186.76,807.19 187.76,806.45" fill="none" stroke="#2ca02c" stroke-width="1.5" stroke-dasharray="4.8 2.1"/>
<path d="M29.74,837.65C30.95,837.86 34.11,838.48 36.98,838.90C39.85,839.31 43.64,839.73 46.96,840.15C50.29,840.56 54.45,841.10 56.95,841.39C59.45,841.69 59.86,842.10 61.94,841.89C64.02,841.69 66.93,840.85 69.43,840.15C71.93,839.44 74.42,838.48 76.92,837.65C79.42,836.82 81.91,835.78 84.41,835.15C86.91,834.53 89.40,834.32 91.90,833.91C94.39,833.49 96.89,832.99 99.39,832.66C101.88,832.32 104.38,832.32 106.88,831.91C109.37,831.49 111.87,830.87 114.36,830.16C116.86,829.45 119.36,828.37 121.85,827.66C124.35,826.96 126.85,826.46 129.34,825.92C131.84,825.38 134.34,824.84 136.83,824.42C139.33,824.00 141.82,823.79 144.32,823.42C146.82,823.05 149.31,822.71 151.81,822.17C154.31,821.63 156.80,820.92 159.30,820.18C161.80,819.43 164.29,818.64 166.79,817.68C169.28,816.72 171.78,815.68 174.28,814.43C176.77,813.19 179.52,811.60 181.77,810.19C184.01,808.78 186.76,806.65 187.76,805.95" fill="none" stroke="#1f77b4" stroke-width="1.5" stroke-dasharray="4.8 2.1"/>
<path d="M29.74,838.90C30.95,838.98 34.11,839.48 36.98,839.40C39.85,839.31 43.64,838.69 46.96,838.40C50.29,838.11 54.04,837.90 56.95,837.65C59.86,837.40 61.94,837.19 64.44,836.90C66.93,836.61 69.43,836.32 71.93,835.90C74.42,835.49 76.92,834.95 79.42,834.40C81.91,833.86 84.41,833.24 86.91,832.66C89.40,832.07 91.90,831.45 94.39,830.91C96.89,830.37 99.39,829.95 101.88,829.41C104.38,828.87 106.88,828.25 109.37,827.66C111.87,827.08 114.36,826.46 116.86,825.92C119.36,825.38 121.85,824.88 124.35,824.42C126.85,823.96 129.34,823.59 131.84,823.17C134.34,822.75 136.83,822.30 139.33,821.92C141.82,821.55 144.32,821.34 146.82,820.92C149.31,820.51 151.81,820.09 154.31,819.43C156.80,818.76 159.30,817.85 161.80,816.93C164.29,816.01 166.79,814.93 169.28,813.93C171.78,812.94 174.28,812.10 176.77,810.94C179.27,809.77 182.43,807.90 184.26,806.94C186.09,805.99 187.18,805.49 187.76,805.20" fill="none" stroke="#ff7f0e" stroke-width="1.5" stroke-dasharray="4.8 2.1"/>
</g>
<path d="M29.80,774.30H187.70M29.80,774.30V873.50M29.80,873.50H187.70" stroke="#000" stroke-width="1.30" fill="none" stroke-linecap="square"/>
<path d="M187.70,774.30V873.50" stroke="#000" stroke-width="1.30" fill="none" stroke-linecap="square"/>
<text x="29.80" y="884.70" font-size="8.20" fill="#222" text-anchor="middle" stroke="#222" stroke-width="0.16" textLength="9.67" lengthAdjust="spacingAndGlyphs">15</text>
<text x="89.01" y="884.70" font-size="8.20" fill="#222" text-anchor="middle" stroke="#222" stroke-width="0.16" textLength="9.67" lengthAdjust="spacingAndGlyphs">30</text>
<text x="148.22" y="884.70" font-size="8.20" fill="#222" text-anchor="middle" stroke="#222" stroke-width="0.16" textLength="9.67" lengthAdjust="spacingAndGlyphs">45</text>
<text x="25.60" y="875.80" font-size="6.50" fill="#222" text-anchor="end" stroke="#222" stroke-width="0.15" textLength="14.47" lengthAdjust="spacingAndGlyphs">0.00</text>
<text x="25.60" y="859.27" font-size="6.50" fill="#222" text-anchor="end" stroke="#222" stroke-width="0.15" textLength="14.47" lengthAdjust="spacingAndGlyphs">0.25</text>
<text x="25.60" y="842.73" font-size="6.50" fill="#222" text-anchor="end" stroke="#222" stroke-width="0.15" textLength="14.47" lengthAdjust="spacingAndGlyphs">0.50</text>
<text x="25.60" y="826.20" font-size="6.50" fill="#222" text-anchor="end" stroke="#222" stroke-width="0.15" textLength="14.47" lengthAdjust="spacingAndGlyphs">0.75</text>
<text x="25.60" y="809.67" font-size="6.50" fill="#222" text-anchor="end" stroke="#222" stroke-width="0.15" textLength="14.47" lengthAdjust="spacingAndGlyphs">1.00</text>
<text x="25.60" y="793.13" font-size="6.50" fill="#222" text-anchor="end" stroke="#222" stroke-width="0.15" textLength="14.47" lengthAdjust="spacingAndGlyphs">1.25</text>
<text x="25.60" y="776.60" font-size="6.50" fill="#222" text-anchor="end" stroke="#222" stroke-width="0.15" textLength="14.47" lengthAdjust="spacingAndGlyphs">1.50</text>
<path d="M29.80,873.50v2.4M89.01,873.50v2.4M148.22,873.50v2.4M29.80,873.50h-2.4M29.80,856.97h-2.4M29.80,840.43h-2.4M29.80,823.90h-2.4M29.80,807.37h-2.4M29.80,790.83h-2.4M29.80,774.30h-2.4" stroke="#000" stroke-width="0.7" fill="none"/>
<text x="191.90" y="875.80" font-size="6.50" fill="#222" text-anchor="start" stroke="#222" stroke-width="0.15" textLength="9.58" lengthAdjust="spacingAndGlyphs">−3</text>
<text x="191.90" y="851.00" font-size="6.50" fill="#222" text-anchor="start" stroke="#222" stroke-width="0.15" textLength="9.58" lengthAdjust="spacingAndGlyphs">−2</text>
<text x="191.90" y="826.20" font-size="6.50" fill="#222" text-anchor="start" stroke="#222" stroke-width="0.15" textLength="9.58" lengthAdjust="spacingAndGlyphs">−1</text>
<text x="191.90" y="801.40" font-size="6.50" fill="#222" text-anchor="start" stroke="#222" stroke-width="0.15" textLength="4.13" lengthAdjust="spacingAndGlyphs">0</text>
<text x="191.90" y="776.60" font-size="6.50" fill="#222" text-anchor="start" stroke="#222" stroke-width="0.15" textLength="4.13" lengthAdjust="spacingAndGlyphs">1</text>
<path d="M187.70,873.50h2.4M187.70,848.70h2.4M187.70,823.90h2.4M187.70,799.10h2.4M187.70,774.30h2.4" stroke="#222" stroke-width="0.7" fill="none"/>
<text x="108.75" y="769.90" font-size="9.40" fill="#111" text-anchor="middle" stroke="#111" stroke-width="0.25" textLength="26.00" lengthAdjust="spacingAndGlyphs">EA JJA</text>
<text x="7.63" y="823.90" font-size="6.60" fill="#222" text-anchor="middle" stroke="#222" stroke-width="0.15" transform="rotate(-90 7.63 823.90)" textLength="9.40" lengthAdjust="spacingAndGlyphs">AR</text>
<text x="209.88" y="823.90" font-size="7.90" fill="#111" text-anchor="middle" stroke="#111" stroke-width="0.16" transform="rotate(-90 209.88 823.90)" textLength="59.00" lengthAdjust="spacingAndGlyphs">total transport</text>
<text x="108.75" y="894.00" font-size="6.50" fill="#222" text-anchor="middle" stroke="#222" stroke-width="0.15" textLength="26.30" lengthAdjust="spacingAndGlyphs">Latitude</text>
<clipPath id="c16"><rect x="243.20" y="774.30" width="158.10" height="99.20"/></clipPath>
<g clip-path="url(#c16)">
<path d="M243.24,858.87L254.97,852.63L267.45,843.89L279.93,835.15L292.42,825.17L304.90,817.68L317.38,812.69L329.86,810.94L342.34,810.94L352.33,810.19L362.31,812.69L372.30,817.68L382.28,825.17L392.27,833.91L401.26,841.39L401.26,866.36L394.77,864.36L384.78,860.87L372.30,857.62L354.82,855.87L347.34,857.62L339.85,854.38L332.36,856.87L324.87,853.88L314.88,855.87L299.91,859.37L284.93,865.11L274.94,871.35L264.96,873.60L243.24,873.60Z" fill="#2ca02c" fill-opacity="0.20" stroke="none"/>
<path d="M243.24,866.36L254.97,858.87L267.45,848.88L279.93,837.65L292.42,825.17L304.90,813.93L314.88,807.69L324.87,803.95L334.85,801.45L344.84,798.96L354.82,797.71L364.81,798.96L374.80,803.95L384.78,813.93L394.77,826.42L401.26,833.91L401.26,861.86L394.77,859.37L384.78,855.12L372.30,851.38L354.82,849.38L347.34,851.88L339.85,848.38L332.36,851.38L324.87,848.38L314.88,850.13L299.91,853.88L284.93,860.12L274.94,867.61L259.96,873.35L243.24,873.60Z" fill="#1f77b4" fill-opacity="0.20" stroke="none"/>
<path d="M243.24,868.85L254.97,861.36L267.45,848.88L279.93,836.40L292.42,823.92L304.90,808.94L314.88,798.96L324.87,792.72L334.85,788.97L344.84,786.47L349.83,783.98L354.82,780.23L362.31,779.48L369.80,781.48L377.29,785.23L384.78,791.47L392.27,801.45L401.26,811.44L401.26,856.37L394.77,852.63L384.78,847.64L372.30,843.89L349.83,841.39L334.85,841.39L314.88,843.89L299.91,848.38L284.93,855.12L274.94,862.61L259.96,871.35L243.24,873.60Z" fill="#e67d14" fill-opacity="0.20" stroke="none"/>
<path d="M243.24,867.61C244.78,866.98 249.27,865.32 252.47,863.86C255.68,862.41 259.13,860.62 262.46,858.87C265.79,857.12 269.12,855.12 272.45,853.38C275.77,851.63 279.10,849.96 282.43,848.38C285.76,846.80 289.09,845.26 292.42,843.89C295.74,842.52 299.07,841.27 302.40,840.15C305.73,839.02 309.06,837.98 312.39,837.15C315.72,836.32 319.04,835.69 322.37,835.15C325.70,834.61 329.03,834.20 332.36,833.91C335.69,833.61 339.01,833.32 342.34,833.41C345.67,833.49 349.00,833.91 352.33,834.40C355.66,834.90 358.99,835.44 362.31,836.40C365.64,837.36 368.97,838.69 372.30,840.15C375.63,841.60 379.37,843.47 382.28,845.14C385.20,846.80 387.28,848.26 389.77,850.13C392.27,852.00 395.35,854.71 397.26,856.37C399.18,858.04 400.59,859.49 401.26,860.12" fill="none" stroke="#2ca02c" stroke-width="1.5" stroke-linejoin="round"/>
<path d="M243.24,866.36C244.78,865.86 249.27,864.69 252.47,863.36C255.68,862.03 259.13,860.16 262.46,858.37C265.79,856.58 269.12,854.62 272.45,852.63C275.77,850.63 279.10,848.26 282.43,846.39C285.76,844.51 289.09,843.14 292.42,841.39C295.74,839.65 299.07,837.57 302.40,835.90C305.73,834.24 309.06,832.66 312.39,831.41C315.72,830.16 319.04,829.12 322.37,828.41C325.70,827.71 329.03,827.58 332.36,827.16C335.69,826.75 339.01,826.12 342.34,825.92C345.67,825.71 349.00,825.71 352.33,825.92C355.66,826.12 358.99,826.46 362.31,827.16C365.64,827.87 368.97,828.83 372.30,830.16C375.63,831.49 379.37,833.28 382.28,835.15C385.20,837.03 387.28,839.11 389.77,841.39C392.27,843.68 395.35,846.89 397.26,848.88C399.18,850.88 400.59,852.63 401.26,853.38" fill="none" stroke="#1f77b4" stroke-width="1.5" stroke-linejoin="round"/>
<path d="M243.24,869.60C244.78,868.98 249.27,867.44 252.47,865.86C255.68,864.28 259.13,862.11 262.46,860.12C265.79,858.12 269.12,855.96 272.45,853.88C275.77,851.80 279.10,849.72 282.43,847.64C285.76,845.55 289.09,843.47 292.42,841.39C295.74,839.31 299.07,837.03 302.40,835.15C305.73,833.28 309.06,831.70 312.39,830.16C315.72,828.62 319.04,827.16 322.37,825.92C325.70,824.67 329.03,823.55 332.36,822.67C335.69,821.80 339.01,821.30 342.34,820.67C345.67,820.05 349.42,819.22 352.33,818.93C355.24,818.64 357.32,818.72 359.82,818.93C362.31,819.14 364.81,819.55 367.31,820.18C369.80,820.80 372.30,821.63 374.80,822.67C377.29,823.71 379.79,824.75 382.28,826.42C384.78,828.08 387.28,830.58 389.77,832.66C392.27,834.74 395.35,837.23 397.26,838.90C399.18,840.56 400.59,842.02 401.26,842.64" fill="none" stroke="#ff7f0e" stroke-width="1.5" stroke-linejoin="round"/>
<path d="M243.24,840.15C244.78,840.35 249.27,841.39 252.47,841.39C255.68,841.39 259.13,840.89 262.46,840.15C265.79,839.40 269.12,838.15 272.45,836.90C275.77,835.65 279.10,834.49 282.43,832.66C285.76,830.83 289.09,828.00 292.42,825.92C295.74,823.84 299.07,822.09 302.40,820.18C305.73,818.26 309.06,816.10 312.39,814.43C315.72,812.77 319.04,811.52 322.37,810.19C325.70,808.86 329.03,807.36 332.36,806.45C335.69,805.53 339.01,805.11 342.34,804.70C345.67,804.28 349.00,804.07 352.33,803.95C355.66,803.82 358.99,803.82 362.31,803.95C365.64,804.07 368.97,804.28 372.30,804.70C375.63,805.11 378.96,805.74 382.28,806.45C385.61,807.15 389.11,808.03 392.27,808.94C395.43,809.86 399.76,811.44 401.26,811.94" fill="none" stroke="#2ca02c" stroke-width="1.5" stroke-dasharray="4.8 2.1"/>
<path d="M243.24,839.40C244.78,839.61 249.27,840.65 252.47,840.65C255.68,840.65 259.13,840.10 262.46,839.40C265.79,838.69 269.12,837.52 272.45,836.40C275.77,835.28 279.10,834.32 282.43,832.66C285.76,830.99 289.09,828.70 292.42,826.42C295.74,824.13 299.07,821.09 302.40,818.93C305.73,816.76 309.06,815.10 312.39,813.44C315.72,811.77 319.04,810.19 322.37,808.94C325.70,807.69 329.03,806.69 332.36,805.95C335.69,805.20 339.01,804.86 342.34,804.45C345.67,804.03 349.00,803.66 352.33,803.45C355.66,803.24 358.99,803.12 362.31,803.20C365.64,803.28 368.97,803.49 372.30,803.95C375.63,804.41 378.96,805.11 382.28,805.95C385.61,806.78 389.11,807.94 392.27,808.94C395.43,809.94 399.76,811.44 401.26,811.94" fill="none" stroke="#1f77b4" stroke-width="1.5" stroke-dasharray="4.8 2.1"/>
<path d="M243.24,854.38C244.78,854.08 249.27,853.75 252.47,852.63C255.68,851.50 259.13,849.51 262.46,847.64C265.79,845.76 269.12,843.68 272.45,841.39C275.77,839.11 279.10,836.61 282.43,833.91C285.76,831.20 289.09,828.08 292.42,825.17C295.74,822.26 299.07,819.14 302.40,816.43C305.73,813.73 309.06,811.02 312.39,808.94C315.72,806.86 319.04,805.41 322.37,803.95C325.70,802.49 329.03,800.95 332.36,800.20C335.69,799.46 339.01,799.54 342.34,799.46C345.67,799.37 349.00,799.46 352.33,799.71C355.66,799.95 358.99,800.33 362.31,800.95C365.64,801.58 368.97,802.53 372.30,803.45C375.63,804.36 378.96,805.32 382.28,806.45C385.61,807.57 389.11,808.94 392.27,810.19C395.43,811.44 399.76,813.31 401.26,813.93" fill="none" stroke="#ff7f0e" stroke-width="1.5" stroke-dasharray="4.8 2.1"/>
</g>
<path d="M243.20,774.30H401.30M243.20,774.30V873.50M243.20,873.50H401.30" stroke="#000" stroke-width="1.30" fill="none" stroke-linecap="square"/>
<path d="M401.30,774.30V873.50" stroke="#000" stroke-width="1.30" fill="none" stroke-linecap="square"/>
<text x="243.20" y="884.70" font-size="8.20" fill="#222" text-anchor="middle" stroke="#222" stroke-width="0.16" textLength="9.67" lengthAdjust="spacingAndGlyphs">30</text>
<text x="295.90" y="884.70" font-size="8.20" fill="#222" text-anchor="middle" stroke="#222" stroke-width="0.16" textLength="9.67" lengthAdjust="spacingAndGlyphs">40</text>
<text x="348.60" y="884.70" font-size="8.20" fill="#222" text-anchor="middle" stroke="#222" stroke-width="0.16" textLength="9.67" lengthAdjust="spacingAndGlyphs">50</text>
<text x="401.30" y="884.70" font-size="8.20" fill="#222" text-anchor="middle" stroke="#222" stroke-width="0.16" textLength="9.67" lengthAdjust="spacingAndGlyphs">60</text>
<text x="239.00" y="875.80" font-size="6.50" fill="#222" text-anchor="end" stroke="#222" stroke-width="0.15" textLength="4.13" lengthAdjust="spacingAndGlyphs">0</text>
<text x="239.00" y="855.96" font-size="6.50" fill="#222" text-anchor="end" stroke="#222" stroke-width="0.15" textLength="4.13" lengthAdjust="spacingAndGlyphs">1</text>
<text x="239.00" y="836.12" font-size="6.50" fill="#222" text-anchor="end" stroke="#222" stroke-width="0.15" textLength="4.13" lengthAdjust="spacingAndGlyphs">2</text>
<text x="239.00" y="816.28" font-size="6.50" fill="#222" text-anchor="end" stroke="#222" stroke-width="0.15" textLength="4.13" lengthAdjust="spacingAndGlyphs">3</text>
<text x="239.00" y="796.44" font-size="6.50" fill="#222" text-anchor="end" stroke="#222" stroke-width="0.15" textLength="4.13" lengthAdjust="spacingAndGlyphs">4</text>
<text x="239.00" y="776.60" font-size="6.50" fill="#222" text-anchor="end" stroke="#222" stroke-width="0.15" textLength="4.13" lengthAdjust="spacingAndGlyphs">5</text>
<path d="M243.20,873.50v2.4M295.90,873.50v2.4M348.60,873.50v2.4M401.30,873.50v2.4M243.20,873.50h-2.4M243.20,853.66h-2.4M243.20,833.82h-2.4M243.20,813.98h-2.4M243.20,794.14h-2.4M243.20,774.30h-2.4" stroke="#000" stroke-width="0.7" fill="none"/>
<text x="405.50" y="875.80" font-size="6.50" fill="#222" text-anchor="start" stroke="#222" stroke-width="0.15" textLength="9.58" lengthAdjust="spacingAndGlyphs">−4</text>
<text x="405.50" y="851.00" font-size="6.50" fill="#222" text-anchor="start" stroke="#222" stroke-width="0.15" textLength="9.58" lengthAdjust="spacingAndGlyphs">−2</text>
<text x="405.50" y="826.20" font-size="6.50" fill="#222" text-anchor="start" stroke="#222" stroke-width="0.15" textLength="4.13" lengthAdjust="spacingAndGlyphs">0</text>
<text x="405.50" y="801.40" font-size="6.50" fill="#222" text-anchor="start" stroke="#222" stroke-width="0.15" textLength="4.13" lengthAdjust="spacingAndGlyphs">2</text>
<text x="405.50" y="776.60" font-size="6.50" fill="#222" text-anchor="start" stroke="#222" stroke-width="0.15" textLength="4.13" lengthAdjust="spacingAndGlyphs">4</text>
<path d="M401.30,873.50h2.4M401.30,848.70h2.4M401.30,823.90h2.4M401.30,799.10h2.4M401.30,774.30h2.4" stroke="#222" stroke-width="0.7" fill="none"/>
<text x="322.25" y="769.90" font-size="9.40" fill="#111" text-anchor="middle" stroke="#111" stroke-width="0.25" textLength="26.00" lengthAdjust="spacingAndGlyphs">NP JJA</text>
<text x="231.37" y="823.90" font-size="6.60" fill="#222" text-anchor="middle" stroke="#222" stroke-width="0.15" transform="rotate(-90 231.37 823.90)" textLength="9.40" lengthAdjust="spacingAndGlyphs">AR</text>
<text x="423.48" y="823.90" font-size="7.90" fill="#111" text-anchor="middle" stroke="#111" stroke-width="0.16" transform="rotate(-90 423.48 823.90)" textLength="59.00" lengthAdjust="spacingAndGlyphs">total transport</text>
<text x="322.25" y="894.00" font-size="6.50" fill="#222" text-anchor="middle" stroke="#222" stroke-width="0.15" textLength="26.30" lengthAdjust="spacingAndGlyphs">Latitude</text>
<clipPath id="c17"><rect x="456.60" y="774.30" width="158.10" height="99.20"/></clipPath>
<g clip-path="url(#c17)">
<path d="M456.49,855.12L468.97,848.88L481.45,841.39L493.93,835.15L506.42,830.16L518.90,828.91L531.38,828.91L543.86,830.16L556.34,832.66L568.82,837.65L581.31,843.89L593.79,850.13L606.27,855.12L614.76,856.87L614.76,872.60L606.27,871.85L593.79,870.10L583.80,867.61L573.82,862.61L563.83,856.37L553.85,851.38L543.86,848.88L533.88,850.13L523.89,848.88L513.91,850.13L501.42,856.37L488.94,863.86L473.96,870.10L456.49,873.60Z" fill="#2ca02c" fill-opacity="0.20" stroke="none"/>
<path d="M456.49,861.36L466.47,851.38L476.46,841.39L486.45,831.41L496.43,822.67L506.42,815.18L516.40,810.19L526.39,808.94L536.37,810.19L546.36,811.44L556.34,811.44L566.33,813.93L576.31,817.68L586.30,823.92L596.28,831.41L606.27,840.15L614.76,845.14L614.76,870.10L598.78,867.61L588.80,865.11L578.81,861.36L568.82,856.37L561.34,848.88L548.85,846.39L536.37,848.88L526.39,847.64L516.40,848.88L506.42,852.63L493.93,857.62L481.45,863.86L468.97,868.85L456.49,873.60Z" fill="#1f77b4" fill-opacity="0.20" stroke="none"/>
<path d="M456.49,847.64L466.47,840.15L476.46,831.41L486.45,822.67L496.43,815.18L506.42,808.94L516.40,802.70L526.39,798.96L536.37,797.71L546.36,796.96L556.34,795.21L563.83,792.72L571.32,795.21L578.81,798.96L586.30,803.95L593.79,806.45L598.78,805.20L602.53,818.93L614.76,818.93L614.76,860.12L603.77,858.87L588.80,855.12L576.31,848.88L563.83,845.14L551.35,843.89L536.37,843.89L521.39,845.14L506.42,850.13L491.44,857.62L473.96,867.61L456.49,873.60Z" fill="#e67d14" fill-opacity="0.20" stroke="none"/>
<path d="M456.49,862.61C458.15,861.91 463.15,859.83 466.47,858.37C469.80,856.91 473.13,855.33 476.46,853.88C479.79,852.42 483.12,850.96 486.45,849.63C489.77,848.30 493.10,846.97 496.43,845.89C499.76,844.81 503.09,843.89 506.42,843.14C509.74,842.39 513.07,841.81 516.40,841.39C519.73,840.98 523.06,840.65 526.39,840.65C529.72,840.65 533.04,841.06 536.37,841.39C539.70,841.73 543.03,842.14 546.36,842.64C549.69,843.14 553.01,843.56 556.34,844.39C559.67,845.22 563.00,846.47 566.33,847.64C569.66,848.80 572.99,850.13 576.31,851.38C579.64,852.63 582.97,853.88 586.30,855.12C589.63,856.37 592.96,857.50 596.28,858.87C599.61,860.24 603.19,862.11 606.27,863.36C609.35,864.61 613.34,865.86 614.76,866.36" fill="none" stroke="#2ca02c" stroke-width="1.5" stroke-linejoin="round"/>
<path d="M456.49,862.61C458.15,861.57 463.15,858.58 466.47,856.37C469.80,854.17 473.13,851.46 476.46,849.38C479.79,847.30 483.12,845.64 486.45,843.89C489.77,842.14 493.10,840.35 496.43,838.90C499.76,837.44 503.09,836.19 506.42,835.15C509.74,834.11 513.07,833.36 516.40,832.66C519.73,831.95 523.06,831.33 526.39,830.91C529.72,830.49 533.04,830.29 536.37,830.16C539.70,830.04 543.03,829.95 546.36,830.16C549.69,830.37 553.01,830.70 556.34,831.41C559.67,832.12 563.00,833.24 566.33,834.40C569.66,835.57 572.99,836.82 576.31,838.40C579.64,839.98 582.97,842.14 586.30,843.89C589.63,845.64 592.96,847.01 596.28,848.88C599.61,850.76 603.19,853.38 606.27,855.12C609.35,856.87 613.34,858.66 614.76,859.37" fill="none" stroke="#1f77b4" stroke-width="1.5" stroke-linejoin="round"/>
<path d="M456.49,863.86C458.15,862.41 463.15,858.24 466.47,855.12C469.80,852.00 473.13,848.34 476.46,845.14C479.79,841.94 483.12,838.61 486.45,835.90C489.77,833.20 493.10,830.91 496.43,828.91C499.76,826.92 503.09,825.29 506.42,823.92C509.74,822.55 513.07,821.63 516.40,820.67C519.73,819.72 523.06,818.89 526.39,818.18C529.72,817.47 533.04,816.93 536.37,816.43C539.70,815.93 543.03,815.47 546.36,815.18C549.69,814.89 553.01,814.56 556.34,814.68C559.67,814.81 563.00,815.22 566.33,815.93C569.66,816.64 572.99,817.39 576.31,818.93C579.64,820.47 582.97,823.09 586.30,825.17C589.63,827.25 592.96,828.91 596.28,831.41C599.61,833.91 603.19,837.52 606.27,840.15C609.35,842.77 613.34,845.97 614.76,847.14" fill="none" stroke="#ff7f0e" stroke-width="1.5" stroke-linejoin="round"/>
<path d="M456.49,853.88C458.15,852.96 463.15,850.46 466.47,848.38C469.80,846.30 473.13,843.89 476.46,841.39C479.79,838.90 483.12,836.24 486.45,833.41C489.77,830.58 493.10,827.33 496.43,824.42C499.76,821.51 503.09,818.84 506.42,815.93C509.74,813.02 513.07,809.77 516.40,806.94C519.73,804.12 523.06,801.33 526.39,798.96C529.72,796.58 533.04,794.50 536.37,792.72C539.70,790.93 543.03,789.39 546.36,788.22C549.69,787.06 553.01,786.31 556.34,785.73C559.67,785.14 563.00,784.85 566.33,784.73C569.66,784.60 572.99,784.60 576.31,784.98C579.64,785.35 582.97,786.10 586.30,786.97C589.63,787.85 592.96,789.05 596.28,790.22C599.61,791.38 603.19,792.59 606.27,793.96C609.35,795.34 613.34,797.71 614.76,798.46" fill="none" stroke="#2ca02c" stroke-width="1.5" stroke-dasharray="4.8 2.1"/>
<path d="M456.49,851.38C458.15,850.46 463.15,847.97 466.47,845.89C469.80,843.81 473.13,841.31 476.46,838.90C479.79,836.48 483.12,834.11 486.45,831.41C489.77,828.70 493.10,825.58 496.43,822.67C499.76,819.76 503.09,816.85 506.42,813.93C509.74,811.02 513.07,807.90 516.40,805.20C519.73,802.49 523.06,800.00 526.39,797.71C529.72,795.42 533.04,793.26 536.37,791.47C539.70,789.68 543.03,788.14 546.36,786.97C549.69,785.81 553.01,785.06 556.34,784.48C559.67,783.89 563.00,783.56 566.33,783.48C569.66,783.40 572.99,783.69 576.31,783.98C579.64,784.27 582.97,784.60 586.30,785.23C589.63,785.85 592.96,786.68 596.28,787.72C599.61,788.76 603.19,790.34 606.27,791.47C609.35,792.59 613.34,793.96 614.76,794.46" fill="none" stroke="#1f77b4" stroke-width="1.5" stroke-dasharray="4.8 2.1"/>
<path d="M456.49,849.38C458.15,848.47 463.15,845.97 466.47,843.89C469.80,841.81 473.13,839.40 476.46,836.90C479.79,834.40 483.12,831.70 486.45,828.91C489.77,826.12 493.10,823.09 496.43,820.18C499.76,817.26 503.09,814.35 506.42,811.44C509.74,808.53 513.07,805.53 516.40,802.70C519.73,799.87 523.06,796.83 526.39,794.46C529.72,792.09 533.04,790.30 536.37,788.47C539.70,786.64 543.03,784.77 546.36,783.48C549.69,782.19 553.01,781.40 556.34,780.73C559.67,780.07 563.00,779.69 566.33,779.48C569.66,779.28 572.99,779.28 576.31,779.48C579.64,779.69 582.97,780.19 586.30,780.73C589.63,781.27 592.96,781.90 596.28,782.73C599.61,783.56 603.19,784.77 606.27,785.73C609.35,786.68 613.34,788.01 614.76,788.47" fill="none" stroke="#ff7f0e" stroke-width="1.5" stroke-dasharray="4.8 2.1"/>
</g>
<path d="M456.60,774.30H614.70M456.60,774.30V873.50M456.60,873.50H614.70" stroke="#000" stroke-width="1.30" fill="none" stroke-linecap="square"/>
<path d="M614.70,774.30V873.50" stroke="#000" stroke-width="1.30" fill="none" stroke-linecap="square"/>
<text x="456.60" y="884.70" font-size="8.20" fill="#222" text-anchor="middle" stroke="#222" stroke-width="0.16" textLength="9.67" lengthAdjust="spacingAndGlyphs">40</text>
<text x="519.84" y="884.70" font-size="8.20" fill="#222" text-anchor="middle" stroke="#222" stroke-width="0.16" textLength="9.67" lengthAdjust="spacingAndGlyphs">50</text>
<text x="583.08" y="884.70" font-size="8.20" fill="#222" text-anchor="middle" stroke="#222" stroke-width="0.16" textLength="9.67" lengthAdjust="spacingAndGlyphs">60</text>
<text x="452.40" y="875.80" font-size="6.50" fill="#222" text-anchor="end" stroke="#222" stroke-width="0.15" textLength="4.13" lengthAdjust="spacingAndGlyphs">0</text>
<text x="452.40" y="851.00" font-size="6.50" fill="#222" text-anchor="end" stroke="#222" stroke-width="0.15" textLength="4.13" lengthAdjust="spacingAndGlyphs">1</text>
<text x="452.40" y="826.20" font-size="6.50" fill="#222" text-anchor="end" stroke="#222" stroke-width="0.15" textLength="4.13" lengthAdjust="spacingAndGlyphs">2</text>
<text x="452.40" y="801.40" font-size="6.50" fill="#222" text-anchor="end" stroke="#222" stroke-width="0.15" textLength="4.13" lengthAdjust="spacingAndGlyphs">3</text>
<text x="452.40" y="776.60" font-size="6.50" fill="#222" text-anchor="end" stroke="#222" stroke-width="0.15" textLength="4.13" lengthAdjust="spacingAndGlyphs">4</text>
<path d="M456.60,873.50v2.4M519.84,873.50v2.4M583.08,873.50v2.4M456.60,873.50h-2.4M456.60,848.70h-2.4M456.60,823.90h-2.4M456.60,799.10h-2.4M456.60,774.30h-2.4" stroke="#000" stroke-width="0.7" fill="none"/>
<text x="618.90" y="875.80" font-size="6.50" fill="#222" text-anchor="start" stroke="#222" stroke-width="0.15" textLength="9.58" lengthAdjust="spacingAndGlyphs">−2</text>
<text x="618.90" y="861.63" font-size="6.50" fill="#222" text-anchor="start" stroke="#222" stroke-width="0.15" textLength="9.58" lengthAdjust="spacingAndGlyphs">−1</text>
<text x="618.90" y="847.46" font-size="6.50" fill="#222" text-anchor="start" stroke="#222" stroke-width="0.15" textLength="4.13" lengthAdjust="spacingAndGlyphs">0</text>
<text x="618.90" y="833.29" font-size="6.50" fill="#222" text-anchor="start" stroke="#222" stroke-width="0.15" textLength="4.13" lengthAdjust="spacingAndGlyphs">1</text>
<text x="618.90" y="819.11" font-size="6.50" fill="#222" text-anchor="start" stroke="#222" stroke-width="0.15" textLength="4.13" lengthAdjust="spacingAndGlyphs">2</text>
<text x="618.90" y="804.94" font-size="6.50" fill="#222" text-anchor="start" stroke="#222" stroke-width="0.15" textLength="4.13" lengthAdjust="spacingAndGlyphs">3</text>
<text x="618.90" y="790.77" font-size="6.50" fill="#222" text-anchor="start" stroke="#222" stroke-width="0.15" textLength="4.13" lengthAdjust="spacingAndGlyphs">4</text>
<text x="618.90" y="776.60" font-size="6.50" fill="#222" text-anchor="start" stroke="#222" stroke-width="0.15" textLength="4.13" lengthAdjust="spacingAndGlyphs">5</text>
<path d="M614.70,873.50h2.4M614.70,859.33h2.4M614.70,845.16h2.4M614.70,830.99h2.4M614.70,816.81h2.4M614.70,802.64h2.4M614.70,788.47h2.4M614.70,774.30h2.4" stroke="#222" stroke-width="0.7" fill="none"/>
<text x="535.65" y="769.90" font-size="9.40" fill="#111" text-anchor="middle" stroke="#111" stroke-width="0.25" textLength="26.00" lengthAdjust="spacingAndGlyphs">NA JJA</text>
<text x="444.77" y="823.90" font-size="6.60" fill="#222" text-anchor="middle" stroke="#222" stroke-width="0.15" transform="rotate(-90 444.77 823.90)" textLength="9.40" lengthAdjust="spacingAndGlyphs">AR</text>
<text x="636.88" y="823.90" font-size="7.90" fill="#111" text-anchor="middle" stroke="#111" stroke-width="0.16" transform="rotate(-90 636.88 823.90)" textLength="59.00" lengthAdjust="spacingAndGlyphs">total transport</text>
<text x="535.65" y="894.00" font-size="6.50" fill="#222" text-anchor="middle" stroke="#222" stroke-width="0.15" textLength="26.30" lengthAdjust="spacingAndGlyphs">Latitude</text>
<text x="224.90" y="11.80" font-size="12.00" fill="#222" text-anchor="start" stroke="#222" stroke-width="0.04" textLength="16.50" lengthAdjust="spacingAndGlyphs">(a)</text>
<text x="246.60" y="11.80" font-size="10.30" fill="#222" text-anchor="start" stroke="#222" stroke-width="0.04" textLength="130.60" lengthAdjust="spacingAndGlyphs">SHT Meridional Transport</text>
<text x="224.90" y="314.90" font-size="12.00" fill="#222" text-anchor="start" stroke="#222" stroke-width="0.04" textLength="16.50" lengthAdjust="spacingAndGlyphs">(b)</text>
<text x="246.60" y="314.90" font-size="10.30" fill="#222" text-anchor="start" stroke="#222" stroke-width="0.04" textLength="128.40" lengthAdjust="spacingAndGlyphs">LHT Meridional Transport</text>
<text x="224.90" y="614.70" font-size="12.00" fill="#222" text-anchor="start" stroke="#222" stroke-width="0.04" textLength="16.50" lengthAdjust="spacingAndGlyphs">(c)</text>
<text x="246.60" y="614.70" font-size="10.30" fill="#222" text-anchor="start" stroke="#222" stroke-width="0.04" textLength="132.20" lengthAdjust="spacingAndGlyphs">MSE Meridional Transport</text>
<path d="M584.3,609.8H601.1" stroke="#000" stroke-width="1.35"/>
<path d="M584.3,621.5H601.1" stroke="#000" stroke-width="1.35" stroke-dasharray="4.8 2.1"/>
<text x="606.60" y="612.80" font-size="8.60" fill="#222" text-anchor="start" stroke="#222" stroke-width="0.16" textLength="68.80" lengthAdjust="spacingAndGlyphs">AR MSE transport</text>
<text x="606.60" y="624.20" font-size="8.60" fill="#222" text-anchor="start" stroke="#222" stroke-width="0.16" textLength="75.50" lengthAdjust="spacingAndGlyphs">Total MSE transport</text>
<path d="M170.8,918.9H187.8" stroke="#2ca02c" stroke-width="1.5"/>
<path d="M244.8,918.9H261.6" stroke="#1f77b4" stroke-width="1.5"/>
<path d="M358.9,918.9H375.3" stroke="#ff7f0e" stroke-width="1.5"/>
<text x="194.60" y="920.70" font-size="10.00" fill="#111" text-anchor="start" stroke="#111" stroke-width="0.04" textLength="38.50" lengthAdjust="spacingAndGlyphs">historical</text>
<text x="266.90" y="920.70" font-size="10.00" fill="#111" text-anchor="start" stroke="#111" stroke-width="0.04" textLength="80.60" lengthAdjust="spacingAndGlyphs">ssp585 near future</text>
<text x="379.80" y="920.70" font-size="10.00" fill="#111" text-anchor="start" stroke="#111" stroke-width="0.04" textLength="72.90" lengthAdjust="spacingAndGlyphs">ssp585 far future</text>
<g stroke="#333" stroke-width="0.75" fill="none"><path d="M175.6,931.2V941.4M173.1,931.2h5M173.1,941.4h5"/><circle cx="175.6" cy="936.2" r="2.3"/></g>
<text x="187.30" y="940.50" font-size="10.00" fill="#111" text-anchor="start" stroke="#111" stroke-width="0.04" textLength="366.00" lengthAdjust="spacingAndGlyphs">Temperature/moisture gradient with respect to a latitude decrement of delta Δ degree</text>
</svg>
</body></html>
